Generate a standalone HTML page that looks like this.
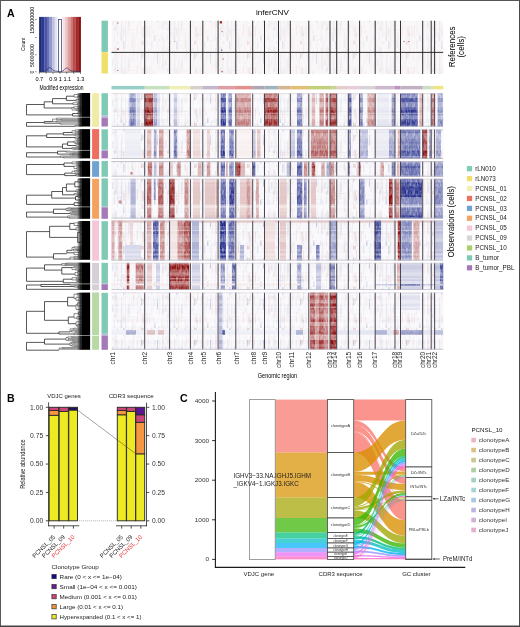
<!DOCTYPE html>
<html><head><meta charset="utf-8"><style>
html,body{margin:0;padding:0;background:#fff;width:520px;height:627px;overflow:hidden}
svg{display:block;font-family:"Liberation Sans",sans-serif;will-change:transform}

</style></head><body>
<div id="w"><svg width="520" height="627" viewBox="0 0 520 627" font-family="Liberation Sans, sans-serif"><rect x="0" y="0" width="520" height="627" fill="#fff" />
<text x="6.9" y="16.5" font-size="10.6" font-weight="bold" >A</text>
<rect x="39.1" y="16.9" width="2.76" height="54.9" fill="#1e2a7a" />
<rect x="41.71" y="16.9" width="2.76" height="54.9" fill="#2c3a8e" />
<rect x="44.31" y="16.9" width="2.76" height="54.9" fill="#4a52a4" />
<rect x="46.92" y="16.9" width="2.76" height="54.9" fill="#6a70b6" />
<rect x="49.52" y="16.9" width="2.76" height="54.9" fill="#9498cc" />
<rect x="52.13" y="16.9" width="2.76" height="54.9" fill="#bdc0e2" />
<rect x="54.74" y="16.9" width="2.76" height="54.9" fill="#e2e4f3" />
<rect x="57.34" y="16.9" width="2.76" height="54.9" fill="#ffffff" />
<rect x="59.95" y="16.9" width="2.76" height="54.9" fill="#ffffff" />
<rect x="62.56" y="16.9" width="2.76" height="54.9" fill="#f6e0e0" />
<rect x="65.16" y="16.9" width="2.76" height="54.9" fill="#ecc4c4" />
<rect x="67.77" y="16.9" width="2.76" height="54.9" fill="#dc9e9e" />
<rect x="70.38" y="16.9" width="2.76" height="54.9" fill="#cc7676" />
<rect x="72.98" y="16.9" width="2.76" height="54.9" fill="#b84c4c" />
<rect x="75.59" y="16.9" width="2.76" height="54.9" fill="#a42a2a" />
<rect x="78.19" y="16.9" width="2.76" height="54.9" fill="#8e1414" />
<rect x="58.4" y="19.5" width="3.2" height="52.3" fill="#fff" stroke="#27306e" stroke-width="0.7"/>
<path d="M39.1 71.6 L44 71.4 L46.5 70.5 L48 68.2 L49.5 67.3 L51 68 L52.5 69.8 L54 70.8 L57 71.2 L58.4 71.4 M61.6 71.4 L63 71 L64.5 69.4 L66 67.9 L67.5 68.2 L69 69.6 L71 70.8 L74 71.3 L80.8 71.6" fill="none" stroke="#1d2660" stroke-width="0.6"/>
<line x1="35.2" y1="19.6" x2="36.6" y2="19.6" stroke="#222" stroke-width="0.6" />
<line x1="35.2" y1="37.5" x2="36.6" y2="37.5" stroke="#222" stroke-width="0.6" />
<line x1="35.2" y1="54.8" x2="36.6" y2="54.8" stroke="#222" stroke-width="0.6" />
<line x1="35.2" y1="71.8" x2="36.6" y2="71.8" stroke="#222" stroke-width="0.6" />
<line x1="39.1" y1="72.2" x2="80.8" y2="72.2" stroke="#222" stroke-width="0.6" />
<line x1="39.3" y1="72.2" x2="39.3" y2="73.8" stroke="#222" stroke-width="0.6" />
<line x1="46.17" y1="72.2" x2="46.17" y2="73.8" stroke="#222" stroke-width="0.6" />
<line x1="53.03" y1="72.2" x2="53.03" y2="73.8" stroke="#222" stroke-width="0.6" />
<line x1="59.9" y1="72.2" x2="59.9" y2="73.8" stroke="#222" stroke-width="0.6" />
<line x1="66.77" y1="72.2" x2="66.77" y2="73.8" stroke="#222" stroke-width="0.6" />
<line x1="73.63" y1="72.2" x2="73.63" y2="73.8" stroke="#222" stroke-width="0.6" />
<line x1="80.5" y1="72.2" x2="80.5" y2="73.8" stroke="#222" stroke-width="0.6" />
<text x="34.2" y="20.2" font-size="5" text-anchor="middle" textLength="27" lengthAdjust="spacingAndGlyphs" transform="rotate(-90 34.2 20.2)" >150000000</text>
<text x="34.2" y="55.5" font-size="5" text-anchor="middle" textLength="23" lengthAdjust="spacingAndGlyphs" transform="rotate(-90 34.2 55.5)" >50000000</text>
<text x="34.2" y="72.2" font-size="5" text-anchor="middle" transform="rotate(-90 34.2 72.2)" >0</text>
<text x="24.6" y="44.3" font-size="6.2" text-anchor="middle" textLength="13.5" lengthAdjust="spacingAndGlyphs" transform="rotate(-90 24.6 44.3)" >Count</text>
<text x="39.3" y="80.9" font-size="5.6" text-anchor="middle" >0.7</text>
<text x="53.2" y="80.9" font-size="5.6" text-anchor="middle" >0.9</text>
<text x="60.3" y="80.9" font-size="5.6" text-anchor="middle" >1</text>
<text x="67.3" y="80.9" font-size="5.6" text-anchor="middle" >1.1</text>
<text x="80.5" y="80.9" font-size="5.6" text-anchor="middle" >1.3</text>
<text x="61.5" y="90" font-size="6.3" text-anchor="middle" textLength="44" lengthAdjust="spacingAndGlyphs" >Modified expression</text>
<text x="272.4" y="14.9" font-size="8.1" text-anchor="middle" textLength="33" lengthAdjust="spacingAndGlyphs" >inferCNV</text>
<rect x="111.5" y="85.9" width="33.3" height="3.5" fill="#97cfc6" />
<rect x="144.7" y="85.9" width="25" height="3.5" fill="#c7e1be" />
<rect x="169.6" y="85.9" width="20.9" height="3.5" fill="#f0efb8" />
<rect x="190.4" y="85.9" width="12.5" height="3.5" fill="#d4d2c8" />
<rect x="202.8" y="85.9" width="15.4" height="3.5" fill="#c3b6cd" />
<rect x="218.1" y="85.9" width="17.8" height="3.5" fill="#dc9ea2" />
<rect x="235.8" y="85.9" width="17" height="3.5" fill="#e1928d" />
<rect x="252.7" y="85.9" width="11.9" height="3.5" fill="#ada7b6" />
<rect x="264.5" y="85.9" width="14.1" height="3.5" fill="#9fb4bf" />
<rect x="278.5" y="85.9" width="11.9" height="3.5" fill="#d4b58f" />
<rect x="290.3" y="85.9" width="18.6" height="3.5" fill="#e2be77" />
<rect x="308.8" y="85.9" width="21.3" height="3.5" fill="#c3d07a" />
<rect x="330" y="85.9" width="6.8" height="3.5" fill="#c6d497" />
<rect x="336.7" y="85.9" width="11.7" height="3.5" fill="#e4cdcb" />
<rect x="348.3" y="85.9" width="11.4" height="3.5" fill="#e6cddb" />
<rect x="359.6" y="85.9" width="15.7" height="3.5" fill="#d8d2d6" />
<rect x="375.2" y="85.9" width="19.9" height="3.5" fill="#cbb8cc" />
<rect x="395" y="85.9" width="5.6" height="3.5" fill="#bf93c0" />
<rect x="400.5" y="85.9" width="22.3" height="3.5" fill="#c2b1c1" />
<rect x="422.7" y="85.9" width="8.6" height="3.5" fill="#c9dec4" />
<rect x="431.2" y="85.9" width="3.5" height="3.5" fill="#dde3a4" />
<rect x="434.6" y="85.9" width="8.7" height="3.5" fill="#f2e480" />
<defs><pattern id="nz" patternUnits="userSpaceOnUse" width="53" height="41"><rect x="0" y="10.66" width="1.2" height="9.81" fill="#eeeef2"/><rect x="0" y="20.47" width="1.2" height="8.14" fill="#f6ecec"/><rect x="0" y="39.51" width="1.2" height="1.49" fill="#ebebf0"/><rect x="2.7" y="0" width="0.5" height="2.6" fill="#f8f1f1"/><rect x="2.7" y="23.19" width="0.5" height="6.57" fill="#eaeaef"/><rect x="2.7" y="29.76" width="0.5" height="5.15" fill="#efeff3"/><rect x="2.7" y="34.92" width="0.5" height="6.08" fill="#cbcde3"/><rect x="3.5" y="6.7" width="0.5" height="5.97" fill="#ced0e5"/><rect x="3.5" y="12.67" width="0.5" height="2.87" fill="#cfd1e5"/><rect x="3.5" y="15.55" width="0.5" height="4.46" fill="#e6caca"/><rect x="3.5" y="20.01" width="0.5" height="7.59" fill="#e7cece"/><rect x="3.5" y="27.6" width="0.5" height="8.44" fill="#f4e8e8"/><rect x="4.6" y="0" width="0.5" height="4.11" fill="#d5d7e8"/><rect x="4.6" y="4.11" width="0.5" height="11.89" fill="#e6cbcb"/><rect x="4.6" y="16" width="0.5" height="4.96" fill="#ebd5d5"/><rect x="4.6" y="20.96" width="0.5" height="8.01" fill="#c6c8e0"/><rect x="4.6" y="36.72" width="0.5" height="3.83" fill="#cccfe4"/><rect x="6.6" y="0" width="0.7" height="8.87" fill="#f0f1f7"/><rect x="6.6" y="8.87" width="0.7" height="3.09" fill="#e7cdcd"/><rect x="6.6" y="18.17" width="0.7" height="6.91" fill="#c5c7e0"/><rect x="6.6" y="31.87" width="0.7" height="8.16" fill="#f5f5f8"/><rect x="6.6" y="40.03" width="0.7" height="0.97" fill="#f2e4e4"/><rect x="7.6" y="17.43" width="0.5" height="8.91" fill="#f8f1f1"/><rect x="7.6" y="37.44" width="0.5" height="3.56" fill="#f1f1f4"/><rect x="8.1" y="0" width="0.5" height="6.53" fill="#f4f4f7"/><rect x="8.1" y="6.53" width="0.5" height="11.63" fill="#eedbdb"/><rect x="8.1" y="28.74" width="0.5" height="2.3" fill="#e9d1d1"/><rect x="8.1" y="31.04" width="0.5" height="2.12" fill="#f6eded"/><rect x="8.1" y="33.16" width="0.5" height="6.16" fill="#d2d4e7"/><rect x="8.1" y="39.33" width="0.5" height="1.67" fill="#dbddec"/><rect x="8.6" y="5.35" width="1.2" height="8.6" fill="#e2e3ef"/><rect x="8.6" y="13.95" width="1.2" height="8.12" fill="#eeeef2"/><rect x="8.6" y="22.07" width="1.2" height="4.41" fill="#e9e9ee"/><rect x="8.6" y="26.49" width="1.2" height="4" fill="#e3c4c4"/><rect x="8.6" y="30.49" width="1.2" height="3.35" fill="#f2f2f8"/><rect x="9.8" y="6.71" width="1.2" height="10.31" fill="#e8e8ed"/><rect x="9.8" y="17.02" width="1.2" height="8.25" fill="#eaeaef"/><rect x="9.8" y="25.27" width="1.2" height="4.81" fill="#efeff3"/><rect x="11" y="0" width="1.2" height="3.09" fill="#e2e3ef"/><rect x="11" y="11.63" width="1.2" height="9.55" fill="#ededf1"/><rect x="11" y="21.18" width="1.2" height="11.47" fill="#eaeaef"/><rect x="11" y="32.65" width="1.2" height="4.24" fill="#e1e2ef"/><rect x="11" y="40.86" width="1.2" height="0.14" fill="#f0f0f4"/><rect x="12.8" y="12.97" width="0.7" height="3.23" fill="#f7eeee"/><rect x="12.8" y="32.59" width="0.7" height="2.16" fill="#f1e1e1"/><rect x="14.5" y="0" width="0.5" height="3.73" fill="#edeef5"/><rect x="14.5" y="21.29" width="0.5" height="11.46" fill="#eff0f7"/><rect x="14.5" y="32.75" width="0.5" height="7.27" fill="#d5d7e9"/><rect x="14.5" y="40.02" width="0.5" height="0.98" fill="#e7e7ec"/><rect x="15.3" y="10.51" width="0.9" height="7.24" fill="#ecd8d8"/><rect x="15.3" y="17.75" width="0.9" height="8.05" fill="#dbdcec"/><rect x="15.3" y="25.8" width="0.9" height="10.01" fill="#d3d4e7"/><rect x="15.3" y="35.81" width="0.9" height="5.19" fill="#c7cae1"/><rect x="17.2" y="0" width="1.2" height="3.27" fill="#c8cbe2"/><rect x="17.2" y="3.27" width="1.2" height="5.17" fill="#c7cae1"/><rect x="17.2" y="8.44" width="1.2" height="9.79" fill="#f1f1f4"/><rect x="17.2" y="26.84" width="1.2" height="3.23" fill="#f4e9e9"/><rect x="17.2" y="30.06" width="1.2" height="6.37" fill="#ecd8d8"/><rect x="17.2" y="40.48" width="1.2" height="0.52" fill="#f2f2f5"/><rect x="19" y="0" width="0.7" height="5.16" fill="#e7e7ed"/><rect x="19" y="5.16" width="0.7" height="3.34" fill="#e7e8f2"/><rect x="19" y="8.5" width="0.7" height="10.32" fill="#eeeef6"/><rect x="19" y="18.82" width="0.7" height="8.85" fill="#e5e5eb"/><rect x="19" y="27.67" width="0.7" height="3.15" fill="#f3f3f6"/><rect x="19" y="30.83" width="0.7" height="2.71" fill="#ecd7d7"/><rect x="19" y="33.53" width="0.7" height="7.47" fill="#e5e5eb"/><rect x="19.7" y="3.34" width="0.5" height="2.78" fill="#efdddd"/><rect x="19.7" y="6.12" width="0.5" height="4.1" fill="#f2f2f8"/><rect x="19.7" y="10.22" width="0.5" height="6.08" fill="#f5f5f7"/><rect x="19.7" y="16.3" width="0.5" height="9.92" fill="#e6e6ec"/><rect x="19.7" y="26.22" width="0.5" height="11.4" fill="#ebd5d5"/><rect x="19.7" y="37.62" width="0.5" height="3.38" fill="#e7cdcd"/><rect x="21.2" y="19.91" width="0.7" height="9.65" fill="#f0f1f7"/><rect x="21.2" y="29.57" width="0.7" height="6.69" fill="#f2f2f5"/><rect x="22.5" y="0" width="0.7" height="8.6" fill="#ebebf0"/><rect x="22.5" y="17.61" width="0.7" height="11.8" fill="#d0d2e6"/><rect x="22.5" y="29.41" width="0.7" height="6.02" fill="#f0e0e0"/><rect x="22.5" y="39.94" width="0.7" height="1.06" fill="#ebebf0"/><rect x="23.2" y="11.72" width="0.5" height="10.56" fill="#dfe0ee"/><rect x="23.2" y="22.28" width="0.5" height="4.84" fill="#ecd8d8"/><rect x="25.2" y="0" width="0.5" height="8.33" fill="#f1f2f8"/><rect x="25.2" y="8.33" width="0.5" height="5.98" fill="#f3f3f6"/><rect x="25.2" y="14.31" width="0.5" height="9.19" fill="#f1f2f8"/><rect x="25.7" y="0" width="1.2" height="6.56" fill="#ecd8d8"/><rect x="25.7" y="12.99" width="1.2" height="6.56" fill="#ededf1"/><rect x="25.7" y="31.52" width="1.2" height="9.34" fill="#ebebf0"/><rect x="25.7" y="40.86" width="1.2" height="0.14" fill="#d9daea"/><rect x="27.5" y="0" width="0.7" height="3.9" fill="#f6f6f8"/><rect x="27.5" y="3.9" width="0.7" height="2.61" fill="#ead3d3"/><rect x="27.5" y="6.51" width="0.7" height="7.42" fill="#e9d0d0"/><rect x="27.5" y="13.92" width="0.7" height="8.31" fill="#eaeaf4"/><rect x="27.5" y="31.68" width="0.7" height="2.74" fill="#f3f3f6"/><rect x="27.5" y="34.43" width="0.7" height="6.24" fill="#e5e5eb"/><rect x="27.5" y="40.67" width="0.7" height="0.33" fill="#c8cae1"/><rect x="28.8" y="0" width="0.5" height="6.62" fill="#dfe0ee"/><rect x="28.8" y="6.62" width="0.5" height="10.15" fill="#f3f4f9"/><rect x="28.8" y="27.88" width="0.5" height="8.95" fill="#f3f3f6"/><rect x="28.8" y="36.83" width="0.5" height="4.17" fill="#e4e5f1"/><rect x="30.8" y="6.38" width="0.9" height="5.05" fill="#f2f2f5"/><rect x="30.8" y="11.43" width="0.9" height="5.62" fill="#efdfdf"/><rect x="30.8" y="17.04" width="0.9" height="3.95" fill="#ededf1"/><rect x="30.8" y="24.76" width="0.9" height="10.81" fill="#ecd9d9"/><rect x="32.7" y="0" width="0.5" height="7.82" fill="#e4e5f0"/><rect x="32.7" y="7.82" width="0.5" height="3.05" fill="#e9d1d1"/><rect x="32.7" y="10.87" width="0.5" height="10.16" fill="#f1f1f4"/><rect x="32.7" y="21.04" width="0.5" height="6.59" fill="#e4e5f0"/><rect x="32.7" y="39.69" width="0.5" height="1.31" fill="#f0e0e0"/><rect x="34.2" y="7.24" width="0.5" height="10.02" fill="#e5e5eb"/><rect x="34.2" y="17.26" width="0.5" height="5.76" fill="#efdddd"/><rect x="34.2" y="23.02" width="0.5" height="11.7" fill="#e9e9ee"/><rect x="34.2" y="34.71" width="0.5" height="3.79" fill="#f6f6f8"/><rect x="34.2" y="38.51" width="0.5" height="2.49" fill="#ececf1"/><rect x="35" y="0" width="1.2" height="3.85" fill="#e7cccc"/><rect x="35" y="11.33" width="1.2" height="6.79" fill="#c8cae1"/><rect x="35" y="25.6" width="1.2" height="6.83" fill="#f0f0f3"/><rect x="35" y="32.43" width="1.2" height="7.28" fill="#f2f2f5"/><rect x="35" y="39.7" width="1.2" height="1.3" fill="#ececf0"/><rect x="36.5" y="0" width="1.2" height="3.57" fill="#e4c6c6"/><rect x="36.5" y="11.94" width="1.2" height="4.67" fill="#e6cccc"/><rect x="36.5" y="26.82" width="1.2" height="10.22" fill="#e8cece"/><rect x="36.5" y="37.04" width="1.2" height="3.96" fill="#f1f1f4"/><rect x="38" y="3.93" width="1.2" height="9.81" fill="#efdede"/><rect x="38" y="25.21" width="1.2" height="5.16" fill="#f5f5f8"/><rect x="38" y="30.37" width="1.2" height="2.74" fill="#e9e9ee"/><rect x="38" y="33.12" width="1.2" height="3.22" fill="#d2d4e7"/><rect x="38" y="36.33" width="1.2" height="4.67" fill="#eaeaef"/><rect x="40.7" y="0" width="0.7" height="4.9" fill="#e5e6f1"/><rect x="40.7" y="10.83" width="0.7" height="4.56" fill="#ededf1"/><rect x="40.7" y="15.39" width="0.7" height="9.24" fill="#eff0f7"/><rect x="40.7" y="27.57" width="0.7" height="9.08" fill="#e5c8c8"/><rect x="40.7" y="36.66" width="0.7" height="2.9" fill="#f6eded"/><rect x="42.4" y="8.47" width="0.7" height="10.21" fill="#efdede"/><rect x="43.1" y="0" width="0.9" height="5.31" fill="#efeff6"/><rect x="43.1" y="26.24" width="0.9" height="11.03" fill="#edd9d9"/><rect x="45.5" y="0" width="0.7" height="7.67" fill="#ced1e5"/><rect x="45.5" y="7.67" width="0.7" height="6.78" fill="#f2f2f5"/><rect x="45.5" y="14.45" width="0.7" height="10.83" fill="#e8e9f3"/><rect x="45.5" y="25.28" width="0.7" height="7.46" fill="#e7e7ec"/><rect x="45.5" y="32.74" width="0.7" height="5.35" fill="#f0f0f4"/><rect x="45.5" y="38.09" width="0.7" height="2.91" fill="#eeeef2"/><rect x="47.2" y="9.83" width="0.7" height="11.99" fill="#ececf0"/><rect x="47.2" y="30.22" width="0.7" height="3.59" fill="#ecd8d8"/><rect x="47.2" y="33.8" width="0.7" height="6.06" fill="#f6f6f8"/><rect x="48.2" y="11.59" width="1.2" height="6.7" fill="#e9e9ee"/><rect x="48.2" y="35.53" width="1.2" height="5.47" fill="#c8cbe2"/><rect x="50.9" y="0" width="1.2" height="6.2" fill="#efeff3"/><rect x="50.9" y="6.2" width="1.2" height="5.76" fill="#f2f2f5"/><rect x="50.9" y="11.97" width="1.2" height="10.44" fill="#c5c8e0"/><rect x="52.7" y="0" width="1.2" height="7.64" fill="#dfe1ee"/><rect x="52.7" y="7.64" width="1.2" height="2.72" fill="#e3c6c6"/><rect x="52.7" y="10.36" width="1.2" height="6.53" fill="#f2f3f8"/><rect x="52.7" y="16.89" width="1.2" height="6.41" fill="#f2f2f5"/><rect x="52.7" y="23.3" width="1.2" height="5.06" fill="#f1e2e2"/><rect x="52.7" y="38.13" width="1.2" height="2.87" fill="#d2d4e7"/><rect x="17" y="33.52" width="8.67" height="0.6" fill="#f1f1f4"/><rect x="47.78" y="35.19" width="5.42" height="0.6" fill="#e7e7ed"/><rect x="42.25" y="7.66" width="3.6" height="0.6" fill="#f2f2f5"/><rect x="15.02" y="29.03" width="13.8" height="0.6" fill="#e2e2e9"/><rect x="6.47" y="28.53" width="11.35" height="0.6" fill="#e1e1e8"/><rect x="3.79" y="17.81" width="5.68" height="0.6" fill="#eeeef2"/><rect x="9.43" y="28.42" width="5.17" height="0.6" fill="#f0f0f3"/><rect x="37.94" y="26.58" width="7.47" height="0.6" fill="#e7e7ec"/></pattern></defs>
<defs><pattern id="vt" patternUnits="userSpaceOnUse" width="23" height="29"><rect x="0" y="3.37" width="0.5" height="2.48" fill="#fff" opacity="0.4"/><rect x="0" y="9.35" width="0.5" height="3.42" fill="#fff" opacity="0.4"/><rect x="0" y="14.81" width="0.5" height="1.77" fill="#fff" opacity="0.4"/><rect x="0" y="16.58" width="0.5" height="3.16" fill="#fff" opacity="0.4"/><rect x="0" y="24.26" width="0.5" height="4.47" fill="#fff" opacity="0.3"/><rect x="0.5" y="6.24" width="0.5" height="4.29" fill="#fff" opacity="0.12"/><rect x="0.5" y="10.53" width="0.5" height="2.89" fill="#fff" opacity="0.3"/><rect x="0.5" y="13.42" width="0.5" height="3.86" fill="#fff" opacity="0.3"/><rect x="0.5" y="17.28" width="0.5" height="2.58" fill="#fff" opacity="0.4"/><rect x="1" y="1.54" width="0.5" height="2.03" fill="#fff" opacity="0.3"/><rect x="1" y="3.58" width="0.5" height="4.12" fill="#fff" opacity="0.12"/><rect x="1" y="7.69" width="0.5" height="2.68" fill="#fff" opacity="0.3"/><rect x="1" y="10.38" width="0.5" height="3.3" fill="#fff" opacity="0.3"/><rect x="1" y="13.67" width="0.5" height="3.34" fill="#fff" opacity="0.2"/><rect x="1" y="25.16" width="0.5" height="3.79" fill="#fff" opacity="0.2"/><rect x="1.5" y="0" width="1" height="3.62" fill="#fff" opacity="0.12"/><rect x="1.5" y="5.76" width="1" height="2.93" fill="#fff" opacity="0.4"/><rect x="1.5" y="12.69" width="1" height="1.08" fill="#fff" opacity="0.3"/><rect x="1.5" y="19.02" width="1" height="2.51" fill="#fff" opacity="0.2"/><rect x="1.5" y="21.53" width="1" height="3.2" fill="#fff" opacity="0.12"/><rect x="2.5" y="3.4" width="0.5" height="4.8" fill="#fff" opacity="0.3"/><rect x="2.5" y="8.19" width="0.5" height="2.17" fill="#fff" opacity="0.12"/><rect x="2.5" y="11.99" width="0.5" height="4.92" fill="#fff" opacity="0.2"/><rect x="2.5" y="19.16" width="0.5" height="4.59" fill="#fff" opacity="0.3"/><rect x="2.5" y="23.75" width="0.5" height="2.51" fill="#fff" opacity="0.3"/><rect x="3" y="0" width="1" height="4.89" fill="#fff" opacity="0.12"/><rect x="3" y="7.62" width="1" height="4.75" fill="#fff" opacity="0.3"/><rect x="3" y="12.36" width="1" height="4.91" fill="#fff" opacity="0.12"/><rect x="3" y="20.47" width="1" height="4.15" fill="#fff" opacity="0.2"/><rect x="3" y="25.7" width="1" height="1.24" fill="#fff" opacity="0.2"/><rect x="3" y="26.94" width="1" height="2.06" fill="#fff" opacity="0.2"/><rect x="4" y="0" width="1" height="3.83" fill="#fff" opacity="0.4"/><rect x="4" y="9.74" width="1" height="4.85" fill="#fff" opacity="0.12"/><rect x="4" y="14.59" width="1" height="3.51" fill="#fff" opacity="0.12"/><rect x="4" y="18.1" width="1" height="3.37" fill="#fff" opacity="0.2"/><rect x="4" y="23.18" width="1" height="2.25" fill="#fff" opacity="0.2"/><rect x="4" y="25.43" width="1" height="3.57" fill="#fff" opacity="0.12"/><rect x="5" y="15.36" width="0.7" height="3.61" fill="#fff" opacity="0.12"/><rect x="5" y="24.65" width="0.7" height="1.41" fill="#fff" opacity="0.2"/><rect x="5.7" y="5.56" width="0.7" height="4.54" fill="#fff" opacity="0.4"/><rect x="5.7" y="15.58" width="0.7" height="4.45" fill="#fff" opacity="0.2"/><rect x="5.7" y="24.26" width="0.7" height="4.23" fill="#fff" opacity="0.2"/><rect x="5.7" y="28.49" width="0.7" height="0.51" fill="#fff" opacity="0.3"/><rect x="6.4" y="0" width="0.7" height="3.07" fill="#fff" opacity="0.12"/><rect x="6.4" y="3.07" width="0.7" height="2.86" fill="#fff" opacity="0.3"/><rect x="6.4" y="5.93" width="0.7" height="2.16" fill="#fff" opacity="0.3"/><rect x="6.4" y="8.09" width="0.7" height="1.14" fill="#fff" opacity="0.3"/><rect x="6.4" y="10.86" width="0.7" height="2.91" fill="#fff" opacity="0.3"/><rect x="6.4" y="17.01" width="0.7" height="1.13" fill="#fff" opacity="0.4"/><rect x="6.4" y="18.13" width="0.7" height="4.35" fill="#fff" opacity="0.12"/><rect x="6.4" y="25.66" width="0.7" height="3.34" fill="#fff" opacity="0.12"/><rect x="7.1" y="5.38" width="0.5" height="4.59" fill="#fff" opacity="0.3"/><rect x="7.1" y="16.2" width="0.5" height="1.69" fill="#fff" opacity="0.12"/><rect x="7.1" y="19.84" width="0.5" height="3.1" fill="#fff" opacity="0.3"/><rect x="7.1" y="24.16" width="0.5" height="2.37" fill="#fff" opacity="0.12"/><rect x="7.1" y="26.52" width="0.5" height="2.48" fill="#fff" opacity="0.4"/><rect x="7.6" y="3.9" width="0.5" height="1.69" fill="#fff" opacity="0.12"/><rect x="7.6" y="14.56" width="0.5" height="2.95" fill="#fff" opacity="0.3"/><rect x="7.6" y="17.51" width="0.5" height="1.2" fill="#fff" opacity="0.12"/><rect x="7.6" y="18.71" width="0.5" height="1.99" fill="#fff" opacity="0.3"/><rect x="7.6" y="20.71" width="0.5" height="1.2" fill="#fff" opacity="0.2"/><rect x="8.1" y="8.85" width="0.5" height="3.06" fill="#fff" opacity="0.4"/><rect x="8.1" y="11.91" width="0.5" height="2.26" fill="#fff" opacity="0.2"/><rect x="8.1" y="14.17" width="0.5" height="1.29" fill="#fff" opacity="0.3"/><rect x="8.1" y="15.46" width="0.5" height="3.59" fill="#fff" opacity="0.12"/><rect x="8.1" y="21.49" width="0.5" height="4.95" fill="#fff" opacity="0.3"/><rect x="8.1" y="27.94" width="0.5" height="1.06" fill="#fff" opacity="0.3"/><rect x="8.6" y="3.27" width="0.5" height="2.49" fill="#fff" opacity="0.3"/><rect x="8.6" y="9.31" width="0.5" height="3.49" fill="#fff" opacity="0.3"/><rect x="8.6" y="12.8" width="0.5" height="1.21" fill="#fff" opacity="0.4"/><rect x="8.6" y="14.01" width="0.5" height="4.04" fill="#fff" opacity="0.2"/><rect x="8.6" y="18.05" width="0.5" height="2.68" fill="#fff" opacity="0.3"/><rect x="8.6" y="23.58" width="0.5" height="1.87" fill="#fff" opacity="0.12"/><rect x="9.1" y="1.9" width="0.7" height="4.52" fill="#fff" opacity="0.2"/><rect x="9.1" y="6.42" width="0.7" height="2.5" fill="#fff" opacity="0.12"/><rect x="9.1" y="10.4" width="0.7" height="4.76" fill="#fff" opacity="0.3"/><rect x="9.1" y="15.16" width="0.7" height="3.67" fill="#fff" opacity="0.2"/><rect x="9.8" y="1.18" width="0.7" height="3.26" fill="#fff" opacity="0.3"/><rect x="9.8" y="9.62" width="0.7" height="3.69" fill="#fff" opacity="0.12"/><rect x="10.5" y="0" width="0.5" height="3.58" fill="#fff" opacity="0.4"/><rect x="10.5" y="3.58" width="0.5" height="3.46" fill="#fff" opacity="0.3"/><rect x="10.5" y="7.05" width="0.5" height="2.01" fill="#fff" opacity="0.3"/><rect x="10.5" y="9.06" width="0.5" height="4.76" fill="#fff" opacity="0.3"/><rect x="10.5" y="13.81" width="0.5" height="4.87" fill="#fff" opacity="0.3"/><rect x="10.5" y="18.68" width="0.5" height="3" fill="#fff" opacity="0.3"/><rect x="10.5" y="26.06" width="0.5" height="2.66" fill="#fff" opacity="0.4"/><rect x="10.5" y="28.72" width="0.5" height="0.28" fill="#fff" opacity="0.3"/><rect x="11" y="0" width="0.5" height="1.65" fill="#fff" opacity="0.4"/><rect x="11" y="1.65" width="0.5" height="3.99" fill="#fff" opacity="0.4"/><rect x="11" y="10.53" width="0.5" height="1.59" fill="#fff" opacity="0.2"/><rect x="11" y="12.12" width="0.5" height="4.74" fill="#fff" opacity="0.12"/><rect x="11" y="16.86" width="0.5" height="3.69" fill="#fff" opacity="0.3"/><rect x="11" y="20.54" width="0.5" height="3.38" fill="#fff" opacity="0.12"/><rect x="11" y="23.93" width="0.5" height="4.56" fill="#fff" opacity="0.12"/><rect x="11" y="28.48" width="0.5" height="0.52" fill="#fff" opacity="0.4"/><rect x="11.5" y="0" width="0.7" height="1.8" fill="#fff" opacity="0.2"/><rect x="11.5" y="1.8" width="0.7" height="1.96" fill="#fff" opacity="0.4"/><rect x="11.5" y="7.85" width="0.7" height="2.67" fill="#fff" opacity="0.4"/><rect x="11.5" y="20.13" width="0.7" height="4.43" fill="#fff" opacity="0.3"/><rect x="12.2" y="3.59" width="0.5" height="4.83" fill="#fff" opacity="0.12"/><rect x="12.2" y="16.25" width="0.5" height="4.6" fill="#fff" opacity="0.12"/><rect x="12.2" y="22.53" width="0.5" height="2.25" fill="#fff" opacity="0.3"/><rect x="12.2" y="26.14" width="0.5" height="1.47" fill="#fff" opacity="0.12"/><rect x="12.2" y="27.62" width="0.5" height="1.38" fill="#fff" opacity="0.12"/><rect x="12.7" y="0" width="0.5" height="2.43" fill="#fff" opacity="0.2"/><rect x="12.7" y="2.43" width="0.5" height="1.03" fill="#fff" opacity="0.2"/><rect x="12.7" y="3.45" width="0.5" height="2.33" fill="#fff" opacity="0.3"/><rect x="12.7" y="8.72" width="0.5" height="3.58" fill="#fff" opacity="0.4"/><rect x="12.7" y="12.3" width="0.5" height="2.56" fill="#fff" opacity="0.2"/><rect x="12.7" y="14.86" width="0.5" height="1.48" fill="#fff" opacity="0.12"/><rect x="12.7" y="16.34" width="0.5" height="1.3" fill="#fff" opacity="0.3"/><rect x="12.7" y="17.65" width="0.5" height="1.45" fill="#fff" opacity="0.12"/><rect x="12.7" y="19.1" width="0.5" height="1.39" fill="#fff" opacity="0.2"/><rect x="12.7" y="20.48" width="0.5" height="3.71" fill="#fff" opacity="0.2"/><rect x="12.7" y="24.2" width="0.5" height="4.03" fill="#fff" opacity="0.12"/><rect x="12.7" y="28.23" width="0.5" height="0.77" fill="#fff" opacity="0.12"/><rect x="13.2" y="0" width="0.5" height="4.02" fill="#fff" opacity="0.2"/><rect x="13.2" y="7.71" width="0.5" height="3.67" fill="#fff" opacity="0.2"/><rect x="13.2" y="11.38" width="0.5" height="1.24" fill="#fff" opacity="0.12"/><rect x="13.2" y="19.91" width="0.5" height="1.72" fill="#fff" opacity="0.4"/><rect x="13.2" y="23.12" width="0.5" height="4.68" fill="#fff" opacity="0.3"/><rect x="13.7" y="6.75" width="0.7" height="3.86" fill="#fff" opacity="0.3"/><rect x="13.7" y="10.61" width="0.7" height="2.44" fill="#fff" opacity="0.12"/><rect x="13.7" y="19.63" width="0.7" height="2.91" fill="#fff" opacity="0.12"/><rect x="13.7" y="22.54" width="0.7" height="1.99" fill="#fff" opacity="0.2"/><rect x="13.7" y="24.53" width="0.7" height="4.47" fill="#fff" opacity="0.3"/><rect x="14.4" y="12.65" width="0.7" height="3.27" fill="#fff" opacity="0.3"/><rect x="15.1" y="0" width="1" height="1.72" fill="#fff" opacity="0.12"/><rect x="15.1" y="1.72" width="1" height="2.48" fill="#fff" opacity="0.12"/><rect x="15.1" y="4.19" width="1" height="1.12" fill="#fff" opacity="0.4"/><rect x="15.1" y="5.31" width="1" height="4.56" fill="#fff" opacity="0.3"/><rect x="15.1" y="9.88" width="1" height="2.26" fill="#fff" opacity="0.12"/><rect x="15.1" y="12.14" width="1" height="3.53" fill="#fff" opacity="0.12"/><rect x="15.1" y="15.68" width="1" height="4.58" fill="#fff" opacity="0.4"/><rect x="15.1" y="26.72" width="1" height="2.28" fill="#fff" opacity="0.4"/><rect x="16.1" y="1.77" width="0.5" height="1.15" fill="#fff" opacity="0.4"/><rect x="16.1" y="2.92" width="0.5" height="1.45" fill="#fff" opacity="0.12"/><rect x="16.1" y="15.34" width="0.5" height="3.02" fill="#fff" opacity="0.4"/><rect x="16.1" y="18.37" width="0.5" height="3.16" fill="#fff" opacity="0.2"/><rect x="16.1" y="21.52" width="0.5" height="2.29" fill="#fff" opacity="0.2"/><rect x="16.1" y="28.91" width="0.5" height="0.09" fill="#fff" opacity="0.2"/><rect x="16.6" y="10.42" width="0.5" height="4.15" fill="#fff" opacity="0.3"/><rect x="16.6" y="15.87" width="0.5" height="3.82" fill="#fff" opacity="0.3"/><rect x="16.6" y="22.69" width="0.5" height="3.15" fill="#fff" opacity="0.3"/><rect x="16.6" y="25.84" width="0.5" height="1.83" fill="#fff" opacity="0.4"/><rect x="16.6" y="27.67" width="0.5" height="1.33" fill="#fff" opacity="0.4"/><rect x="17.1" y="0" width="0.7" height="4.03" fill="#fff" opacity="0.3"/><rect x="17.1" y="4.03" width="0.7" height="2.75" fill="#fff" opacity="0.4"/><rect x="17.1" y="6.78" width="0.7" height="4.6" fill="#fff" opacity="0.12"/><rect x="17.1" y="11.38" width="0.7" height="2.47" fill="#fff" opacity="0.2"/><rect x="17.1" y="13.85" width="0.7" height="2.79" fill="#fff" opacity="0.2"/><rect x="17.1" y="24.9" width="0.7" height="2.03" fill="#fff" opacity="0.2"/><rect x="17.1" y="26.94" width="0.7" height="1.57" fill="#fff" opacity="0.4"/><rect x="17.8" y="0" width="0.5" height="1.09" fill="#fff" opacity="0.3"/><rect x="17.8" y="9.67" width="0.5" height="2.61" fill="#fff" opacity="0.2"/><rect x="17.8" y="24.09" width="0.5" height="1.97" fill="#fff" opacity="0.3"/><rect x="18.3" y="4.65" width="0.7" height="4.23" fill="#fff" opacity="0.12"/><rect x="18.3" y="8.88" width="0.7" height="2.1" fill="#fff" opacity="0.4"/><rect x="18.3" y="10.98" width="0.7" height="4.16" fill="#fff" opacity="0.12"/><rect x="18.3" y="15.14" width="0.7" height="2.95" fill="#fff" opacity="0.12"/><rect x="18.3" y="18.09" width="0.7" height="1.12" fill="#fff" opacity="0.2"/><rect x="18.3" y="19.21" width="0.7" height="3.52" fill="#fff" opacity="0.2"/><rect x="19" y="5.12" width="0.5" height="3.62" fill="#fff" opacity="0.2"/><rect x="19" y="8.74" width="0.5" height="1.8" fill="#fff" opacity="0.4"/><rect x="19" y="10.54" width="0.5" height="2.36" fill="#fff" opacity="0.4"/><rect x="19" y="17.57" width="0.5" height="2.53" fill="#fff" opacity="0.3"/><rect x="19" y="20.1" width="0.5" height="1.35" fill="#fff" opacity="0.12"/><rect x="19" y="21.45" width="0.5" height="1.74" fill="#fff" opacity="0.3"/><rect x="19" y="23.19" width="0.5" height="1.46" fill="#fff" opacity="0.3"/><rect x="19" y="24.65" width="0.5" height="3.19" fill="#fff" opacity="0.3"/><rect x="19" y="27.84" width="0.5" height="1.16" fill="#fff" opacity="0.3"/><rect x="19.5" y="2.44" width="1" height="2.45" fill="#fff" opacity="0.3"/><rect x="19.5" y="4.89" width="1" height="2.75" fill="#fff" opacity="0.4"/><rect x="19.5" y="7.64" width="1" height="4.12" fill="#fff" opacity="0.4"/><rect x="19.5" y="14.14" width="1" height="3.03" fill="#fff" opacity="0.3"/><rect x="20.5" y="6.46" width="0.7" height="2.8" fill="#fff" opacity="0.2"/><rect x="20.5" y="14.25" width="0.7" height="1.29" fill="#fff" opacity="0.3"/><rect x="20.5" y="19.69" width="0.7" height="2.35" fill="#fff" opacity="0.12"/><rect x="21.2" y="8.08" width="0.5" height="1.45" fill="#fff" opacity="0.12"/><rect x="21.2" y="14.4" width="0.5" height="4.4" fill="#fff" opacity="0.3"/><rect x="21.2" y="18.8" width="0.5" height="3.02" fill="#fff" opacity="0.2"/><rect x="21.7" y="1.1" width="1" height="1.8" fill="#fff" opacity="0.12"/><rect x="21.7" y="2.89" width="1" height="1.34" fill="#fff" opacity="0.4"/><rect x="21.7" y="6.83" width="1" height="3.57" fill="#fff" opacity="0.2"/><rect x="21.7" y="10.4" width="1" height="2.61" fill="#fff" opacity="0.4"/><rect x="21.7" y="13.01" width="1" height="4.11" fill="#fff" opacity="0.12"/><rect x="21.7" y="17.12" width="1" height="4.34" fill="#fff" opacity="0.4"/><rect x="22.7" y="0" width="0.7" height="2.38" fill="#fff" opacity="0.4"/><rect x="22.7" y="2.38" width="0.7" height="4.01" fill="#fff" opacity="0.2"/><rect x="22.7" y="14.51" width="0.7" height="2.34" fill="#fff" opacity="0.3"/><rect x="22.7" y="16.85" width="0.7" height="2.76" fill="#fff" opacity="0.12"/><rect x="22.7" y="25.48" width="0.7" height="3.52" fill="#fff" opacity="0.4"/></pattern></defs>
<rect x="111.5" y="20.7" width="331.7" height="53.3" fill="#faf7f8" />
<rect x="111.5" y="20.7" width="331.7" height="53.3" fill="url(#nz)" opacity="0.55"/>
<rect x="219.8" y="21.2" width="2.2" height="2.2" fill="#962424" />
<rect x="221.5" y="31" width="1.2" height="1.2" fill="#b96d6d" />
<rect x="221" y="49.5" width="1.3" height="1.3" fill="#767cb6" />
<rect x="222.5" y="58.5" width="1.2" height="1.2" fill="#b96d6d" />
<rect x="221.5" y="71" width="1.3" height="1.3" fill="#ad5555" />
<rect x="117" y="22.5" width="1.5" height="1" fill="#b96d6d" />
<rect x="117" y="48.5" width="2" height="1.2" fill="#ad5555" />
<rect x="117" y="70" width="1.5" height="1" fill="#c48686" />
<rect x="174" y="41" width="1.2" height="1" fill="#d09e9e" />
<rect x="403" y="41" width="2" height="1" fill="#d09e9e" />
<rect x="408" y="41" width="2" height="1" fill="#d09e9e" />
<rect x="111.5" y="93.2" width="331.7" height="33.5" fill="#f8f7fa" />
<rect x="111.5" y="93.2" width="331.7" height="33.5" fill="url(#nz)" opacity="1.0"/>
<rect x="128.8" y="93.2" width="1.2" height="33.5" fill="#b0b4d5" />
<rect x="130" y="93.2" width="5.7" height="33.5" fill="#6269ab" />
<rect x="130" y="93.2" width="5.7" height="33.5" fill="url(#vt)" />
<rect x="136.5" y="93.2" width="3.5" height="33.5" fill="#cbcde3" />
<rect x="144.8" y="93.2" width="8.2" height="33.5" fill="#8a0c0c" />
<rect x="144.8" y="93.2" width="8.2" height="33.5" fill="url(#vt)" />
<rect x="153.3" y="93.2" width="3.7" height="33.5" fill="#9196c4" />
<rect x="153.3" y="93.2" width="3.7" height="33.5" fill="url(#vt)" />
<rect x="157" y="93.2" width="3" height="33.5" fill="#d8d9ea" />
<rect x="173.8" y="93.2" width="3.4" height="33.5" fill="#bdc0dc" />
<rect x="220.7" y="93.2" width="5.2" height="33.5" fill="#202a88" />
<rect x="220.7" y="93.2" width="5.2" height="33.5" fill="url(#vt)" />
<rect x="228.5" y="93.2" width="3.5" height="33.5" fill="#555ca4" />
<rect x="228.5" y="93.2" width="3.5" height="33.5" fill="url(#vt)" />
<rect x="236.3" y="93.2" width="14.7" height="33.5" fill="#bc7373" />
<rect x="236.3" y="93.2" width="14.7" height="33.5" fill="url(#vt)" />
<rect x="264.6" y="93.2" width="13.2" height="33.5" fill="#931f1f" />
<rect x="264.6" y="93.2" width="13.2" height="33.5" fill="url(#vt)" />
<rect x="297" y="93.2" width="5.2" height="33.5" fill="#6269ab" />
<rect x="297" y="93.2" width="5.2" height="33.5" fill="url(#vt)" />
<rect x="311.7" y="93.2" width="3.5" height="33.5" fill="#d7abab" />
<rect x="319.5" y="93.2" width="4.4" height="33.5" fill="#bc7373" />
<rect x="319.5" y="93.2" width="4.4" height="33.5" fill="url(#vt)" />
<rect x="325.6" y="93.2" width="2.6" height="33.5" fill="#a13b3b" />
<rect x="325.6" y="93.2" width="2.6" height="33.5" fill="url(#vt)" />
<rect x="330" y="93.2" width="6.6" height="33.5" fill="#931f1f" />
<rect x="330" y="93.2" width="6.6" height="33.5" fill="url(#vt)" />
<rect x="348.4" y="93.2" width="3.1" height="33.5" fill="#3a4396" />
<rect x="348.4" y="93.2" width="3.1" height="33.5" fill="url(#vt)" />
<rect x="359.7" y="93.2" width="3.1" height="33.5" fill="#6f75b2" />
<rect x="359.7" y="93.2" width="3.1" height="33.5" fill="url(#vt)" />
<rect x="367.5" y="93.2" width="7.6" height="33.5" fill="#c28181" />
<rect x="367.5" y="93.2" width="7.6" height="33.5" fill="url(#vt)" />
<rect x="377" y="93.2" width="12" height="33.5" fill="#e5e6f1" />
<rect x="391.7" y="93.2" width="3.2" height="33.5" fill="#6f75b2" />
<rect x="391.7" y="93.2" width="3.2" height="33.5" fill="url(#vt)" />
<rect x="400.6" y="93.2" width="17.1" height="33.5" fill="#2d368f" />
<rect x="400.6" y="93.2" width="17.1" height="33.5" fill="url(#vt)" />
<rect x="419.4" y="93.2" width="2.6" height="33.5" fill="#d7abab" />
<rect x="431.6" y="93.2" width="2.6" height="33.5" fill="#ae5757" />
<rect x="431.6" y="93.2" width="2.6" height="33.5" fill="url(#vt)" />
<rect x="437.6" y="93.2" width="5.2" height="33.5" fill="#7c82b9" />
<rect x="437.6" y="93.2" width="5.2" height="33.5" fill="url(#vt)" />
<rect x="111.5" y="94.2" width="331.7" height="4" fill="#fff" opacity="0.4"/>
<rect x="111.5" y="99.2" width="331.7" height="3" fill="#fff" opacity="0.1"/>
<rect x="111.5" y="102.2" width="331.7" height="1" fill="#fff" opacity="0.4"/>
<rect x="111.5" y="103.2" width="331.7" height="2.5" fill="#fff" opacity="0.4"/>
<rect x="111.5" y="105.7" width="331.7" height="1.5" fill="#fff" opacity="0.4"/>
<rect x="111.5" y="107.2" width="331.7" height="1" fill="#fff" opacity="0.2"/>
<rect x="111.5" y="108.2" width="331.7" height="2" fill="#fff" opacity="0.2"/>
<rect x="111.5" y="112.7" width="331.7" height="1.5" fill="#fff" opacity="0.4"/>
<rect x="111.5" y="114.2" width="331.7" height="1" fill="#fff" opacity="0.1"/>
<rect x="111.5" y="115.2" width="331.7" height="4" fill="#fff" opacity="0.4"/>
<rect x="111.5" y="119.2" width="331.7" height="2.5" fill="#fff" opacity="0.1"/>
<rect x="111.5" y="125.7" width="331.7" height="1" fill="#fff" opacity="0.2"/>
<rect x="111.5" y="129.1" width="331.7" height="29.8" fill="#f8f7fa" />
<rect x="111.5" y="129.1" width="331.7" height="29.8" fill="url(#nz)" opacity="1.0"/>
<rect x="125.3" y="129.1" width="15.6" height="29.8" fill="#eaebf4" />
<rect x="147" y="129.1" width="4.3" height="29.8" fill="#d09d9d" />
<rect x="147" y="129.1" width="4.3" height="29.8" fill="url(#vt)" />
<rect x="153.9" y="129.1" width="2.6" height="29.8" fill="#7c82b9" />
<rect x="153.9" y="129.1" width="2.6" height="29.8" fill="url(#vt)" />
<rect x="159" y="129.1" width="4.4" height="29.8" fill="#bc7373" />
<rect x="159" y="129.1" width="4.4" height="29.8" fill="url(#vt)" />
<rect x="173.8" y="129.1" width="3.4" height="29.8" fill="#555ca4" />
<rect x="173.8" y="129.1" width="3.4" height="29.8" fill="url(#vt)" />
<rect x="186.7" y="129.1" width="3.5" height="29.8" fill="#bc7373" />
<rect x="186.7" y="129.1" width="3.5" height="29.8" fill="url(#vt)" />
<rect x="193" y="129.1" width="7" height="29.8" fill="#ebd5d5" />
<rect x="207" y="129.1" width="3" height="29.8" fill="#e4c7c7" />
<rect x="220.7" y="129.1" width="4.3" height="29.8" fill="#2d368f" />
<rect x="220.7" y="129.1" width="4.3" height="29.8" fill="url(#vt)" />
<rect x="229.3" y="129.1" width="4.4" height="29.8" fill="#47509d" />
<rect x="229.3" y="129.1" width="4.4" height="29.8" fill="url(#vt)" />
<rect x="236" y="129.1" width="16" height="29.8" fill="#f7eeee" />
<rect x="253.6" y="129.1" width="1.9" height="29.8" fill="#b0b4d5" />
<rect x="257" y="129.1" width="3.5" height="29.8" fill="#ddb9b9" />
<rect x="291" y="129.1" width="4" height="29.8" fill="#bdc0dc" />
<rect x="297" y="129.1" width="5.2" height="29.8" fill="#47509d" />
<rect x="297" y="129.1" width="5.2" height="29.8" fill="url(#vt)" />
<rect x="310.9" y="129.1" width="17.3" height="29.8" fill="#ae5757" />
<rect x="310.9" y="129.1" width="17.3" height="29.8" fill="url(#vt)" />
<rect x="330.1" y="129.1" width="6.4" height="29.8" fill="#a84949" />
<rect x="330.1" y="129.1" width="6.4" height="29.8" fill="url(#vt)" />
<rect x="348.4" y="129.1" width="2.6" height="29.8" fill="#7c82b9" />
<rect x="348.4" y="129.1" width="2.6" height="29.8" fill="url(#vt)" />
<rect x="359.7" y="129.1" width="8.3" height="29.8" fill="#a3a7ce" />
<rect x="359.7" y="129.1" width="8.3" height="29.8" fill="url(#vt)" />
<rect x="375.3" y="129.1" width="13.7" height="29.8" fill="#e5e6f1" />
<rect x="389" y="129.1" width="5.9" height="29.8" fill="#898ec0" />
<rect x="389" y="129.1" width="5.9" height="29.8" fill="url(#vt)" />
<rect x="397.8" y="129.1" width="2.6" height="29.8" fill="#c98f8f" />
<rect x="397.8" y="129.1" width="2.6" height="29.8" fill="url(#vt)" />
<rect x="400.6" y="129.1" width="19.7" height="29.8" fill="#47509d" />
<rect x="400.6" y="129.1" width="19.7" height="29.8" fill="url(#vt)" />
<rect x="422.8" y="129.1" width="4.4" height="29.8" fill="#8a0c0c" />
<rect x="422.8" y="129.1" width="4.4" height="29.8" fill="url(#vt)" />
<rect x="429" y="129.1" width="2.1" height="29.8" fill="#7c82b9" />
<rect x="429" y="129.1" width="2.1" height="29.8" fill="url(#vt)" />
<rect x="436" y="129.1" width="5" height="29.8" fill="#898ec0" />
<rect x="436" y="129.1" width="5" height="29.8" fill="url(#vt)" />
<rect x="111.5" y="129.1" width="331.7" height="1" fill="#fff" opacity="0.4"/>
<rect x="111.5" y="130.1" width="331.7" height="2" fill="#fff" opacity="0.2"/>
<rect x="111.5" y="132.1" width="331.7" height="1" fill="#fff" opacity="0.1"/>
<rect x="111.5" y="133.1" width="331.7" height="2" fill="#fff" opacity="0.4"/>
<rect x="111.5" y="135.1" width="331.7" height="4" fill="#fff" opacity="0.4"/>
<rect x="111.5" y="139.1" width="331.7" height="2.5" fill="#fff" opacity="0.3"/>
<rect x="111.5" y="141.6" width="331.7" height="2" fill="#fff" opacity="0.2"/>
<rect x="111.5" y="143.6" width="331.7" height="2.5" fill="#fff" opacity="0.3"/>
<rect x="111.5" y="146.1" width="331.7" height="3" fill="#fff" opacity="0.2"/>
<rect x="111.5" y="149.1" width="331.7" height="1.5" fill="#fff" opacity="0.3"/>
<rect x="111.5" y="156.1" width="331.7" height="1.5" fill="#fff" opacity="0.4"/>
<rect x="111.5" y="161.2" width="331.7" height="15.4" fill="#f8f7fa" />
<rect x="111.5" y="161.2" width="331.7" height="15.4" fill="url(#nz)" opacity="1.0"/>
<rect x="130.5" y="172" width="2" height="2.5" fill="#a13b3b" />
<rect x="130.5" y="172" width="2" height="2.5" fill="url(#vt)" />
<rect x="170" y="161.2" width="3" height="15.4" fill="#e4c7c7" />
<rect x="147.8" y="161.2" width="4.3" height="15.4" fill="#a84949" />
<rect x="147.8" y="161.2" width="4.3" height="15.4" fill="url(#vt)" />
<rect x="153.9" y="161.2" width="2.6" height="15.4" fill="#b0b4d5" />
<rect x="159" y="161.2" width="4.4" height="15.4" fill="#bc7373" />
<rect x="159" y="161.2" width="4.4" height="15.4" fill="url(#vt)" />
<rect x="177.2" y="161.2" width="3.5" height="15.4" fill="#bc7373" />
<rect x="177.2" y="161.2" width="3.5" height="15.4" fill="url(#vt)" />
<rect x="198" y="161.2" width="3.6" height="15.4" fill="#d7abab" />
<rect x="206.8" y="161.2" width="3.5" height="15.4" fill="#c28181" />
<rect x="206.8" y="161.2" width="3.5" height="15.4" fill="url(#vt)" />
<rect x="217" y="161.2" width="1" height="15.4" fill="#c98f8f" />
<rect x="217" y="161.2" width="1" height="15.4" fill="url(#vt)" />
<rect x="220.7" y="161.2" width="4.3" height="15.4" fill="#47509d" />
<rect x="220.7" y="161.2" width="4.3" height="15.4" fill="url(#vt)" />
<rect x="226" y="161.2" width="1.6" height="15.4" fill="#c98f8f" />
<rect x="226" y="161.2" width="1.6" height="15.4" fill="url(#vt)" />
<rect x="229.3" y="161.2" width="4.4" height="15.4" fill="#6f75b2" />
<rect x="229.3" y="161.2" width="4.4" height="15.4" fill="url(#vt)" />
<rect x="236.3" y="161.2" width="4.3" height="15.4" fill="#8d1111" />
<rect x="236.3" y="161.2" width="4.3" height="15.4" fill="url(#vt)" />
<rect x="241" y="161.2" width="4" height="15.4" fill="#d7abab" />
<rect x="252.8" y="161.2" width="2.5" height="15.4" fill="#3a4396" />
<rect x="252.8" y="161.2" width="2.5" height="15.4" fill="url(#vt)" />
<rect x="286.7" y="161.2" width="3.3" height="15.4" fill="#b0b4d5" />
<rect x="297" y="161.2" width="5.2" height="15.4" fill="#3a4396" />
<rect x="297" y="161.2" width="5.2" height="15.4" fill="url(#vt)" />
<rect x="304" y="161.2" width="3.4" height="15.4" fill="#bc7373" />
<rect x="304" y="161.2" width="3.4" height="15.4" fill="url(#vt)" />
<rect x="311.7" y="161.2" width="3.5" height="15.4" fill="#931f1f" />
<rect x="311.7" y="161.2" width="3.5" height="15.4" fill="url(#vt)" />
<rect x="321.3" y="161.2" width="3.4" height="15.4" fill="#c98f8f" />
<rect x="321.3" y="161.2" width="3.4" height="15.4" fill="url(#vt)" />
<rect x="326.5" y="161.2" width="2.5" height="15.4" fill="#969bc7" />
<rect x="326.5" y="161.2" width="2.5" height="15.4" fill="url(#vt)" />
<rect x="330.8" y="161.2" width="3.4" height="15.4" fill="#bc7373" />
<rect x="330.8" y="161.2" width="3.4" height="15.4" fill="url(#vt)" />
<rect x="348.4" y="161.2" width="1.4" height="15.4" fill="#47509d" />
<rect x="348.4" y="161.2" width="1.4" height="15.4" fill="url(#vt)" />
<rect x="357.6" y="161.2" width="1.9" height="15.4" fill="#c28181" />
<rect x="357.6" y="161.2" width="1.9" height="15.4" fill="url(#vt)" />
<rect x="359.7" y="161.2" width="1.3" height="15.4" fill="#c28181" />
<rect x="359.7" y="161.2" width="1.3" height="15.4" fill="url(#vt)" />
<rect x="380.5" y="161.2" width="3.5" height="15.4" fill="#c98f8f" />
<rect x="380.5" y="161.2" width="3.5" height="15.4" fill="url(#vt)" />
<rect x="391.7" y="161.2" width="3.2" height="15.4" fill="#555ca4" />
<rect x="391.7" y="161.2" width="3.2" height="15.4" fill="url(#vt)" />
<rect x="397" y="161.2" width="2.5" height="15.4" fill="#d7abab" />
<rect x="400.6" y="161.2" width="19.7" height="15.4" fill="#47509d" />
<rect x="400.6" y="161.2" width="19.7" height="15.4" fill="url(#vt)" />
<rect x="434.7" y="161.2" width="8.3" height="15.4" fill="#7c82b9" />
<rect x="434.7" y="161.2" width="8.3" height="15.4" fill="url(#vt)" />
<rect x="111.5" y="161.2" width="331.7" height="2.5" fill="#fff" opacity="0.4"/>
<rect x="111.5" y="163.7" width="331.7" height="2.5" fill="#fff" opacity="0.2"/>
<rect x="111.5" y="167.7" width="331.7" height="4" fill="#fff" opacity="0.2"/>
<rect x="111.5" y="171.7" width="331.7" height="1" fill="#fff" opacity="0.2"/>
<rect x="111.5" y="172.7" width="331.7" height="2.5" fill="#fff" opacity="0.2"/>
<rect x="111.5" y="175.2" width="331.7" height="1" fill="#fff" opacity="0.3"/>
<rect x="111.5" y="178.8" width="331.7" height="39.7" fill="#f8f7fa" />
<rect x="111.5" y="178.8" width="331.7" height="39.7" fill="url(#nz)" opacity="1.0"/>
<rect x="130.5" y="178.8" width="5.2" height="39.7" fill="#b0b4d5" />
<rect x="118.6" y="200.5" width="3" height="3" fill="#c68a8a" />
<rect x="118.6" y="200.5" width="3" height="3" fill="url(#vt)" />
<rect x="147" y="178.8" width="4.3" height="39.7" fill="#ae5757" />
<rect x="147" y="178.8" width="4.3" height="39.7" fill="url(#vt)" />
<rect x="153.9" y="178.8" width="1.7" height="21.2" fill="#7c82b9" />
<rect x="153.9" y="178.8" width="1.7" height="21.2" fill="url(#vt)" />
<rect x="158.2" y="178.8" width="5.2" height="39.7" fill="#ae5757" />
<rect x="158.2" y="178.8" width="5.2" height="39.7" fill="url(#vt)" />
<rect x="169.7" y="178.8" width="4.9" height="39.7" fill="#931f1f" />
<rect x="169.7" y="178.8" width="4.9" height="39.7" fill="url(#vt)" />
<rect x="184.5" y="178.8" width="4" height="39.7" fill="#c28181" />
<rect x="184.5" y="178.8" width="4" height="39.7" fill="url(#vt)" />
<rect x="193" y="178.8" width="7" height="39.7" fill="#e4c7c7" />
<rect x="205" y="178.8" width="10.5" height="39.7" fill="#e4c7c7" />
<rect x="216" y="178.8" width="2" height="39.7" fill="#d7abab" />
<rect x="220.7" y="178.8" width="5.2" height="39.7" fill="#555ca4" />
<rect x="220.7" y="178.8" width="5.2" height="39.7" fill="url(#vt)" />
<rect x="229.3" y="178.8" width="5.2" height="39.7" fill="#2d368f" />
<rect x="229.3" y="178.8" width="5.2" height="39.7" fill="url(#vt)" />
<rect x="240" y="178.8" width="12" height="39.7" fill="#e4c7c7" />
<rect x="246.7" y="178.8" width="3.3" height="39.7" fill="#c98f8f" />
<rect x="246.7" y="178.8" width="3.3" height="39.7" fill="url(#vt)" />
<rect x="256" y="178.8" width="2.8" height="39.7" fill="#d09d9d" />
<rect x="256" y="178.8" width="2.8" height="39.7" fill="url(#vt)" />
<rect x="279.7" y="178.8" width="7" height="39.7" fill="#e4c7c7" />
<rect x="297" y="178.8" width="5.2" height="39.7" fill="#555ca4" />
<rect x="297" y="178.8" width="5.2" height="39.7" fill="url(#vt)" />
<rect x="304" y="178.8" width="2.6" height="39.7" fill="#7c82b9" />
<rect x="304" y="178.8" width="2.6" height="39.7" fill="url(#vt)" />
<rect x="311" y="178.8" width="5" height="39.7" fill="#e4c7c7" />
<rect x="330.1" y="178.8" width="4.9" height="39.7" fill="#c28181" />
<rect x="330.1" y="178.8" width="4.9" height="39.7" fill="url(#vt)" />
<rect x="359.7" y="178.8" width="4.8" height="39.7" fill="#7c82b9" />
<rect x="359.7" y="178.8" width="4.8" height="39.7" fill="url(#vt)" />
<rect x="389" y="178.8" width="3.6" height="39.7" fill="#8d1111" />
<rect x="389" y="178.8" width="3.6" height="39.7" fill="url(#vt)" />
<rect x="395.2" y="178.8" width="4.3" height="39.7" fill="#bc7373" />
<rect x="395.2" y="178.8" width="4.3" height="39.7" fill="url(#vt)" />
<rect x="400.6" y="178.8" width="21.4" height="18.2" fill="#28318c" />
<rect x="400.6" y="178.8" width="21.4" height="18.2" fill="url(#vt)" />
<rect x="400.6" y="197" width="21.4" height="9.5" fill="#7c82b9" />
<rect x="400.6" y="197" width="21.4" height="9.5" fill="url(#vt)" />
<rect x="400.6" y="206.5" width="21.4" height="12" fill="#323b92" />
<rect x="400.6" y="206.5" width="21.4" height="12" fill="url(#vt)" />
<rect x="431.3" y="178.8" width="0.2" height="39.7" fill="#969bc7" />
<rect x="431.3" y="178.8" width="0.2" height="39.7" fill="url(#vt)" />
<rect x="435" y="178.8" width="7.8" height="39.7" fill="#7c82b9" />
<rect x="435" y="178.8" width="7.8" height="39.7" fill="url(#vt)" />
<rect x="111.5" y="179.8" width="331.7" height="2.5" fill="#fff" opacity="0.3"/>
<rect x="111.5" y="183.8" width="331.7" height="3" fill="#fff" opacity="0.1"/>
<rect x="111.5" y="193.8" width="331.7" height="1.5" fill="#fff" opacity="0.1"/>
<rect x="111.5" y="204.3" width="331.7" height="3" fill="#fff" opacity="0.4"/>
<rect x="111.5" y="207.3" width="331.7" height="2" fill="#fff" opacity="0.3"/>
<rect x="111.5" y="209.3" width="331.7" height="2" fill="#fff" opacity="0.3"/>
<rect x="111.5" y="211.3" width="331.7" height="2.5" fill="#fff" opacity="0.2"/>
<rect x="111.5" y="213.8" width="331.7" height="1.5" fill="#fff" opacity="0.2"/>
<rect x="111.5" y="220.5" width="331.7" height="40" fill="#f8f7fa" />
<rect x="111.5" y="220.5" width="331.7" height="40" fill="url(#nz)" opacity="1.0"/>
<rect x="111.5" y="220.5" width="331.7" height="2.1" fill="#e4c7c7" />
<rect x="111.5" y="220.5" width="3" height="40" fill="#d7abab" />
<rect x="118.4" y="220.5" width="3.8" height="40" fill="#c98f8f" />
<rect x="118.4" y="220.5" width="3.8" height="40" fill="url(#vt)" />
<rect x="130" y="220.5" width="3" height="40" fill="#ebd5d5" />
<rect x="125" y="245" width="16" height="15.5" fill="#d8d9ea" />
<rect x="147" y="220.5" width="4.3" height="40" fill="#d09d9d" />
<rect x="147" y="220.5" width="4.3" height="40" fill="url(#vt)" />
<rect x="153" y="220.5" width="5.5" height="40" fill="#47509d" />
<rect x="153" y="220.5" width="5.5" height="40" fill="url(#vt)" />
<rect x="160" y="220.5" width="4.6" height="40" fill="#c28181" />
<rect x="160" y="220.5" width="4.6" height="40" fill="url(#vt)" />
<rect x="170" y="220.5" width="7.5" height="40" fill="#f2e3e3" />
<rect x="177.5" y="220.5" width="6.5" height="40" fill="#c28181" />
<rect x="177.5" y="220.5" width="6.5" height="40" fill="url(#vt)" />
<rect x="184" y="220.5" width="6.2" height="40" fill="#a84949" />
<rect x="184" y="220.5" width="6.2" height="40" fill="url(#vt)" />
<rect x="192" y="220.5" width="7" height="40" fill="#b0b4d5" />
<rect x="219.8" y="220.5" width="6.1" height="40" fill="#202a88" />
<rect x="219.8" y="220.5" width="6.1" height="40" fill="url(#vt)" />
<rect x="228.5" y="220.5" width="6" height="40" fill="#555ca4" />
<rect x="228.5" y="220.5" width="6" height="40" fill="url(#vt)" />
<rect x="240" y="245" width="4" height="15.5" fill="#b0b4d5" />
<rect x="264.6" y="220.5" width="10.4" height="40" fill="#efdddd" />
<rect x="280" y="220.5" width="6" height="40" fill="#e4c7c7" />
<rect x="297" y="245" width="5" height="15.5" fill="#7c82b9" />
<rect x="297" y="245" width="5" height="15.5" fill="url(#vt)" />
<rect x="316" y="245" width="3.5" height="15.5" fill="#6f75b2" />
<rect x="316" y="245" width="3.5" height="15.5" fill="url(#vt)" />
<rect x="330.1" y="220.5" width="6.4" height="40" fill="#969bc7" />
<rect x="330.1" y="220.5" width="6.4" height="40" fill="url(#vt)" />
<rect x="374.5" y="220.5" width="6.5" height="40" fill="#424a9a" />
<rect x="374.5" y="220.5" width="6.5" height="40" fill="url(#vt)" />
<rect x="397.8" y="220.5" width="2.6" height="40" fill="#8d1111" />
<rect x="397.8" y="220.5" width="2.6" height="40" fill="url(#vt)" />
<rect x="401.3" y="220.5" width="10.4" height="40" fill="#7c82b9" />
<rect x="401.3" y="220.5" width="10.4" height="40" fill="url(#vt)" />
<rect x="413.4" y="220.5" width="6" height="40" fill="#d09d9d" />
<rect x="413.4" y="220.5" width="6" height="40" fill="url(#vt)" />
<rect x="434.7" y="220.5" width="8.3" height="40" fill="#bdc0dc" />
<rect x="111.5" y="226" width="331.7" height="1.5" fill="#fff" opacity="0.2"/>
<rect x="111.5" y="227.5" width="331.7" height="2.5" fill="#fff" opacity="0.1"/>
<rect x="111.5" y="230" width="331.7" height="1" fill="#fff" opacity="0.4"/>
<rect x="111.5" y="234" width="331.7" height="2" fill="#fff" opacity="0.2"/>
<rect x="111.5" y="236" width="331.7" height="1" fill="#fff" opacity="0.2"/>
<rect x="111.5" y="237" width="331.7" height="1" fill="#fff" opacity="0.2"/>
<rect x="111.5" y="238" width="331.7" height="4" fill="#fff" opacity="0.3"/>
<rect x="111.5" y="249" width="331.7" height="2" fill="#fff" opacity="0.2"/>
<rect x="111.5" y="253.5" width="331.7" height="2" fill="#fff" opacity="0.4"/>
<rect x="111.5" y="257.5" width="331.7" height="2.5" fill="#fff" opacity="0.3"/>
<rect x="111.5" y="260" width="331.7" height="0.5" fill="#fff" opacity="0.3"/>
<rect x="111.5" y="262.9" width="331.7" height="27.1" fill="#f8f7fa" />
<rect x="111.5" y="262.9" width="331.7" height="27.1" fill="url(#nz)" opacity="1.0"/>
<rect x="126.8" y="262.9" width="2.5" height="27.1" fill="#8a0c0c" />
<rect x="126.8" y="262.9" width="2.5" height="27.1" fill="url(#vt)" />
<rect x="135.7" y="262.9" width="7.8" height="27.1" fill="#b56565" />
<rect x="135.7" y="262.9" width="7.8" height="27.1" fill="url(#vt)" />
<rect x="147" y="262.9" width="5" height="27.1" fill="#e4c7c7" />
<rect x="156" y="262.9" width="4" height="27.1" fill="#cbcde3" />
<rect x="169.7" y="262.9" width="19.6" height="27.1" fill="#8d1111" />
<rect x="169.7" y="262.9" width="19.6" height="27.1" fill="url(#vt)" />
<rect x="192" y="262.9" width="8" height="27.1" fill="#cbcde3" />
<rect x="220.7" y="262.9" width="4.3" height="27.1" fill="#7c82b9" />
<rect x="220.7" y="262.9" width="4.3" height="27.1" fill="url(#vt)" />
<rect x="232" y="262.9" width="3.4" height="27.1" fill="#555ca4" />
<rect x="232" y="262.9" width="3.4" height="27.1" fill="url(#vt)" />
<rect x="297" y="262.9" width="4.5" height="27.1" fill="#bdc0dc" />
<rect x="316" y="262.9" width="5" height="27.1" fill="#bdc0dc" />
<rect x="330.1" y="262.9" width="4.9" height="27.1" fill="#6f75b2" />
<rect x="330.1" y="262.9" width="4.9" height="27.1" fill="url(#vt)" />
<rect x="397" y="262.9" width="3" height="27.1" fill="#d7abab" />
<rect x="400.6" y="262.9" width="21.4" height="27.1" fill="#cbcde3" />
<rect x="434.7" y="262.9" width="5.3" height="27.1" fill="#bdc0dc" />
<rect x="440" y="262.9" width="3.2" height="27.1" fill="#47509d" />
<rect x="440" y="262.9" width="3.2" height="27.1" fill="url(#vt)" />
<rect x="297.7" y="262.9" width="3.3" height="27.1" fill="#898ec0" />
<rect x="297.7" y="262.9" width="3.3" height="27.1" fill="url(#vt)" />
<rect x="375.3" y="284" width="67.7" height="1.4" fill="#a3a7ce" />
<rect x="375.3" y="284" width="67.7" height="1.4" fill="url(#vt)" />
<rect x="400.6" y="284" width="19.4" height="1.6" fill="#202a88" />
<rect x="400.6" y="284" width="19.4" height="1.6" fill="url(#vt)" />
<rect x="111.5" y="283.6" width="188.5" height="1.6" fill="#efdddd" />
<rect x="169.7" y="283.6" width="19.6" height="2.4" fill="#8a0c0c" />
<rect x="169.7" y="283.6" width="19.6" height="2.4" fill="url(#vt)" />
<rect x="111.5" y="262.9" width="331.7" height="2.5" fill="#fff" opacity="0.2"/>
<rect x="111.5" y="269.4" width="331.7" height="3" fill="#fff" opacity="0.2"/>
<rect x="111.5" y="272.4" width="331.7" height="2.5" fill="#fff" opacity="0.4"/>
<rect x="111.5" y="274.9" width="331.7" height="1.5" fill="#fff" opacity="0.3"/>
<rect x="111.5" y="277.9" width="331.7" height="1.5" fill="#fff" opacity="0.4"/>
<rect x="111.5" y="280.9" width="331.7" height="4" fill="#fff" opacity="0.4"/>
<rect x="111.5" y="284.9" width="331.7" height="1.5" fill="#fff" opacity="0.3"/>
<rect x="111.5" y="286.4" width="331.7" height="3.6" fill="#fff" opacity="0.1"/>
<rect x="111.5" y="292.5" width="331.7" height="57.1" fill="#f8f7fa" />
<rect x="111.5" y="292.5" width="331.7" height="57.1" fill="url(#nz)" opacity="1.0"/>
<rect x="111.5" y="330" width="225.1" height="4.9" fill="#eff0f7" />
<rect x="296" y="330" width="7" height="4.9" fill="#b0b4d5" />
<rect x="126" y="330" width="10" height="4.9" fill="#a3a7ce" />
<rect x="126" y="330" width="10" height="4.9" fill="url(#vt)" />
<rect x="147" y="330" width="8" height="4.9" fill="#e1c2c2" />
<rect x="158" y="330" width="6" height="4.9" fill="#e1c2c2" />
<rect x="221.5" y="330" width="3.5" height="4.9" fill="#3a4396" />
<rect x="221.5" y="330" width="3.5" height="4.9" fill="url(#vt)" />
<rect x="336.7" y="330" width="106.5" height="4.9" fill="#e5e6f1" />
<rect x="375.3" y="330" width="11.7" height="4.9" fill="#b0b4d5" />
<rect x="393.5" y="330" width="5.1" height="4.9" fill="#d09d9d" />
<rect x="393.5" y="330" width="5.1" height="4.9" fill="url(#vt)" />
<rect x="400.6" y="330" width="21.4" height="4.9" fill="#9196c4" />
<rect x="400.6" y="330" width="21.4" height="4.9" fill="url(#vt)" />
<rect x="434.6" y="330" width="8.4" height="4.9" fill="#bdc0dc" />
<rect x="219" y="292.5" width="3.4" height="57.1" fill="#b0b4d5" />
<rect x="310" y="292.5" width="5.2" height="57.1" fill="#a13b3b" />
<rect x="310" y="292.5" width="5.2" height="57.1" fill="url(#vt)" />
<rect x="315.2" y="292.5" width="3.5" height="57.1" fill="#c28181" />
<rect x="315.2" y="292.5" width="3.5" height="57.1" fill="url(#vt)" />
<rect x="318.7" y="292.5" width="5.2" height="57.1" fill="#a13b3b" />
<rect x="318.7" y="292.5" width="5.2" height="57.1" fill="url(#vt)" />
<rect x="323.9" y="292.5" width="4.3" height="57.1" fill="#bc7373" />
<rect x="323.9" y="292.5" width="4.3" height="57.1" fill="url(#vt)" />
<rect x="330.1" y="292.5" width="6.4" height="57.1" fill="#8d1111" />
<rect x="330.1" y="292.5" width="6.4" height="57.1" fill="url(#vt)" />
<rect x="400.6" y="292.8" width="19.4" height="17.2" fill="#e0e1ee" />
<rect x="111.5" y="293.5" width="331.7" height="2" fill="#fff" opacity="0.4"/>
<rect x="111.5" y="298.5" width="331.7" height="1.5" fill="#fff" opacity="0.1"/>
<rect x="111.5" y="300" width="331.7" height="2" fill="#fff" opacity="0.3"/>
<rect x="111.5" y="302" width="331.7" height="1.5" fill="#fff" opacity="0.4"/>
<rect x="111.5" y="306.5" width="331.7" height="1.5" fill="#fff" opacity="0.4"/>
<rect x="111.5" y="308" width="331.7" height="1.5" fill="#fff" opacity="0.1"/>
<rect x="111.5" y="309.5" width="331.7" height="4" fill="#fff" opacity="0.2"/>
<rect x="111.5" y="313.5" width="331.7" height="4" fill="#fff" opacity="0.4"/>
<rect x="111.5" y="317.5" width="331.7" height="2" fill="#fff" opacity="0.2"/>
<rect x="111.5" y="322" width="331.7" height="4" fill="#fff" opacity="0.4"/>
<rect x="111.5" y="326" width="331.7" height="3" fill="#fff" opacity="0.1"/>
<rect x="111.5" y="329" width="331.7" height="1" fill="#fff" opacity="0.1"/>
<rect x="111.5" y="330" width="331.7" height="2" fill="#fff" opacity="0.1"/>
<rect x="111.5" y="336" width="331.7" height="4" fill="#fff" opacity="0.4"/>
<rect x="111.5" y="344" width="331.7" height="3" fill="#fff" opacity="0.2"/>
<rect x="111.5" y="348.5" width="331.7" height="1" fill="#fff" opacity="0.2"/>
<rect x="111.5" y="349.5" width="331.7" height="0.1" fill="#fff" opacity="0.3"/>
<line x1="111.5" y1="161.6" x2="443.2" y2="161.6" stroke="#9890a4" stroke-width="0.8" />
<rect x="111.5" y="206.45" width="331.7" height="0.9" fill="#fff" opacity="0.75"/>
<rect x="111.5" y="334.75" width="331.7" height="0.9" fill="#fff" opacity="0.75"/>
<line x1="144.7" y1="20.7" x2="144.7" y2="74" stroke="#1a1a1a" stroke-width="0.9" />
<line x1="144.7" y1="93.2" x2="144.7" y2="126.7" stroke="#3a3340" stroke-width="0.9" />
<line x1="144.7" y1="129.1" x2="144.7" y2="158.9" stroke="#3a3340" stroke-width="0.9" />
<line x1="144.7" y1="161.2" x2="144.7" y2="176.6" stroke="#3a3340" stroke-width="0.9" />
<line x1="144.7" y1="178.8" x2="144.7" y2="218.5" stroke="#3a3340" stroke-width="0.9" />
<line x1="144.7" y1="220.5" x2="144.7" y2="260.5" stroke="#3a3340" stroke-width="0.9" />
<line x1="144.7" y1="262.9" x2="144.7" y2="290" stroke="#3a3340" stroke-width="0.9" />
<line x1="144.7" y1="292.5" x2="144.7" y2="349.6" stroke="#3a3340" stroke-width="0.9" />
<line x1="169.6" y1="20.7" x2="169.6" y2="74" stroke="#1a1a1a" stroke-width="0.9" />
<line x1="169.6" y1="93.2" x2="169.6" y2="126.7" stroke="#3a3340" stroke-width="0.9" />
<line x1="169.6" y1="129.1" x2="169.6" y2="158.9" stroke="#3a3340" stroke-width="0.9" />
<line x1="169.6" y1="161.2" x2="169.6" y2="176.6" stroke="#3a3340" stroke-width="0.9" />
<line x1="169.6" y1="178.8" x2="169.6" y2="218.5" stroke="#3a3340" stroke-width="0.9" />
<line x1="169.6" y1="220.5" x2="169.6" y2="260.5" stroke="#3a3340" stroke-width="0.9" />
<line x1="169.6" y1="262.9" x2="169.6" y2="290" stroke="#3a3340" stroke-width="0.9" />
<line x1="169.6" y1="292.5" x2="169.6" y2="349.6" stroke="#3a3340" stroke-width="0.9" />
<line x1="190.4" y1="20.7" x2="190.4" y2="74" stroke="#1a1a1a" stroke-width="0.9" />
<line x1="190.4" y1="93.2" x2="190.4" y2="126.7" stroke="#3a3340" stroke-width="0.9" />
<line x1="190.4" y1="129.1" x2="190.4" y2="158.9" stroke="#3a3340" stroke-width="0.9" />
<line x1="190.4" y1="161.2" x2="190.4" y2="176.6" stroke="#3a3340" stroke-width="0.9" />
<line x1="190.4" y1="178.8" x2="190.4" y2="218.5" stroke="#3a3340" stroke-width="0.9" />
<line x1="190.4" y1="220.5" x2="190.4" y2="260.5" stroke="#3a3340" stroke-width="0.9" />
<line x1="190.4" y1="262.9" x2="190.4" y2="290" stroke="#3a3340" stroke-width="0.9" />
<line x1="190.4" y1="292.5" x2="190.4" y2="349.6" stroke="#3a3340" stroke-width="0.9" />
<line x1="202.8" y1="20.7" x2="202.8" y2="74" stroke="#1a1a1a" stroke-width="0.9" />
<line x1="202.8" y1="93.2" x2="202.8" y2="126.7" stroke="#3a3340" stroke-width="0.9" />
<line x1="202.8" y1="129.1" x2="202.8" y2="158.9" stroke="#3a3340" stroke-width="0.9" />
<line x1="202.8" y1="161.2" x2="202.8" y2="176.6" stroke="#3a3340" stroke-width="0.9" />
<line x1="202.8" y1="178.8" x2="202.8" y2="218.5" stroke="#3a3340" stroke-width="0.9" />
<line x1="202.8" y1="220.5" x2="202.8" y2="260.5" stroke="#3a3340" stroke-width="0.9" />
<line x1="202.8" y1="262.9" x2="202.8" y2="290" stroke="#3a3340" stroke-width="0.9" />
<line x1="202.8" y1="292.5" x2="202.8" y2="349.6" stroke="#3a3340" stroke-width="0.9" />
<line x1="218.1" y1="20.7" x2="218.1" y2="74" stroke="#1a1a1a" stroke-width="0.9" />
<line x1="218.1" y1="93.2" x2="218.1" y2="126.7" stroke="#3a3340" stroke-width="0.9" />
<line x1="218.1" y1="129.1" x2="218.1" y2="158.9" stroke="#3a3340" stroke-width="0.9" />
<line x1="218.1" y1="161.2" x2="218.1" y2="176.6" stroke="#3a3340" stroke-width="0.9" />
<line x1="218.1" y1="178.8" x2="218.1" y2="218.5" stroke="#3a3340" stroke-width="0.9" />
<line x1="218.1" y1="220.5" x2="218.1" y2="260.5" stroke="#3a3340" stroke-width="0.9" />
<line x1="218.1" y1="262.9" x2="218.1" y2="290" stroke="#3a3340" stroke-width="0.9" />
<line x1="218.1" y1="292.5" x2="218.1" y2="349.6" stroke="#3a3340" stroke-width="0.9" />
<line x1="235.8" y1="20.7" x2="235.8" y2="74" stroke="#1a1a1a" stroke-width="0.9" />
<line x1="235.8" y1="93.2" x2="235.8" y2="126.7" stroke="#3a3340" stroke-width="0.9" />
<line x1="235.8" y1="129.1" x2="235.8" y2="158.9" stroke="#3a3340" stroke-width="0.9" />
<line x1="235.8" y1="161.2" x2="235.8" y2="176.6" stroke="#3a3340" stroke-width="0.9" />
<line x1="235.8" y1="178.8" x2="235.8" y2="218.5" stroke="#3a3340" stroke-width="0.9" />
<line x1="235.8" y1="220.5" x2="235.8" y2="260.5" stroke="#3a3340" stroke-width="0.9" />
<line x1="235.8" y1="262.9" x2="235.8" y2="290" stroke="#3a3340" stroke-width="0.9" />
<line x1="235.8" y1="292.5" x2="235.8" y2="349.6" stroke="#3a3340" stroke-width="0.9" />
<line x1="252.7" y1="20.7" x2="252.7" y2="74" stroke="#1a1a1a" stroke-width="0.9" />
<line x1="252.7" y1="93.2" x2="252.7" y2="126.7" stroke="#3a3340" stroke-width="0.9" />
<line x1="252.7" y1="129.1" x2="252.7" y2="158.9" stroke="#3a3340" stroke-width="0.9" />
<line x1="252.7" y1="161.2" x2="252.7" y2="176.6" stroke="#3a3340" stroke-width="0.9" />
<line x1="252.7" y1="178.8" x2="252.7" y2="218.5" stroke="#3a3340" stroke-width="0.9" />
<line x1="252.7" y1="220.5" x2="252.7" y2="260.5" stroke="#3a3340" stroke-width="0.9" />
<line x1="252.7" y1="262.9" x2="252.7" y2="290" stroke="#3a3340" stroke-width="0.9" />
<line x1="252.7" y1="292.5" x2="252.7" y2="349.6" stroke="#3a3340" stroke-width="0.9" />
<line x1="264.5" y1="20.7" x2="264.5" y2="74" stroke="#1a1a1a" stroke-width="0.9" />
<line x1="264.5" y1="93.2" x2="264.5" y2="126.7" stroke="#3a3340" stroke-width="0.9" />
<line x1="264.5" y1="129.1" x2="264.5" y2="158.9" stroke="#3a3340" stroke-width="0.9" />
<line x1="264.5" y1="161.2" x2="264.5" y2="176.6" stroke="#3a3340" stroke-width="0.9" />
<line x1="264.5" y1="178.8" x2="264.5" y2="218.5" stroke="#3a3340" stroke-width="0.9" />
<line x1="264.5" y1="220.5" x2="264.5" y2="260.5" stroke="#3a3340" stroke-width="0.9" />
<line x1="264.5" y1="262.9" x2="264.5" y2="290" stroke="#3a3340" stroke-width="0.9" />
<line x1="264.5" y1="292.5" x2="264.5" y2="349.6" stroke="#3a3340" stroke-width="0.9" />
<line x1="278.5" y1="20.7" x2="278.5" y2="74" stroke="#1a1a1a" stroke-width="0.9" />
<line x1="278.5" y1="93.2" x2="278.5" y2="126.7" stroke="#3a3340" stroke-width="0.9" />
<line x1="278.5" y1="129.1" x2="278.5" y2="158.9" stroke="#3a3340" stroke-width="0.9" />
<line x1="278.5" y1="161.2" x2="278.5" y2="176.6" stroke="#3a3340" stroke-width="0.9" />
<line x1="278.5" y1="178.8" x2="278.5" y2="218.5" stroke="#3a3340" stroke-width="0.9" />
<line x1="278.5" y1="220.5" x2="278.5" y2="260.5" stroke="#3a3340" stroke-width="0.9" />
<line x1="278.5" y1="262.9" x2="278.5" y2="290" stroke="#3a3340" stroke-width="0.9" />
<line x1="278.5" y1="292.5" x2="278.5" y2="349.6" stroke="#3a3340" stroke-width="0.9" />
<line x1="290.3" y1="20.7" x2="290.3" y2="74" stroke="#1a1a1a" stroke-width="0.9" />
<line x1="290.3" y1="93.2" x2="290.3" y2="126.7" stroke="#3a3340" stroke-width="0.9" />
<line x1="290.3" y1="129.1" x2="290.3" y2="158.9" stroke="#3a3340" stroke-width="0.9" />
<line x1="290.3" y1="161.2" x2="290.3" y2="176.6" stroke="#3a3340" stroke-width="0.9" />
<line x1="290.3" y1="178.8" x2="290.3" y2="218.5" stroke="#3a3340" stroke-width="0.9" />
<line x1="290.3" y1="220.5" x2="290.3" y2="260.5" stroke="#3a3340" stroke-width="0.9" />
<line x1="290.3" y1="262.9" x2="290.3" y2="290" stroke="#3a3340" stroke-width="0.9" />
<line x1="290.3" y1="292.5" x2="290.3" y2="349.6" stroke="#3a3340" stroke-width="0.9" />
<line x1="308.8" y1="20.7" x2="308.8" y2="74" stroke="#1a1a1a" stroke-width="0.9" />
<line x1="308.8" y1="93.2" x2="308.8" y2="126.7" stroke="#3a3340" stroke-width="0.9" />
<line x1="308.8" y1="129.1" x2="308.8" y2="158.9" stroke="#3a3340" stroke-width="0.9" />
<line x1="308.8" y1="161.2" x2="308.8" y2="176.6" stroke="#3a3340" stroke-width="0.9" />
<line x1="308.8" y1="178.8" x2="308.8" y2="218.5" stroke="#3a3340" stroke-width="0.9" />
<line x1="308.8" y1="220.5" x2="308.8" y2="260.5" stroke="#3a3340" stroke-width="0.9" />
<line x1="308.8" y1="262.9" x2="308.8" y2="290" stroke="#3a3340" stroke-width="0.9" />
<line x1="308.8" y1="292.5" x2="308.8" y2="349.6" stroke="#3a3340" stroke-width="0.9" />
<line x1="330" y1="20.7" x2="330" y2="74" stroke="#1a1a1a" stroke-width="0.9" />
<line x1="330" y1="93.2" x2="330" y2="126.7" stroke="#3a3340" stroke-width="0.9" />
<line x1="330" y1="129.1" x2="330" y2="158.9" stroke="#3a3340" stroke-width="0.9" />
<line x1="330" y1="161.2" x2="330" y2="176.6" stroke="#3a3340" stroke-width="0.9" />
<line x1="330" y1="178.8" x2="330" y2="218.5" stroke="#3a3340" stroke-width="0.9" />
<line x1="330" y1="220.5" x2="330" y2="260.5" stroke="#3a3340" stroke-width="0.9" />
<line x1="330" y1="262.9" x2="330" y2="290" stroke="#3a3340" stroke-width="0.9" />
<line x1="330" y1="292.5" x2="330" y2="349.6" stroke="#3a3340" stroke-width="0.9" />
<line x1="336.7" y1="20.7" x2="336.7" y2="74" stroke="#1a1a1a" stroke-width="0.9" />
<line x1="336.7" y1="93.2" x2="336.7" y2="126.7" stroke="#3a3340" stroke-width="0.9" />
<line x1="336.7" y1="129.1" x2="336.7" y2="158.9" stroke="#3a3340" stroke-width="0.9" />
<line x1="336.7" y1="161.2" x2="336.7" y2="176.6" stroke="#3a3340" stroke-width="0.9" />
<line x1="336.7" y1="178.8" x2="336.7" y2="218.5" stroke="#3a3340" stroke-width="0.9" />
<line x1="336.7" y1="220.5" x2="336.7" y2="260.5" stroke="#3a3340" stroke-width="0.9" />
<line x1="336.7" y1="262.9" x2="336.7" y2="290" stroke="#3a3340" stroke-width="0.9" />
<line x1="336.7" y1="292.5" x2="336.7" y2="349.6" stroke="#3a3340" stroke-width="0.9" />
<line x1="348.3" y1="20.7" x2="348.3" y2="74" stroke="#1a1a1a" stroke-width="0.9" />
<line x1="348.3" y1="93.2" x2="348.3" y2="126.7" stroke="#3a3340" stroke-width="0.9" />
<line x1="348.3" y1="129.1" x2="348.3" y2="158.9" stroke="#3a3340" stroke-width="0.9" />
<line x1="348.3" y1="161.2" x2="348.3" y2="176.6" stroke="#3a3340" stroke-width="0.9" />
<line x1="348.3" y1="178.8" x2="348.3" y2="218.5" stroke="#3a3340" stroke-width="0.9" />
<line x1="348.3" y1="220.5" x2="348.3" y2="260.5" stroke="#3a3340" stroke-width="0.9" />
<line x1="348.3" y1="262.9" x2="348.3" y2="290" stroke="#3a3340" stroke-width="0.9" />
<line x1="348.3" y1="292.5" x2="348.3" y2="349.6" stroke="#3a3340" stroke-width="0.9" />
<line x1="359.6" y1="20.7" x2="359.6" y2="74" stroke="#1a1a1a" stroke-width="0.9" />
<line x1="359.6" y1="93.2" x2="359.6" y2="126.7" stroke="#3a3340" stroke-width="0.9" />
<line x1="359.6" y1="129.1" x2="359.6" y2="158.9" stroke="#3a3340" stroke-width="0.9" />
<line x1="359.6" y1="161.2" x2="359.6" y2="176.6" stroke="#3a3340" stroke-width="0.9" />
<line x1="359.6" y1="178.8" x2="359.6" y2="218.5" stroke="#3a3340" stroke-width="0.9" />
<line x1="359.6" y1="220.5" x2="359.6" y2="260.5" stroke="#3a3340" stroke-width="0.9" />
<line x1="359.6" y1="262.9" x2="359.6" y2="290" stroke="#3a3340" stroke-width="0.9" />
<line x1="359.6" y1="292.5" x2="359.6" y2="349.6" stroke="#3a3340" stroke-width="0.9" />
<line x1="375.2" y1="20.7" x2="375.2" y2="74" stroke="#1a1a1a" stroke-width="0.9" />
<line x1="375.2" y1="93.2" x2="375.2" y2="126.7" stroke="#3a3340" stroke-width="0.9" />
<line x1="375.2" y1="129.1" x2="375.2" y2="158.9" stroke="#3a3340" stroke-width="0.9" />
<line x1="375.2" y1="161.2" x2="375.2" y2="176.6" stroke="#3a3340" stroke-width="0.9" />
<line x1="375.2" y1="178.8" x2="375.2" y2="218.5" stroke="#3a3340" stroke-width="0.9" />
<line x1="375.2" y1="220.5" x2="375.2" y2="260.5" stroke="#3a3340" stroke-width="0.9" />
<line x1="375.2" y1="262.9" x2="375.2" y2="290" stroke="#3a3340" stroke-width="0.9" />
<line x1="375.2" y1="292.5" x2="375.2" y2="349.6" stroke="#3a3340" stroke-width="0.9" />
<line x1="395" y1="20.7" x2="395" y2="74" stroke="#1a1a1a" stroke-width="0.9" />
<line x1="395" y1="93.2" x2="395" y2="126.7" stroke="#3a3340" stroke-width="0.9" />
<line x1="395" y1="129.1" x2="395" y2="158.9" stroke="#3a3340" stroke-width="0.9" />
<line x1="395" y1="161.2" x2="395" y2="176.6" stroke="#3a3340" stroke-width="0.9" />
<line x1="395" y1="178.8" x2="395" y2="218.5" stroke="#3a3340" stroke-width="0.9" />
<line x1="395" y1="220.5" x2="395" y2="260.5" stroke="#3a3340" stroke-width="0.9" />
<line x1="395" y1="262.9" x2="395" y2="290" stroke="#3a3340" stroke-width="0.9" />
<line x1="395" y1="292.5" x2="395" y2="349.6" stroke="#3a3340" stroke-width="0.9" />
<line x1="400.5" y1="20.7" x2="400.5" y2="74" stroke="#1a1a1a" stroke-width="0.9" />
<line x1="400.5" y1="93.2" x2="400.5" y2="126.7" stroke="#3a3340" stroke-width="0.9" />
<line x1="400.5" y1="129.1" x2="400.5" y2="158.9" stroke="#3a3340" stroke-width="0.9" />
<line x1="400.5" y1="161.2" x2="400.5" y2="176.6" stroke="#3a3340" stroke-width="0.9" />
<line x1="400.5" y1="178.8" x2="400.5" y2="218.5" stroke="#3a3340" stroke-width="0.9" />
<line x1="400.5" y1="220.5" x2="400.5" y2="260.5" stroke="#3a3340" stroke-width="0.9" />
<line x1="400.5" y1="262.9" x2="400.5" y2="290" stroke="#3a3340" stroke-width="0.9" />
<line x1="400.5" y1="292.5" x2="400.5" y2="349.6" stroke="#3a3340" stroke-width="0.9" />
<line x1="422.7" y1="20.7" x2="422.7" y2="74" stroke="#1a1a1a" stroke-width="0.9" />
<line x1="422.7" y1="93.2" x2="422.7" y2="126.7" stroke="#3a3340" stroke-width="0.9" />
<line x1="422.7" y1="129.1" x2="422.7" y2="158.9" stroke="#3a3340" stroke-width="0.9" />
<line x1="422.7" y1="161.2" x2="422.7" y2="176.6" stroke="#3a3340" stroke-width="0.9" />
<line x1="422.7" y1="178.8" x2="422.7" y2="218.5" stroke="#3a3340" stroke-width="0.9" />
<line x1="422.7" y1="220.5" x2="422.7" y2="260.5" stroke="#3a3340" stroke-width="0.9" />
<line x1="422.7" y1="262.9" x2="422.7" y2="290" stroke="#3a3340" stroke-width="0.9" />
<line x1="422.7" y1="292.5" x2="422.7" y2="349.6" stroke="#3a3340" stroke-width="0.9" />
<line x1="431.2" y1="20.7" x2="431.2" y2="74" stroke="#1a1a1a" stroke-width="0.9" />
<line x1="431.2" y1="93.2" x2="431.2" y2="126.7" stroke="#3a3340" stroke-width="0.9" />
<line x1="431.2" y1="129.1" x2="431.2" y2="158.9" stroke="#3a3340" stroke-width="0.9" />
<line x1="431.2" y1="161.2" x2="431.2" y2="176.6" stroke="#3a3340" stroke-width="0.9" />
<line x1="431.2" y1="178.8" x2="431.2" y2="218.5" stroke="#3a3340" stroke-width="0.9" />
<line x1="431.2" y1="220.5" x2="431.2" y2="260.5" stroke="#3a3340" stroke-width="0.9" />
<line x1="431.2" y1="262.9" x2="431.2" y2="290" stroke="#3a3340" stroke-width="0.9" />
<line x1="431.2" y1="292.5" x2="431.2" y2="349.6" stroke="#3a3340" stroke-width="0.9" />
<line x1="434.6" y1="20.7" x2="434.6" y2="74" stroke="#1a1a1a" stroke-width="0.9" />
<line x1="434.6" y1="93.2" x2="434.6" y2="126.7" stroke="#3a3340" stroke-width="0.9" />
<line x1="434.6" y1="129.1" x2="434.6" y2="158.9" stroke="#3a3340" stroke-width="0.9" />
<line x1="434.6" y1="161.2" x2="434.6" y2="176.6" stroke="#3a3340" stroke-width="0.9" />
<line x1="434.6" y1="178.8" x2="434.6" y2="218.5" stroke="#3a3340" stroke-width="0.9" />
<line x1="434.6" y1="220.5" x2="434.6" y2="260.5" stroke="#3a3340" stroke-width="0.9" />
<line x1="434.6" y1="262.9" x2="434.6" y2="290" stroke="#3a3340" stroke-width="0.9" />
<line x1="434.6" y1="292.5" x2="434.6" y2="349.6" stroke="#3a3340" stroke-width="0.9" />
<line x1="111.5" y1="52.4" x2="443.2" y2="52.4" stroke="#1a1a1a" stroke-width="0.9" />
<line x1="111.5" y1="93.5" x2="443.2" y2="93.5" stroke="#d6d4dc" stroke-width="0.6" />
<line x1="111.5" y1="126.3" x2="443.2" y2="126.3" stroke="#bdbac6" stroke-width="0.8" />
<line x1="111.5" y1="129.4" x2="443.2" y2="129.4" stroke="#d6d4dc" stroke-width="0.6" />
<line x1="111.5" y1="158.5" x2="443.2" y2="158.5" stroke="#bdbac6" stroke-width="0.8" />
<line x1="111.5" y1="161.5" x2="443.2" y2="161.5" stroke="#d6d4dc" stroke-width="0.6" />
<line x1="111.5" y1="176.2" x2="443.2" y2="176.2" stroke="#bdbac6" stroke-width="0.8" />
<line x1="111.5" y1="179.1" x2="443.2" y2="179.1" stroke="#d6d4dc" stroke-width="0.6" />
<line x1="111.5" y1="218.1" x2="443.2" y2="218.1" stroke="#bdbac6" stroke-width="0.8" />
<line x1="111.5" y1="220.8" x2="443.2" y2="220.8" stroke="#d6d4dc" stroke-width="0.6" />
<line x1="111.5" y1="260.1" x2="443.2" y2="260.1" stroke="#bdbac6" stroke-width="0.8" />
<line x1="111.5" y1="263.2" x2="443.2" y2="263.2" stroke="#d6d4dc" stroke-width="0.6" />
<line x1="111.5" y1="289.6" x2="443.2" y2="289.6" stroke="#bdbac6" stroke-width="0.8" />
<line x1="111.5" y1="292.8" x2="443.2" y2="292.8" stroke="#d6d4dc" stroke-width="0.6" />
<line x1="111.5" y1="349.2" x2="443.2" y2="349.2" stroke="#bdbac6" stroke-width="0.8" />
<rect x="101.5" y="20.7" width="6.4" height="31.2" fill="#7ecab5" />
<rect x="101.5" y="51.9" width="6.4" height="21.6" fill="#f0df6a" />
<rect x="92.1" y="93.2" width="7" height="33.7" fill="#f2eba6" />
<rect x="92.1" y="129.1" width="7" height="30" fill="#ef6f5e" />
<rect x="92.1" y="161.2" width="7" height="15.6" fill="#6fa1d2" />
<rect x="92.1" y="178.8" width="7" height="39.9" fill="#f4a35e" />
<rect x="92.1" y="220.5" width="7" height="40.2" fill="#f5c6d8" />
<rect x="92.1" y="262.9" width="7" height="27.3" fill="#d4d0d5" />
<rect x="92.1" y="292.5" width="7" height="57.3" fill="#b8d9a6" />
<rect x="101.5" y="93.2" width="6.4" height="22.4" fill="#7ecab5" />
<rect x="101.5" y="115.6" width="6.4" height="2.2" fill="#b9b6d8" />
<rect x="101.5" y="117.8" width="6.4" height="8.7" fill="#a578b8" />
<rect x="101.5" y="129.3" width="6.4" height="20.5" fill="#7ecab5" />
<rect x="101.5" y="149.8" width="6.4" height="1" fill="#b9b6d8" />
<rect x="101.5" y="150.8" width="6.4" height="7.6" fill="#a578b8" />
<rect x="101.5" y="161" width="6.4" height="15.8" fill="#7ecab5" />
<rect x="101.5" y="178.4" width="6.4" height="28.3" fill="#7ecab5" />
<rect x="101.5" y="206.7" width="6.4" height="0.6" fill="#b9b6d8" />
<rect x="101.5" y="207.3" width="6.4" height="11.5" fill="#a578b8" />
<rect x="101.5" y="221.2" width="6.4" height="38.6" fill="#7ecab5" />
<rect x="101.5" y="262.8" width="6.4" height="20.8" fill="#7ecab5" />
<rect x="101.5" y="283.6" width="6.4" height="0.6" fill="#b9b6d8" />
<rect x="101.5" y="284.2" width="6.4" height="5.8" fill="#a578b8" />
<rect x="101.5" y="292.8" width="6.4" height="41" fill="#7ecab5" />
<rect x="101.5" y="333.8" width="6.4" height="2" fill="#b9b6d8" />
<rect x="101.5" y="335.8" width="6.4" height="14" fill="#a578b8" />
<line x1="26.5" y1="104.5" x2="26.5" y2="114.9" stroke="#222" stroke-width="0.75" />
<line x1="26.5" y1="104.5" x2="44.2" y2="104.5" stroke="#222" stroke-width="0.75" />
<line x1="44.2" y1="101.8" x2="44.2" y2="108" stroke="#222" stroke-width="0.75" />
<line x1="44.2" y1="101.8" x2="52.5" y2="101.8" stroke="#222" stroke-width="0.75" />
<line x1="52.5" y1="98.6" x2="52.5" y2="103.8" stroke="#222" stroke-width="0.75" />
<line x1="52.5" y1="98.6" x2="66.4" y2="98.6" stroke="#222" stroke-width="0.75" />
<line x1="66.4" y1="96.2" x2="66.4" y2="100.4" stroke="#222" stroke-width="0.75" />
<line x1="66.4" y1="96.2" x2="74" y2="96.2" stroke="#222" stroke-width="0.75" />
<line x1="66.4" y1="100.4" x2="76" y2="100.4" stroke="#222" stroke-width="0.75" />
<line x1="52.5" y1="103.8" x2="73" y2="103.8" stroke="#222" stroke-width="0.75" />
<line x1="44.2" y1="108" x2="72" y2="108" stroke="#222" stroke-width="0.75" />
<line x1="26.5" y1="114.9" x2="72.6" y2="114.9" stroke="#222" stroke-width="0.75" />
<line x1="72.6" y1="113.5" x2="72.6" y2="116" stroke="#222" stroke-width="0.75" />
<line x1="72.6" y1="113.5" x2="78" y2="113.5" stroke="#222" stroke-width="0.75" />
<line x1="72.6" y1="116" x2="80" y2="116" stroke="#222" stroke-width="0.75" />
<line x1="74" y1="94.5" x2="74" y2="97.05" stroke="#333" stroke-width="0.55" />
<line x1="74" y1="94.5" x2="77.82" y2="94.5" stroke="#333" stroke-width="0.55" />
<line x1="77.82" y1="94.09" x2="77.82" y2="95.39" stroke="#333" stroke-width="0.55" />
<line x1="77.82" y1="94.09" x2="79.84" y2="94.09" stroke="#333" stroke-width="0.55" />
<line x1="79.84" y1="94.09" x2="82" y2="94.09" stroke="#333" stroke-width="0.5" />
<line x1="77.82" y1="95.39" x2="81.5" y2="95.39" stroke="#333" stroke-width="0.55" />
<line x1="81.5" y1="95.39" x2="82" y2="95.39" stroke="#333" stroke-width="0.5" />
<line x1="74" y1="97.05" x2="77.46" y2="97.05" stroke="#333" stroke-width="0.55" />
<line x1="77.46" y1="96.5" x2="77.46" y2="97.75" stroke="#333" stroke-width="0.55" />
<line x1="77.46" y1="96.5" x2="78.85" y2="96.5" stroke="#333" stroke-width="0.55" />
<line x1="78.85" y1="96.01" x2="78.85" y2="96.72" stroke="#333" stroke-width="0.55" />
<line x1="78.85" y1="96.01" x2="81.19" y2="96.01" stroke="#333" stroke-width="0.55" />
<line x1="81.19" y1="96.01" x2="82" y2="96.01" stroke="#333" stroke-width="0.5" />
<line x1="78.85" y1="96.72" x2="82.46" y2="96.72" stroke="#333" stroke-width="0.55" />
<line x1="82.46" y1="96.72" x2="82" y2="96.72" stroke="#333" stroke-width="0.5" />
<line x1="77.46" y1="97.75" x2="79.35" y2="97.75" stroke="#333" stroke-width="0.55" />
<line x1="79.35" y1="97.75" x2="82" y2="97.75" stroke="#333" stroke-width="0.5" />
<line x1="76" y1="99.25" x2="76" y2="101.15" stroke="#333" stroke-width="0.55" />
<line x1="76" y1="99.25" x2="78.11" y2="99.25" stroke="#333" stroke-width="0.55" />
<line x1="78.11" y1="98.91" x2="78.11" y2="99.86" stroke="#333" stroke-width="0.55" />
<line x1="78.11" y1="98.91" x2="82.42" y2="98.91" stroke="#333" stroke-width="0.55" />
<line x1="82.42" y1="98.91" x2="82" y2="98.91" stroke="#333" stroke-width="0.5" />
<line x1="78.11" y1="99.86" x2="80.52" y2="99.86" stroke="#333" stroke-width="0.55" />
<line x1="80.52" y1="99.86" x2="82" y2="99.86" stroke="#333" stroke-width="0.5" />
<line x1="76" y1="101.15" x2="80.49" y2="101.15" stroke="#333" stroke-width="0.55" />
<line x1="80.49" y1="101.15" x2="82" y2="101.15" stroke="#333" stroke-width="0.5" />
<line x1="73" y1="102.72" x2="73" y2="104.62" stroke="#333" stroke-width="0.55" />
<line x1="73" y1="102.72" x2="76.84" y2="102.72" stroke="#333" stroke-width="0.55" />
<line x1="76.84" y1="102.72" x2="82" y2="102.72" stroke="#333" stroke-width="0.5" />
<line x1="73" y1="104.62" x2="77.06" y2="104.62" stroke="#333" stroke-width="0.55" />
<line x1="77.06" y1="103.8" x2="77.06" y2="105.08" stroke="#333" stroke-width="0.55" />
<line x1="77.06" y1="103.8" x2="80.53" y2="103.8" stroke="#333" stroke-width="0.55" />
<line x1="80.53" y1="103.8" x2="82" y2="103.8" stroke="#333" stroke-width="0.5" />
<line x1="77.06" y1="105.08" x2="80.02" y2="105.08" stroke="#333" stroke-width="0.55" />
<line x1="80.02" y1="105.08" x2="82" y2="105.08" stroke="#333" stroke-width="0.5" />
<line x1="72" y1="107.55" x2="72" y2="109.98" stroke="#333" stroke-width="0.55" />
<line x1="72" y1="107.55" x2="73.74" y2="107.55" stroke="#333" stroke-width="0.55" />
<line x1="73.74" y1="106.75" x2="73.74" y2="108.41" stroke="#333" stroke-width="0.55" />
<line x1="73.74" y1="106.75" x2="77.82" y2="106.75" stroke="#333" stroke-width="0.55" />
<line x1="77.82" y1="106.37" x2="77.82" y2="107.23" stroke="#333" stroke-width="0.55" />
<line x1="77.82" y1="106.37" x2="79.91" y2="106.37" stroke="#333" stroke-width="0.55" />
<line x1="79.91" y1="106.37" x2="82" y2="106.37" stroke="#333" stroke-width="0.5" />
<line x1="77.82" y1="107.23" x2="79.11" y2="107.23" stroke="#333" stroke-width="0.55" />
<line x1="79.11" y1="107.23" x2="82" y2="107.23" stroke="#333" stroke-width="0.5" />
<line x1="73.74" y1="108.41" x2="78.02" y2="108.41" stroke="#333" stroke-width="0.55" />
<line x1="78.02" y1="108" x2="78.02" y2="108.8" stroke="#333" stroke-width="0.55" />
<line x1="78.02" y1="108" x2="82.51" y2="108" stroke="#333" stroke-width="0.55" />
<line x1="82.51" y1="108" x2="82" y2="108" stroke="#333" stroke-width="0.5" />
<line x1="78.02" y1="108.8" x2="79.52" y2="108.8" stroke="#333" stroke-width="0.55" />
<line x1="79.52" y1="108.8" x2="82" y2="108.8" stroke="#333" stroke-width="0.5" />
<line x1="72" y1="109.98" x2="75.84" y2="109.98" stroke="#333" stroke-width="0.55" />
<line x1="75.84" y1="109.69" x2="75.84" y2="110.46" stroke="#333" stroke-width="0.55" />
<line x1="75.84" y1="109.69" x2="80.06" y2="109.69" stroke="#333" stroke-width="0.55" />
<line x1="80.06" y1="109.69" x2="82" y2="109.69" stroke="#333" stroke-width="0.5" />
<line x1="75.84" y1="110.46" x2="76.91" y2="110.46" stroke="#333" stroke-width="0.55" />
<line x1="76.91" y1="110.46" x2="82" y2="110.46" stroke="#333" stroke-width="0.5" />
<line x1="78" y1="111.65" x2="78" y2="113.65" stroke="#333" stroke-width="0.55" />
<line x1="78" y1="111.65" x2="79.18" y2="111.65" stroke="#333" stroke-width="0.55" />
<line x1="79.18" y1="111.29" x2="79.18" y2="112.19" stroke="#333" stroke-width="0.55" />
<line x1="79.18" y1="111.29" x2="81.42" y2="111.29" stroke="#333" stroke-width="0.55" />
<line x1="81.42" y1="111.29" x2="82" y2="111.29" stroke="#333" stroke-width="0.5" />
<line x1="79.18" y1="112.19" x2="83.54" y2="112.19" stroke="#333" stroke-width="0.55" />
<line x1="83.54" y1="112.19" x2="82" y2="112.19" stroke="#333" stroke-width="0.5" />
<line x1="78" y1="113.65" x2="80.31" y2="113.65" stroke="#333" stroke-width="0.55" />
<line x1="80.31" y1="113.65" x2="82" y2="113.65" stroke="#333" stroke-width="0.5" />
<line x1="80" y1="115.88" x2="82" y2="115.88" stroke="#333" stroke-width="0.5" />
<line x1="26.5" y1="122.5" x2="26.5" y2="126.3" stroke="#222" stroke-width="0.75" />
<line x1="26.5" y1="122.5" x2="44.2" y2="122.5" stroke="#222" stroke-width="0.75" />
<line x1="44.2" y1="121.6" x2="44.2" y2="123.2" stroke="#222" stroke-width="0.75" />
<line x1="44.2" y1="121.6" x2="52.5" y2="121.6" stroke="#222" stroke-width="0.75" />
<line x1="44.2" y1="123.2" x2="60" y2="123.2" stroke="#222" stroke-width="0.75" />
<line x1="26.5" y1="126.3" x2="75" y2="126.3" stroke="#222" stroke-width="0.75" />
<line x1="52.5" y1="119.06" x2="52.5" y2="121.46" stroke="#333" stroke-width="0.55" />
<line x1="52.5" y1="119.06" x2="56.54" y2="119.06" stroke="#333" stroke-width="0.55" />
<line x1="56.54" y1="118.18" x2="56.54" y2="119.64" stroke="#333" stroke-width="0.55" />
<line x1="56.54" y1="118.18" x2="59.49" y2="118.18" stroke="#333" stroke-width="0.55" />
<line x1="59.49" y1="118.18" x2="82" y2="118.18" stroke="#333" stroke-width="0.5" />
<line x1="56.54" y1="119.64" x2="60.89" y2="119.64" stroke="#333" stroke-width="0.55" />
<line x1="60.89" y1="119.21" x2="60.89" y2="120.09" stroke="#333" stroke-width="0.55" />
<line x1="60.89" y1="119.21" x2="63.15" y2="119.21" stroke="#333" stroke-width="0.55" />
<line x1="63.15" y1="119.21" x2="82" y2="119.21" stroke="#333" stroke-width="0.5" />
<line x1="60.89" y1="120.09" x2="62.82" y2="120.09" stroke="#333" stroke-width="0.55" />
<line x1="62.82" y1="120.09" x2="82" y2="120.09" stroke="#333" stroke-width="0.5" />
<line x1="52.5" y1="121.46" x2="56.25" y2="121.46" stroke="#333" stroke-width="0.55" />
<line x1="56.25" y1="120.88" x2="56.25" y2="121.82" stroke="#333" stroke-width="0.55" />
<line x1="56.25" y1="120.88" x2="59.37" y2="120.88" stroke="#333" stroke-width="0.55" />
<line x1="59.37" y1="120.88" x2="82" y2="120.88" stroke="#333" stroke-width="0.5" />
<line x1="56.25" y1="121.82" x2="59.2" y2="121.82" stroke="#333" stroke-width="0.55" />
<line x1="59.2" y1="121.82" x2="82" y2="121.82" stroke="#333" stroke-width="0.5" />
<line x1="60" y1="123.01" x2="60" y2="124.19" stroke="#333" stroke-width="0.55" />
<line x1="60" y1="123.01" x2="61.45" y2="123.01" stroke="#333" stroke-width="0.55" />
<line x1="61.45" y1="123.01" x2="82" y2="123.01" stroke="#333" stroke-width="0.5" />
<line x1="60" y1="124.19" x2="63.3" y2="124.19" stroke="#333" stroke-width="0.55" />
<line x1="63.3" y1="124.19" x2="82" y2="124.19" stroke="#333" stroke-width="0.5" />
<line x1="75" y1="125.33" x2="75" y2="126.21" stroke="#333" stroke-width="0.55" />
<line x1="75" y1="125.33" x2="77.12" y2="125.33" stroke="#333" stroke-width="0.55" />
<line x1="77.12" y1="125.33" x2="82" y2="125.33" stroke="#333" stroke-width="0.5" />
<line x1="75" y1="126.21" x2="77.16" y2="126.21" stroke="#333" stroke-width="0.55" />
<line x1="77.16" y1="126.21" x2="82" y2="126.21" stroke="#333" stroke-width="0.5" />
<line x1="26.5" y1="135.8" x2="26.5" y2="146.9" stroke="#222" stroke-width="0.75" />
<line x1="26.5" y1="135.8" x2="46.7" y2="135.8" stroke="#222" stroke-width="0.75" />
<line x1="46.7" y1="133.9" x2="46.7" y2="137.5" stroke="#222" stroke-width="0.75" />
<line x1="46.7" y1="133.9" x2="63.3" y2="133.9" stroke="#222" stroke-width="0.75" />
<line x1="63.3" y1="132.5" x2="63.3" y2="134.9" stroke="#222" stroke-width="0.75" />
<line x1="63.3" y1="132.5" x2="72" y2="132.5" stroke="#222" stroke-width="0.75" />
<line x1="63.3" y1="134.9" x2="75" y2="134.9" stroke="#222" stroke-width="0.75" />
<line x1="46.7" y1="137.5" x2="75" y2="137.5" stroke="#222" stroke-width="0.75" />
<line x1="26.5" y1="146.9" x2="62.5" y2="146.9" stroke="#222" stroke-width="0.75" />
<line x1="62.5" y1="144" x2="62.5" y2="148.4" stroke="#222" stroke-width="0.75" />
<line x1="62.5" y1="144" x2="67.6" y2="144" stroke="#222" stroke-width="0.75" />
<line x1="67.6" y1="141.9" x2="67.6" y2="145.5" stroke="#222" stroke-width="0.75" />
<line x1="67.6" y1="141.9" x2="74" y2="141.9" stroke="#222" stroke-width="0.75" />
<line x1="67.6" y1="145.5" x2="76" y2="145.5" stroke="#222" stroke-width="0.75" />
<line x1="62.5" y1="148.4" x2="72" y2="148.4" stroke="#222" stroke-width="0.75" />
<line x1="72" y1="130.76" x2="72" y2="132.96" stroke="#333" stroke-width="0.55" />
<line x1="72" y1="130.76" x2="75.02" y2="130.76" stroke="#333" stroke-width="0.55" />
<line x1="75.02" y1="129.9" x2="75.02" y2="131.36" stroke="#333" stroke-width="0.55" />
<line x1="75.02" y1="129.9" x2="76.06" y2="129.9" stroke="#333" stroke-width="0.55" />
<line x1="76.06" y1="129.9" x2="82" y2="129.9" stroke="#333" stroke-width="0.5" />
<line x1="75.02" y1="131.36" x2="78.66" y2="131.36" stroke="#333" stroke-width="0.55" />
<line x1="78.66" y1="130.87" x2="78.66" y2="131.74" stroke="#333" stroke-width="0.55" />
<line x1="78.66" y1="130.87" x2="81.3" y2="130.87" stroke="#333" stroke-width="0.55" />
<line x1="81.3" y1="130.87" x2="82" y2="130.87" stroke="#333" stroke-width="0.5" />
<line x1="78.66" y1="131.74" x2="80.61" y2="131.74" stroke="#333" stroke-width="0.55" />
<line x1="80.61" y1="131.74" x2="82" y2="131.74" stroke="#333" stroke-width="0.5" />
<line x1="72" y1="132.96" x2="75.22" y2="132.96" stroke="#333" stroke-width="0.55" />
<line x1="75.22" y1="132.66" x2="75.22" y2="133.4" stroke="#333" stroke-width="0.55" />
<line x1="75.22" y1="132.66" x2="77.3" y2="132.66" stroke="#333" stroke-width="0.55" />
<line x1="77.3" y1="132.66" x2="82" y2="132.66" stroke="#333" stroke-width="0.5" />
<line x1="75.22" y1="133.4" x2="76.48" y2="133.4" stroke="#333" stroke-width="0.55" />
<line x1="76.48" y1="133.4" x2="82" y2="133.4" stroke="#333" stroke-width="0.5" />
<line x1="75" y1="134.57" x2="75" y2="135.82" stroke="#333" stroke-width="0.55" />
<line x1="75" y1="134.57" x2="79.19" y2="134.57" stroke="#333" stroke-width="0.55" />
<line x1="79.19" y1="133.97" x2="79.19" y2="134.84" stroke="#333" stroke-width="0.55" />
<line x1="79.19" y1="133.97" x2="82.16" y2="133.97" stroke="#333" stroke-width="0.55" />
<line x1="82.16" y1="133.97" x2="82" y2="133.97" stroke="#333" stroke-width="0.5" />
<line x1="79.19" y1="134.84" x2="82.59" y2="134.84" stroke="#333" stroke-width="0.55" />
<line x1="82.59" y1="134.84" x2="82" y2="134.84" stroke="#333" stroke-width="0.5" />
<line x1="75" y1="135.82" x2="77.41" y2="135.82" stroke="#333" stroke-width="0.55" />
<line x1="77.41" y1="135.82" x2="82" y2="135.82" stroke="#333" stroke-width="0.5" />
<line x1="75" y1="137.24" x2="75" y2="138.99" stroke="#333" stroke-width="0.55" />
<line x1="75" y1="137.24" x2="79.36" y2="137.24" stroke="#333" stroke-width="0.55" />
<line x1="79.36" y1="136.76" x2="79.36" y2="137.79" stroke="#333" stroke-width="0.55" />
<line x1="79.36" y1="136.76" x2="81.73" y2="136.76" stroke="#333" stroke-width="0.55" />
<line x1="81.73" y1="136.76" x2="82" y2="136.76" stroke="#333" stroke-width="0.5" />
<line x1="79.36" y1="137.79" x2="81.04" y2="137.79" stroke="#333" stroke-width="0.55" />
<line x1="81.04" y1="137.79" x2="82" y2="137.79" stroke="#333" stroke-width="0.5" />
<line x1="75" y1="138.99" x2="76.88" y2="138.99" stroke="#333" stroke-width="0.55" />
<line x1="76.88" y1="138.53" x2="76.88" y2="139.24" stroke="#333" stroke-width="0.55" />
<line x1="76.88" y1="138.53" x2="78.27" y2="138.53" stroke="#333" stroke-width="0.55" />
<line x1="78.27" y1="138.53" x2="82" y2="138.53" stroke="#333" stroke-width="0.5" />
<line x1="76.88" y1="139.24" x2="78.62" y2="139.24" stroke="#333" stroke-width="0.55" />
<line x1="78.62" y1="139.24" x2="82" y2="139.24" stroke="#333" stroke-width="0.5" />
<line x1="74" y1="140.97" x2="74" y2="142.97" stroke="#333" stroke-width="0.55" />
<line x1="74" y1="140.97" x2="76.88" y2="140.97" stroke="#333" stroke-width="0.55" />
<line x1="76.88" y1="140.49" x2="76.88" y2="141.77" stroke="#333" stroke-width="0.55" />
<line x1="76.88" y1="140.49" x2="81.1" y2="140.49" stroke="#333" stroke-width="0.55" />
<line x1="81.1" y1="140.49" x2="82" y2="140.49" stroke="#333" stroke-width="0.5" />
<line x1="76.88" y1="141.77" x2="80.72" y2="141.77" stroke="#333" stroke-width="0.55" />
<line x1="80.72" y1="141.77" x2="82" y2="141.77" stroke="#333" stroke-width="0.5" />
<line x1="74" y1="142.97" x2="75.17" y2="142.97" stroke="#333" stroke-width="0.55" />
<line x1="75.17" y1="142.73" x2="75.17" y2="143.46" stroke="#333" stroke-width="0.55" />
<line x1="75.17" y1="142.73" x2="76.5" y2="142.73" stroke="#333" stroke-width="0.55" />
<line x1="76.5" y1="142.73" x2="82" y2="142.73" stroke="#333" stroke-width="0.5" />
<line x1="75.17" y1="143.46" x2="78.87" y2="143.46" stroke="#333" stroke-width="0.55" />
<line x1="78.87" y1="143.46" x2="82" y2="143.46" stroke="#333" stroke-width="0.5" />
<line x1="76" y1="144.73" x2="76" y2="146.36" stroke="#333" stroke-width="0.55" />
<line x1="76" y1="144.73" x2="79.3" y2="144.73" stroke="#333" stroke-width="0.55" />
<line x1="79.3" y1="144.18" x2="79.3" y2="145.21" stroke="#333" stroke-width="0.55" />
<line x1="79.3" y1="144.18" x2="80.56" y2="144.18" stroke="#333" stroke-width="0.55" />
<line x1="80.56" y1="144.18" x2="82" y2="144.18" stroke="#333" stroke-width="0.5" />
<line x1="79.3" y1="145.21" x2="80.6" y2="145.21" stroke="#333" stroke-width="0.55" />
<line x1="80.6" y1="145.21" x2="82" y2="145.21" stroke="#333" stroke-width="0.5" />
<line x1="76" y1="146.36" x2="79.23" y2="146.36" stroke="#333" stroke-width="0.55" />
<line x1="79.23" y1="146.36" x2="82" y2="146.36" stroke="#333" stroke-width="0.5" />
<line x1="72" y1="147.55" x2="72" y2="149.08" stroke="#333" stroke-width="0.55" />
<line x1="72" y1="147.55" x2="74.86" y2="147.55" stroke="#333" stroke-width="0.55" />
<line x1="74.86" y1="147.55" x2="82" y2="147.55" stroke="#333" stroke-width="0.5" />
<line x1="72" y1="149.08" x2="73.93" y2="149.08" stroke="#333" stroke-width="0.55" />
<line x1="73.93" y1="148.5" x2="73.93" y2="149.42" stroke="#333" stroke-width="0.55" />
<line x1="73.93" y1="148.5" x2="75.96" y2="148.5" stroke="#333" stroke-width="0.55" />
<line x1="75.96" y1="148.5" x2="82" y2="148.5" stroke="#333" stroke-width="0.5" />
<line x1="73.93" y1="149.42" x2="77.47" y2="149.42" stroke="#333" stroke-width="0.55" />
<line x1="77.47" y1="149.42" x2="82" y2="149.42" stroke="#333" stroke-width="0.5" />
<line x1="26.5" y1="152.7" x2="26.5" y2="157" stroke="#222" stroke-width="0.75" />
<line x1="26.5" y1="152.7" x2="57.5" y2="152.7" stroke="#222" stroke-width="0.75" />
<line x1="57.5" y1="151.2" x2="57.5" y2="154.1" stroke="#222" stroke-width="0.75" />
<line x1="57.5" y1="151.2" x2="66" y2="151.2" stroke="#222" stroke-width="0.75" />
<line x1="57.5" y1="154.1" x2="70" y2="154.1" stroke="#222" stroke-width="0.75" />
<line x1="26.5" y1="157" x2="60.4" y2="157" stroke="#222" stroke-width="0.75" />
<line x1="66" y1="151.11" x2="66" y2="152.13" stroke="#333" stroke-width="0.55" />
<line x1="66" y1="151.11" x2="68.37" y2="151.11" stroke="#333" stroke-width="0.55" />
<line x1="68.37" y1="151.11" x2="82" y2="151.11" stroke="#333" stroke-width="0.5" />
<line x1="66" y1="152.13" x2="68.7" y2="152.13" stroke="#333" stroke-width="0.55" />
<line x1="68.7" y1="152.13" x2="82" y2="152.13" stroke="#333" stroke-width="0.5" />
<line x1="70" y1="153.41" x2="70" y2="154.86" stroke="#333" stroke-width="0.55" />
<line x1="70" y1="153.41" x2="72.8" y2="153.41" stroke="#333" stroke-width="0.55" />
<line x1="72.8" y1="153.01" x2="72.8" y2="153.77" stroke="#333" stroke-width="0.55" />
<line x1="72.8" y1="153.01" x2="77.19" y2="153.01" stroke="#333" stroke-width="0.55" />
<line x1="77.19" y1="153.01" x2="82" y2="153.01" stroke="#333" stroke-width="0.5" />
<line x1="72.8" y1="153.77" x2="76.44" y2="153.77" stroke="#333" stroke-width="0.55" />
<line x1="76.44" y1="153.77" x2="82" y2="153.77" stroke="#333" stroke-width="0.5" />
<line x1="70" y1="154.86" x2="71.8" y2="154.86" stroke="#333" stroke-width="0.55" />
<line x1="71.8" y1="154.46" x2="71.8" y2="155.15" stroke="#333" stroke-width="0.55" />
<line x1="71.8" y1="154.46" x2="73.46" y2="154.46" stroke="#333" stroke-width="0.55" />
<line x1="73.46" y1="154.46" x2="82" y2="154.46" stroke="#333" stroke-width="0.5" />
<line x1="71.8" y1="155.15" x2="74.08" y2="155.15" stroke="#333" stroke-width="0.55" />
<line x1="74.08" y1="155.15" x2="82" y2="155.15" stroke="#333" stroke-width="0.5" />
<line x1="60.4" y1="155.99" x2="60.4" y2="157.42" stroke="#333" stroke-width="0.55" />
<line x1="60.4" y1="155.99" x2="64.01" y2="155.99" stroke="#333" stroke-width="0.55" />
<line x1="64.01" y1="155.99" x2="82" y2="155.99" stroke="#333" stroke-width="0.5" />
<line x1="60.4" y1="157.42" x2="63.39" y2="157.42" stroke="#333" stroke-width="0.55" />
<line x1="63.39" y1="156.9" x2="63.39" y2="157.88" stroke="#333" stroke-width="0.55" />
<line x1="63.39" y1="156.9" x2="67.51" y2="156.9" stroke="#333" stroke-width="0.55" />
<line x1="67.51" y1="156.9" x2="82" y2="156.9" stroke="#333" stroke-width="0.5" />
<line x1="63.39" y1="157.88" x2="65.54" y2="157.88" stroke="#333" stroke-width="0.55" />
<line x1="65.54" y1="157.88" x2="82" y2="157.88" stroke="#333" stroke-width="0.5" />
<line x1="26.5" y1="164.5" x2="26.5" y2="174.6" stroke="#222" stroke-width="0.75" />
<line x1="26.5" y1="164.5" x2="64" y2="164.5" stroke="#222" stroke-width="0.75" />
<line x1="64" y1="163" x2="64" y2="166.4" stroke="#222" stroke-width="0.75" />
<line x1="64" y1="163" x2="72" y2="163" stroke="#222" stroke-width="0.75" />
<line x1="64" y1="166.4" x2="74" y2="166.4" stroke="#222" stroke-width="0.75" />
<line x1="26.5" y1="174.6" x2="64.7" y2="174.6" stroke="#222" stroke-width="0.75" />
<line x1="64.7" y1="173.1" x2="64.7" y2="175.6" stroke="#222" stroke-width="0.75" />
<line x1="64.7" y1="173.1" x2="72" y2="173.1" stroke="#222" stroke-width="0.75" />
<line x1="64.7" y1="175.6" x2="76" y2="175.6" stroke="#222" stroke-width="0.75" />
<line x1="72" y1="161.98" x2="72" y2="163.83" stroke="#333" stroke-width="0.55" />
<line x1="72" y1="161.98" x2="76.25" y2="161.98" stroke="#333" stroke-width="0.55" />
<line x1="76.25" y1="161.51" x2="76.25" y2="162.5" stroke="#333" stroke-width="0.55" />
<line x1="76.25" y1="161.51" x2="79.4" y2="161.51" stroke="#333" stroke-width="0.55" />
<line x1="79.4" y1="161.51" x2="82" y2="161.51" stroke="#333" stroke-width="0.5" />
<line x1="76.25" y1="162.5" x2="78.54" y2="162.5" stroke="#333" stroke-width="0.55" />
<line x1="78.54" y1="162.5" x2="82" y2="162.5" stroke="#333" stroke-width="0.5" />
<line x1="72" y1="163.83" x2="76.49" y2="163.83" stroke="#333" stroke-width="0.55" />
<line x1="76.49" y1="163.49" x2="76.49" y2="164.35" stroke="#333" stroke-width="0.55" />
<line x1="76.49" y1="163.49" x2="78.56" y2="163.49" stroke="#333" stroke-width="0.55" />
<line x1="78.56" y1="163.49" x2="82" y2="163.49" stroke="#333" stroke-width="0.5" />
<line x1="76.49" y1="164.35" x2="78.74" y2="164.35" stroke="#333" stroke-width="0.55" />
<line x1="78.74" y1="164.35" x2="82" y2="164.35" stroke="#333" stroke-width="0.5" />
<line x1="74" y1="166.05" x2="74" y2="168.58" stroke="#333" stroke-width="0.55" />
<line x1="74" y1="166.05" x2="76.82" y2="166.05" stroke="#333" stroke-width="0.55" />
<line x1="76.82" y1="165.39" x2="76.82" y2="166.75" stroke="#333" stroke-width="0.55" />
<line x1="76.82" y1="165.39" x2="78.49" y2="165.39" stroke="#333" stroke-width="0.55" />
<line x1="78.49" y1="165.07" x2="78.49" y2="165.76" stroke="#333" stroke-width="0.55" />
<line x1="78.49" y1="165.07" x2="81.95" y2="165.07" stroke="#333" stroke-width="0.55" />
<line x1="81.95" y1="165.07" x2="82" y2="165.07" stroke="#333" stroke-width="0.5" />
<line x1="78.49" y1="165.76" x2="82.17" y2="165.76" stroke="#333" stroke-width="0.55" />
<line x1="82.17" y1="165.76" x2="82" y2="165.76" stroke="#333" stroke-width="0.5" />
<line x1="76.82" y1="166.75" x2="79.39" y2="166.75" stroke="#333" stroke-width="0.55" />
<line x1="79.39" y1="166.4" x2="79.39" y2="167.06" stroke="#333" stroke-width="0.55" />
<line x1="79.39" y1="166.4" x2="82.15" y2="166.4" stroke="#333" stroke-width="0.55" />
<line x1="82.15" y1="166.4" x2="82" y2="166.4" stroke="#333" stroke-width="0.5" />
<line x1="79.39" y1="167.06" x2="82.26" y2="167.06" stroke="#333" stroke-width="0.55" />
<line x1="82.26" y1="167.06" x2="82" y2="167.06" stroke="#333" stroke-width="0.5" />
<line x1="74" y1="168.58" x2="76.66" y2="168.58" stroke="#333" stroke-width="0.55" />
<line x1="76.66" y1="167.77" x2="76.66" y2="168.94" stroke="#333" stroke-width="0.55" />
<line x1="76.66" y1="167.77" x2="78.58" y2="167.77" stroke="#333" stroke-width="0.55" />
<line x1="78.58" y1="167.77" x2="82" y2="167.77" stroke="#333" stroke-width="0.5" />
<line x1="76.66" y1="168.94" x2="81.12" y2="168.94" stroke="#333" stroke-width="0.55" />
<line x1="81.12" y1="168.94" x2="82" y2="168.94" stroke="#333" stroke-width="0.5" />
<line x1="72" y1="171.2" x2="72" y2="173.5" stroke="#333" stroke-width="0.55" />
<line x1="72" y1="171.2" x2="74.64" y2="171.2" stroke="#333" stroke-width="0.55" />
<line x1="74.64" y1="170.62" x2="74.64" y2="172.07" stroke="#333" stroke-width="0.55" />
<line x1="74.64" y1="170.62" x2="76.38" y2="170.62" stroke="#333" stroke-width="0.55" />
<line x1="76.38" y1="170.1" x2="76.38" y2="170.98" stroke="#333" stroke-width="0.55" />
<line x1="76.38" y1="170.1" x2="79.19" y2="170.1" stroke="#333" stroke-width="0.55" />
<line x1="79.19" y1="170.1" x2="82" y2="170.1" stroke="#333" stroke-width="0.5" />
<line x1="76.38" y1="170.98" x2="79.82" y2="170.98" stroke="#333" stroke-width="0.55" />
<line x1="79.82" y1="170.98" x2="82" y2="170.98" stroke="#333" stroke-width="0.5" />
<line x1="74.64" y1="172.07" x2="75.73" y2="172.07" stroke="#333" stroke-width="0.55" />
<line x1="75.73" y1="172.07" x2="82" y2="172.07" stroke="#333" stroke-width="0.5" />
<line x1="72" y1="173.5" x2="74.65" y2="173.5" stroke="#333" stroke-width="0.55" />
<line x1="74.65" y1="173.21" x2="74.65" y2="174.06" stroke="#333" stroke-width="0.55" />
<line x1="74.65" y1="173.21" x2="77.79" y2="173.21" stroke="#333" stroke-width="0.55" />
<line x1="77.79" y1="173.21" x2="82" y2="173.21" stroke="#333" stroke-width="0.5" />
<line x1="74.65" y1="174.06" x2="79.13" y2="174.06" stroke="#333" stroke-width="0.55" />
<line x1="79.13" y1="174.06" x2="82" y2="174.06" stroke="#333" stroke-width="0.5" />
<line x1="76" y1="174.77" x2="76" y2="175.99" stroke="#333" stroke-width="0.55" />
<line x1="76" y1="174.77" x2="80.18" y2="174.77" stroke="#333" stroke-width="0.55" />
<line x1="80.18" y1="174.77" x2="82" y2="174.77" stroke="#333" stroke-width="0.5" />
<line x1="76" y1="175.99" x2="79.93" y2="175.99" stroke="#333" stroke-width="0.55" />
<line x1="79.93" y1="175.99" x2="82" y2="175.99" stroke="#333" stroke-width="0.5" />
<line x1="26.5" y1="195.2" x2="26.5" y2="204.4" stroke="#222" stroke-width="0.75" />
<line x1="26.5" y1="195.2" x2="51.7" y2="195.2" stroke="#222" stroke-width="0.75" />
<line x1="51.7" y1="191.5" x2="51.7" y2="198.1" stroke="#222" stroke-width="0.75" />
<line x1="51.7" y1="191.5" x2="62.5" y2="191.5" stroke="#222" stroke-width="0.75" />
<line x1="62.5" y1="187.6" x2="62.5" y2="194.8" stroke="#222" stroke-width="0.75" />
<line x1="62.5" y1="187.6" x2="66.4" y2="187.6" stroke="#222" stroke-width="0.75" />
<line x1="66.4" y1="184" x2="66.4" y2="191.2" stroke="#222" stroke-width="0.75" />
<line x1="66.4" y1="184" x2="74.8" y2="184" stroke="#222" stroke-width="0.75" />
<line x1="74.8" y1="181.8" x2="74.8" y2="186.8" stroke="#222" stroke-width="0.75" />
<line x1="74.8" y1="181.8" x2="78" y2="181.8" stroke="#222" stroke-width="0.75" />
<line x1="74.8" y1="186.8" x2="80" y2="186.8" stroke="#222" stroke-width="0.75" />
<line x1="66.4" y1="191.2" x2="76" y2="191.2" stroke="#222" stroke-width="0.75" />
<line x1="62.5" y1="194.8" x2="74" y2="194.8" stroke="#222" stroke-width="0.75" />
<line x1="51.7" y1="198.1" x2="75.5" y2="198.1" stroke="#222" stroke-width="0.75" />
<line x1="75.5" y1="196.5" x2="75.5" y2="200" stroke="#222" stroke-width="0.75" />
<line x1="75.5" y1="196.5" x2="78" y2="196.5" stroke="#222" stroke-width="0.75" />
<line x1="75.5" y1="200" x2="80" y2="200" stroke="#222" stroke-width="0.75" />
<line x1="26.5" y1="204.4" x2="74.1" y2="204.4" stroke="#222" stroke-width="0.75" />
<line x1="74.1" y1="202.7" x2="74.1" y2="205.6" stroke="#222" stroke-width="0.75" />
<line x1="74.1" y1="202.7" x2="78" y2="202.7" stroke="#222" stroke-width="0.75" />
<line x1="74.1" y1="205.6" x2="80" y2="205.6" stroke="#222" stroke-width="0.75" />
<line x1="78" y1="179.32" x2="78" y2="182.27" stroke="#333" stroke-width="0.55" />
<line x1="78" y1="179.32" x2="80.88" y2="179.32" stroke="#333" stroke-width="0.55" />
<line x1="80.88" y1="179.32" x2="82" y2="179.32" stroke="#333" stroke-width="0.5" />
<line x1="78" y1="182.27" x2="81.66" y2="182.27" stroke="#333" stroke-width="0.55" />
<line x1="81.66" y1="182.27" x2="82" y2="182.27" stroke="#333" stroke-width="0.5" />
<line x1="80" y1="186.65" x2="82" y2="186.65" stroke="#333" stroke-width="0.5" />
<line x1="76" y1="189.78" x2="76" y2="191.78" stroke="#333" stroke-width="0.55" />
<line x1="76" y1="189.78" x2="79.27" y2="189.78" stroke="#333" stroke-width="0.55" />
<line x1="79.27" y1="189.5" x2="79.27" y2="190.28" stroke="#333" stroke-width="0.55" />
<line x1="79.27" y1="189.5" x2="83.05" y2="189.5" stroke="#333" stroke-width="0.55" />
<line x1="83.05" y1="189.5" x2="82" y2="189.5" stroke="#333" stroke-width="0.5" />
<line x1="79.27" y1="190.28" x2="81.77" y2="190.28" stroke="#333" stroke-width="0.55" />
<line x1="81.77" y1="190.28" x2="82" y2="190.28" stroke="#333" stroke-width="0.5" />
<line x1="76" y1="191.78" x2="77.2" y2="191.78" stroke="#333" stroke-width="0.55" />
<line x1="77.2" y1="191.19" x2="77.2" y2="192.41" stroke="#333" stroke-width="0.55" />
<line x1="77.2" y1="191.19" x2="78.86" y2="191.19" stroke="#333" stroke-width="0.55" />
<line x1="78.86" y1="191.19" x2="82" y2="191.19" stroke="#333" stroke-width="0.5" />
<line x1="77.2" y1="192.41" x2="80.09" y2="192.41" stroke="#333" stroke-width="0.55" />
<line x1="80.09" y1="192.41" x2="82" y2="192.41" stroke="#333" stroke-width="0.5" />
<line x1="74" y1="193.54" x2="74" y2="194.87" stroke="#333" stroke-width="0.55" />
<line x1="74" y1="193.54" x2="76.22" y2="193.54" stroke="#333" stroke-width="0.55" />
<line x1="76.22" y1="193.54" x2="82" y2="193.54" stroke="#333" stroke-width="0.5" />
<line x1="74" y1="194.87" x2="76.9" y2="194.87" stroke="#333" stroke-width="0.55" />
<line x1="76.9" y1="194.57" x2="76.9" y2="195.36" stroke="#333" stroke-width="0.55" />
<line x1="76.9" y1="194.57" x2="81.32" y2="194.57" stroke="#333" stroke-width="0.55" />
<line x1="81.32" y1="194.57" x2="82" y2="194.57" stroke="#333" stroke-width="0.5" />
<line x1="76.9" y1="195.36" x2="79.32" y2="195.36" stroke="#333" stroke-width="0.55" />
<line x1="79.32" y1="195.36" x2="82" y2="195.36" stroke="#333" stroke-width="0.5" />
<line x1="78" y1="196.04" x2="78" y2="197.34" stroke="#333" stroke-width="0.55" />
<line x1="78" y1="196.04" x2="81.63" y2="196.04" stroke="#333" stroke-width="0.55" />
<line x1="81.63" y1="196.04" x2="82" y2="196.04" stroke="#333" stroke-width="0.5" />
<line x1="78" y1="197.34" x2="80.19" y2="197.34" stroke="#333" stroke-width="0.55" />
<line x1="80.19" y1="197.34" x2="82" y2="197.34" stroke="#333" stroke-width="0.5" />
<line x1="80" y1="199.8" x2="82" y2="199.8" stroke="#333" stroke-width="0.5" />
<line x1="78" y1="202.19" x2="78" y2="203.59" stroke="#333" stroke-width="0.55" />
<line x1="78" y1="202.19" x2="81.91" y2="202.19" stroke="#333" stroke-width="0.55" />
<line x1="81.91" y1="202.19" x2="82" y2="202.19" stroke="#333" stroke-width="0.5" />
<line x1="78" y1="203.59" x2="79.12" y2="203.59" stroke="#333" stroke-width="0.55" />
<line x1="79.12" y1="203.59" x2="82" y2="203.59" stroke="#333" stroke-width="0.5" />
<line x1="80" y1="205.38" x2="82" y2="205.38" stroke="#333" stroke-width="0.5" />
<line x1="26.5" y1="212.1" x2="26.5" y2="217.1" stroke="#222" stroke-width="0.75" />
<line x1="26.5" y1="212.1" x2="53.5" y2="212.1" stroke="#222" stroke-width="0.75" />
<line x1="53.5" y1="209.2" x2="53.5" y2="213.5" stroke="#222" stroke-width="0.75" />
<line x1="53.5" y1="209.2" x2="66" y2="209.2" stroke="#222" stroke-width="0.75" />
<line x1="53.5" y1="213.5" x2="70" y2="213.5" stroke="#222" stroke-width="0.75" />
<line x1="26.5" y1="217.1" x2="67.6" y2="217.1" stroke="#222" stroke-width="0.75" />
<line x1="66" y1="208.43" x2="66" y2="210.5" stroke="#333" stroke-width="0.55" />
<line x1="66" y1="208.43" x2="68" y2="208.43" stroke="#333" stroke-width="0.55" />
<line x1="68" y1="207.73" x2="68" y2="208.96" stroke="#333" stroke-width="0.55" />
<line x1="68" y1="207.73" x2="70.17" y2="207.73" stroke="#333" stroke-width="0.55" />
<line x1="70.17" y1="207.73" x2="82" y2="207.73" stroke="#333" stroke-width="0.5" />
<line x1="68" y1="208.96" x2="70.88" y2="208.96" stroke="#333" stroke-width="0.55" />
<line x1="70.88" y1="208.53" x2="70.88" y2="209.23" stroke="#333" stroke-width="0.55" />
<line x1="70.88" y1="208.53" x2="73.61" y2="208.53" stroke="#333" stroke-width="0.55" />
<line x1="73.61" y1="208.53" x2="82" y2="208.53" stroke="#333" stroke-width="0.5" />
<line x1="70.88" y1="209.23" x2="72.87" y2="209.23" stroke="#333" stroke-width="0.55" />
<line x1="72.87" y1="209.23" x2="82" y2="209.23" stroke="#333" stroke-width="0.5" />
<line x1="66" y1="210.5" x2="67.44" y2="210.5" stroke="#333" stroke-width="0.55" />
<line x1="67.44" y1="210" x2="67.44" y2="210.84" stroke="#333" stroke-width="0.55" />
<line x1="67.44" y1="210" x2="70.82" y2="210" stroke="#333" stroke-width="0.55" />
<line x1="70.82" y1="210" x2="82" y2="210" stroke="#333" stroke-width="0.5" />
<line x1="67.44" y1="210.84" x2="69.52" y2="210.84" stroke="#333" stroke-width="0.55" />
<line x1="69.52" y1="210.84" x2="82" y2="210.84" stroke="#333" stroke-width="0.5" />
<line x1="70" y1="212.1" x2="70" y2="214.08" stroke="#333" stroke-width="0.55" />
<line x1="70" y1="212.1" x2="72.28" y2="212.1" stroke="#333" stroke-width="0.55" />
<line x1="72.28" y1="211.64" x2="72.28" y2="212.39" stroke="#333" stroke-width="0.55" />
<line x1="72.28" y1="211.64" x2="76.73" y2="211.64" stroke="#333" stroke-width="0.55" />
<line x1="76.73" y1="211.64" x2="82" y2="211.64" stroke="#333" stroke-width="0.5" />
<line x1="72.28" y1="212.39" x2="76.03" y2="212.39" stroke="#333" stroke-width="0.55" />
<line x1="76.03" y1="212.39" x2="82" y2="212.39" stroke="#333" stroke-width="0.5" />
<line x1="70" y1="214.08" x2="71.53" y2="214.08" stroke="#333" stroke-width="0.55" />
<line x1="71.53" y1="213.36" x2="71.53" y2="214.59" stroke="#333" stroke-width="0.55" />
<line x1="71.53" y1="213.36" x2="74.06" y2="213.36" stroke="#333" stroke-width="0.55" />
<line x1="74.06" y1="213.36" x2="82" y2="213.36" stroke="#333" stroke-width="0.5" />
<line x1="71.53" y1="214.59" x2="74.38" y2="214.59" stroke="#333" stroke-width="0.55" />
<line x1="74.38" y1="214.2" x2="74.38" y2="214.91" stroke="#333" stroke-width="0.55" />
<line x1="74.38" y1="214.2" x2="77.21" y2="214.2" stroke="#333" stroke-width="0.55" />
<line x1="77.21" y1="214.2" x2="82" y2="214.2" stroke="#333" stroke-width="0.5" />
<line x1="74.38" y1="214.91" x2="78.04" y2="214.91" stroke="#333" stroke-width="0.55" />
<line x1="78.04" y1="214.91" x2="82" y2="214.91" stroke="#333" stroke-width="0.5" />
<line x1="67.6" y1="215.93" x2="67.6" y2="217.68" stroke="#333" stroke-width="0.55" />
<line x1="67.6" y1="215.93" x2="70.56" y2="215.93" stroke="#333" stroke-width="0.55" />
<line x1="70.56" y1="215.93" x2="82" y2="215.93" stroke="#333" stroke-width="0.5" />
<line x1="67.6" y1="217.68" x2="69.18" y2="217.68" stroke="#333" stroke-width="0.55" />
<line x1="69.18" y1="217.14" x2="69.18" y2="218.26" stroke="#333" stroke-width="0.55" />
<line x1="69.18" y1="217.14" x2="71.29" y2="217.14" stroke="#333" stroke-width="0.55" />
<line x1="71.29" y1="217.14" x2="82" y2="217.14" stroke="#333" stroke-width="0.5" />
<line x1="69.18" y1="218.26" x2="72.99" y2="218.26" stroke="#333" stroke-width="0.55" />
<line x1="72.99" y1="218.26" x2="82" y2="218.26" stroke="#333" stroke-width="0.5" />
<line x1="26.5" y1="231.6" x2="26.5" y2="257.1" stroke="#222" stroke-width="0.75" />
<line x1="26.5" y1="231.6" x2="49.6" y2="231.6" stroke="#222" stroke-width="0.75" />
<line x1="49.6" y1="226.3" x2="49.6" y2="237.4" stroke="#222" stroke-width="0.75" />
<line x1="49.6" y1="226.3" x2="69.8" y2="226.3" stroke="#222" stroke-width="0.75" />
<line x1="69.8" y1="223.4" x2="69.8" y2="229.4" stroke="#222" stroke-width="0.75" />
<line x1="69.8" y1="223.4" x2="74" y2="223.4" stroke="#222" stroke-width="0.75" />
<line x1="69.8" y1="229.4" x2="76" y2="229.4" stroke="#222" stroke-width="0.75" />
<line x1="49.6" y1="237.4" x2="77.7" y2="237.4" stroke="#222" stroke-width="0.75" />
<line x1="77.7" y1="232.3" x2="77.7" y2="242.4" stroke="#222" stroke-width="0.75" />
<line x1="77.7" y1="232.3" x2="80" y2="232.3" stroke="#222" stroke-width="0.75" />
<line x1="77.7" y1="242.4" x2="80" y2="242.4" stroke="#222" stroke-width="0.75" />
<line x1="26.5" y1="257.1" x2="53.5" y2="257.1" stroke="#222" stroke-width="0.75" />
<line x1="53.5" y1="253.7" x2="53.5" y2="259" stroke="#222" stroke-width="0.75" />
<line x1="53.5" y1="253.7" x2="66.9" y2="253.7" stroke="#222" stroke-width="0.75" />
<line x1="66.9" y1="250.3" x2="66.9" y2="252.8" stroke="#222" stroke-width="0.75" />
<line x1="66.9" y1="250.3" x2="72" y2="250.3" stroke="#222" stroke-width="0.75" />
<line x1="66.9" y1="252.8" x2="74" y2="252.8" stroke="#222" stroke-width="0.75" />
<line x1="53.5" y1="259" x2="70" y2="259" stroke="#222" stroke-width="0.75" />
<line x1="74" y1="222.9" x2="74" y2="225.5" stroke="#333" stroke-width="0.55" />
<line x1="74" y1="222.9" x2="78.35" y2="222.9" stroke="#333" stroke-width="0.55" />
<line x1="78.35" y1="221.99" x2="78.35" y2="223.68" stroke="#333" stroke-width="0.55" />
<line x1="78.35" y1="221.99" x2="81.51" y2="221.99" stroke="#333" stroke-width="0.55" />
<line x1="81.51" y1="221.99" x2="82" y2="221.99" stroke="#333" stroke-width="0.5" />
<line x1="78.35" y1="223.68" x2="79.94" y2="223.68" stroke="#333" stroke-width="0.55" />
<line x1="79.94" y1="223.68" x2="82" y2="223.68" stroke="#333" stroke-width="0.5" />
<line x1="74" y1="225.5" x2="77.49" y2="225.5" stroke="#333" stroke-width="0.55" />
<line x1="77.49" y1="225.14" x2="77.49" y2="226.05" stroke="#333" stroke-width="0.55" />
<line x1="77.49" y1="225.14" x2="79.99" y2="225.14" stroke="#333" stroke-width="0.55" />
<line x1="79.99" y1="225.14" x2="82" y2="225.14" stroke="#333" stroke-width="0.5" />
<line x1="77.49" y1="226.05" x2="79.62" y2="226.05" stroke="#333" stroke-width="0.55" />
<line x1="79.62" y1="226.05" x2="82" y2="226.05" stroke="#333" stroke-width="0.5" />
<line x1="76" y1="227.74" x2="76" y2="229.97" stroke="#333" stroke-width="0.55" />
<line x1="76" y1="227.74" x2="79.63" y2="227.74" stroke="#333" stroke-width="0.55" />
<line x1="79.63" y1="227.74" x2="82" y2="227.74" stroke="#333" stroke-width="0.5" />
<line x1="76" y1="229.97" x2="79.8" y2="229.97" stroke="#333" stroke-width="0.55" />
<line x1="79.8" y1="229.97" x2="82" y2="229.97" stroke="#333" stroke-width="0.5" />
<line x1="80" y1="234.1" x2="82" y2="234.1" stroke="#333" stroke-width="0.5" />
<line x1="80" y1="241.85" x2="82" y2="241.85" stroke="#333" stroke-width="0.5" />
<line x1="72" y1="247.43" x2="72" y2="250.03" stroke="#333" stroke-width="0.55" />
<line x1="72" y1="247.43" x2="73.85" y2="247.43" stroke="#333" stroke-width="0.55" />
<line x1="73.85" y1="246.78" x2="73.85" y2="247.86" stroke="#333" stroke-width="0.55" />
<line x1="73.85" y1="246.78" x2="75.52" y2="246.78" stroke="#333" stroke-width="0.55" />
<line x1="75.52" y1="246.78" x2="82" y2="246.78" stroke="#333" stroke-width="0.5" />
<line x1="73.85" y1="247.86" x2="74.87" y2="247.86" stroke="#333" stroke-width="0.55" />
<line x1="74.87" y1="247.86" x2="82" y2="247.86" stroke="#333" stroke-width="0.5" />
<line x1="72" y1="250.03" x2="73.43" y2="250.03" stroke="#333" stroke-width="0.55" />
<line x1="73.43" y1="249.27" x2="73.43" y2="250.79" stroke="#333" stroke-width="0.55" />
<line x1="73.43" y1="249.27" x2="75.94" y2="249.27" stroke="#333" stroke-width="0.55" />
<line x1="75.94" y1="249.01" x2="75.94" y2="249.76" stroke="#333" stroke-width="0.55" />
<line x1="75.94" y1="249.01" x2="78.26" y2="249.01" stroke="#333" stroke-width="0.55" />
<line x1="78.26" y1="249.01" x2="82" y2="249.01" stroke="#333" stroke-width="0.5" />
<line x1="75.94" y1="249.76" x2="77.53" y2="249.76" stroke="#333" stroke-width="0.55" />
<line x1="77.53" y1="249.76" x2="82" y2="249.76" stroke="#333" stroke-width="0.5" />
<line x1="73.43" y1="250.79" x2="77.69" y2="250.79" stroke="#333" stroke-width="0.55" />
<line x1="77.69" y1="250.27" x2="77.69" y2="251.04" stroke="#333" stroke-width="0.55" />
<line x1="77.69" y1="250.27" x2="79.88" y2="250.27" stroke="#333" stroke-width="0.55" />
<line x1="79.88" y1="250.27" x2="82" y2="250.27" stroke="#333" stroke-width="0.5" />
<line x1="77.69" y1="251.04" x2="81.36" y2="251.04" stroke="#333" stroke-width="0.55" />
<line x1="81.36" y1="251.04" x2="82" y2="251.04" stroke="#333" stroke-width="0.5" />
<line x1="74" y1="252.48" x2="74" y2="254.66" stroke="#333" stroke-width="0.55" />
<line x1="74" y1="252.48" x2="78.37" y2="252.48" stroke="#333" stroke-width="0.55" />
<line x1="78.37" y1="252.11" x2="78.37" y2="253.04" stroke="#333" stroke-width="0.55" />
<line x1="78.37" y1="252.11" x2="80.45" y2="252.11" stroke="#333" stroke-width="0.55" />
<line x1="80.45" y1="252.11" x2="82" y2="252.11" stroke="#333" stroke-width="0.5" />
<line x1="78.37" y1="253.04" x2="82.4" y2="253.04" stroke="#333" stroke-width="0.55" />
<line x1="82.4" y1="253.04" x2="82" y2="253.04" stroke="#333" stroke-width="0.5" />
<line x1="74" y1="254.66" x2="78.23" y2="254.66" stroke="#333" stroke-width="0.55" />
<line x1="78.23" y1="254.04" x2="78.23" y2="255.29" stroke="#333" stroke-width="0.55" />
<line x1="78.23" y1="254.04" x2="79.73" y2="254.04" stroke="#333" stroke-width="0.55" />
<line x1="79.73" y1="254.04" x2="82" y2="254.04" stroke="#333" stroke-width="0.5" />
<line x1="78.23" y1="255.29" x2="79.59" y2="255.29" stroke="#333" stroke-width="0.55" />
<line x1="79.59" y1="255.29" x2="82" y2="255.29" stroke="#333" stroke-width="0.5" />
<line x1="70" y1="257.12" x2="70" y2="259.07" stroke="#333" stroke-width="0.55" />
<line x1="70" y1="257.12" x2="74.11" y2="257.12" stroke="#333" stroke-width="0.55" />
<line x1="74.11" y1="256.59" x2="74.11" y2="257.81" stroke="#333" stroke-width="0.55" />
<line x1="74.11" y1="256.59" x2="77.82" y2="256.59" stroke="#333" stroke-width="0.55" />
<line x1="77.82" y1="256.32" x2="77.82" y2="257.01" stroke="#333" stroke-width="0.55" />
<line x1="77.82" y1="256.32" x2="79.65" y2="256.32" stroke="#333" stroke-width="0.55" />
<line x1="79.65" y1="256.32" x2="82" y2="256.32" stroke="#333" stroke-width="0.5" />
<line x1="77.82" y1="257.01" x2="79.56" y2="257.01" stroke="#333" stroke-width="0.55" />
<line x1="79.56" y1="257.01" x2="82" y2="257.01" stroke="#333" stroke-width="0.5" />
<line x1="74.11" y1="257.81" x2="78.14" y2="257.81" stroke="#333" stroke-width="0.55" />
<line x1="78.14" y1="257.81" x2="82" y2="257.81" stroke="#333" stroke-width="0.5" />
<line x1="70" y1="259.07" x2="73.94" y2="259.07" stroke="#333" stroke-width="0.55" />
<line x1="73.94" y1="258.69" x2="73.94" y2="259.42" stroke="#333" stroke-width="0.55" />
<line x1="73.94" y1="258.69" x2="75.88" y2="258.69" stroke="#333" stroke-width="0.55" />
<line x1="75.88" y1="258.69" x2="82" y2="258.69" stroke="#333" stroke-width="0.5" />
<line x1="73.94" y1="259.42" x2="75.21" y2="259.42" stroke="#333" stroke-width="0.55" />
<line x1="75.21" y1="259.42" x2="82" y2="259.42" stroke="#333" stroke-width="0.5" />
<line x1="26.5" y1="268.1" x2="26.5" y2="281.3" stroke="#222" stroke-width="0.75" />
<line x1="26.5" y1="268.1" x2="44.5" y2="268.1" stroke="#222" stroke-width="0.75" />
<line x1="44.5" y1="264.8" x2="44.5" y2="270.1" stroke="#222" stroke-width="0.75" />
<line x1="44.5" y1="264.8" x2="61.8" y2="264.8" stroke="#222" stroke-width="0.75" />
<line x1="44.5" y1="270.1" x2="61.8" y2="270.1" stroke="#222" stroke-width="0.75" />
<line x1="61.8" y1="267.6" x2="61.8" y2="274.1" stroke="#222" stroke-width="0.75" />
<line x1="61.8" y1="267.6" x2="72" y2="267.6" stroke="#222" stroke-width="0.75" />
<line x1="61.8" y1="274.1" x2="75" y2="274.1" stroke="#222" stroke-width="0.75" />
<line x1="26.5" y1="281.3" x2="63.3" y2="281.3" stroke="#222" stroke-width="0.75" />
<line x1="63.3" y1="279.2" x2="63.3" y2="282.8" stroke="#222" stroke-width="0.75" />
<line x1="63.3" y1="279.2" x2="72" y2="279.2" stroke="#222" stroke-width="0.75" />
<line x1="63.3" y1="282.8" x2="76" y2="282.8" stroke="#222" stroke-width="0.75" />
<line x1="61.8" y1="263.59" x2="61.8" y2="265.29" stroke="#333" stroke-width="0.55" />
<line x1="61.8" y1="263.59" x2="65.98" y2="263.59" stroke="#333" stroke-width="0.55" />
<line x1="65.98" y1="263.1" x2="65.98" y2="263.88" stroke="#333" stroke-width="0.55" />
<line x1="65.98" y1="263.1" x2="68.09" y2="263.1" stroke="#333" stroke-width="0.55" />
<line x1="68.09" y1="263.1" x2="82" y2="263.1" stroke="#333" stroke-width="0.5" />
<line x1="65.98" y1="263.88" x2="67.1" y2="263.88" stroke="#333" stroke-width="0.55" />
<line x1="67.1" y1="263.88" x2="82" y2="263.88" stroke="#333" stroke-width="0.5" />
<line x1="61.8" y1="265.29" x2="64.79" y2="265.29" stroke="#333" stroke-width="0.55" />
<line x1="64.79" y1="264.67" x2="64.79" y2="265.58" stroke="#333" stroke-width="0.55" />
<line x1="64.79" y1="264.67" x2="68.15" y2="264.67" stroke="#333" stroke-width="0.55" />
<line x1="68.15" y1="264.67" x2="82" y2="264.67" stroke="#333" stroke-width="0.5" />
<line x1="64.79" y1="265.58" x2="67.51" y2="265.58" stroke="#333" stroke-width="0.55" />
<line x1="67.51" y1="265.58" x2="82" y2="265.58" stroke="#333" stroke-width="0.5" />
<line x1="72" y1="267.29" x2="72" y2="269.62" stroke="#333" stroke-width="0.55" />
<line x1="72" y1="267.29" x2="73.91" y2="267.29" stroke="#333" stroke-width="0.55" />
<line x1="73.91" y1="266.66" x2="73.91" y2="267.75" stroke="#333" stroke-width="0.55" />
<line x1="73.91" y1="266.66" x2="78.03" y2="266.66" stroke="#333" stroke-width="0.55" />
<line x1="78.03" y1="266.66" x2="82" y2="266.66" stroke="#333" stroke-width="0.5" />
<line x1="73.91" y1="267.75" x2="78.2" y2="267.75" stroke="#333" stroke-width="0.55" />
<line x1="78.2" y1="267.75" x2="82" y2="267.75" stroke="#333" stroke-width="0.5" />
<line x1="72" y1="269.62" x2="75.63" y2="269.62" stroke="#333" stroke-width="0.55" />
<line x1="75.63" y1="268.86" x2="75.63" y2="270.09" stroke="#333" stroke-width="0.55" />
<line x1="75.63" y1="268.86" x2="77.36" y2="268.86" stroke="#333" stroke-width="0.55" />
<line x1="77.36" y1="268.86" x2="82" y2="268.86" stroke="#333" stroke-width="0.5" />
<line x1="75.63" y1="270.09" x2="77.9" y2="270.09" stroke="#333" stroke-width="0.55" />
<line x1="77.9" y1="269.83" x2="77.9" y2="270.58" stroke="#333" stroke-width="0.55" />
<line x1="77.9" y1="269.83" x2="82.2" y2="269.83" stroke="#333" stroke-width="0.55" />
<line x1="82.2" y1="269.83" x2="82" y2="269.83" stroke="#333" stroke-width="0.5" />
<line x1="77.9" y1="270.58" x2="79.71" y2="270.58" stroke="#333" stroke-width="0.55" />
<line x1="79.71" y1="270.58" x2="82" y2="270.58" stroke="#333" stroke-width="0.5" />
<line x1="75" y1="272.45" x2="75" y2="275.35" stroke="#333" stroke-width="0.55" />
<line x1="75" y1="272.45" x2="77.33" y2="272.45" stroke="#333" stroke-width="0.55" />
<line x1="77.33" y1="271.62" x2="77.33" y2="273.23" stroke="#333" stroke-width="0.55" />
<line x1="77.33" y1="271.62" x2="79.02" y2="271.62" stroke="#333" stroke-width="0.55" />
<line x1="79.02" y1="271.31" x2="79.02" y2="272.08" stroke="#333" stroke-width="0.55" />
<line x1="79.02" y1="271.31" x2="82.76" y2="271.31" stroke="#333" stroke-width="0.55" />
<line x1="82.76" y1="271.31" x2="82" y2="271.31" stroke="#333" stroke-width="0.5" />
<line x1="79.02" y1="272.08" x2="83.31" y2="272.08" stroke="#333" stroke-width="0.55" />
<line x1="83.31" y1="272.08" x2="82" y2="272.08" stroke="#333" stroke-width="0.5" />
<line x1="77.33" y1="273.23" x2="80.02" y2="273.23" stroke="#333" stroke-width="0.55" />
<line x1="80.02" y1="273.23" x2="82" y2="273.23" stroke="#333" stroke-width="0.5" />
<line x1="75" y1="275.35" x2="77.55" y2="275.35" stroke="#333" stroke-width="0.55" />
<line x1="77.55" y1="274.78" x2="77.55" y2="276.08" stroke="#333" stroke-width="0.55" />
<line x1="77.55" y1="274.78" x2="79.01" y2="274.78" stroke="#333" stroke-width="0.55" />
<line x1="79.01" y1="274.53" x2="79.01" y2="275.25" stroke="#333" stroke-width="0.55" />
<line x1="79.01" y1="274.53" x2="82.69" y2="274.53" stroke="#333" stroke-width="0.55" />
<line x1="82.69" y1="274.53" x2="82" y2="274.53" stroke="#333" stroke-width="0.5" />
<line x1="79.01" y1="275.25" x2="80.8" y2="275.25" stroke="#333" stroke-width="0.55" />
<line x1="80.8" y1="275.25" x2="82" y2="275.25" stroke="#333" stroke-width="0.5" />
<line x1="77.55" y1="276.08" x2="79.95" y2="276.08" stroke="#333" stroke-width="0.55" />
<line x1="79.95" y1="276.08" x2="82" y2="276.08" stroke="#333" stroke-width="0.5" />
<line x1="72" y1="277.73" x2="72" y2="279.9" stroke="#333" stroke-width="0.55" />
<line x1="72" y1="277.73" x2="75.98" y2="277.73" stroke="#333" stroke-width="0.55" />
<line x1="75.98" y1="277.27" x2="75.98" y2="278.35" stroke="#333" stroke-width="0.55" />
<line x1="75.98" y1="277.27" x2="77.82" y2="277.27" stroke="#333" stroke-width="0.55" />
<line x1="77.82" y1="277.27" x2="82" y2="277.27" stroke="#333" stroke-width="0.5" />
<line x1="75.98" y1="278.35" x2="80.31" y2="278.35" stroke="#333" stroke-width="0.55" />
<line x1="80.31" y1="278.35" x2="82" y2="278.35" stroke="#333" stroke-width="0.5" />
<line x1="72" y1="279.9" x2="76.25" y2="279.9" stroke="#333" stroke-width="0.55" />
<line x1="76.25" y1="279.51" x2="76.25" y2="280.61" stroke="#333" stroke-width="0.55" />
<line x1="76.25" y1="279.51" x2="78.98" y2="279.51" stroke="#333" stroke-width="0.55" />
<line x1="78.98" y1="279.15" x2="78.98" y2="279.85" stroke="#333" stroke-width="0.55" />
<line x1="78.98" y1="279.15" x2="81.4" y2="279.15" stroke="#333" stroke-width="0.55" />
<line x1="81.4" y1="279.15" x2="82" y2="279.15" stroke="#333" stroke-width="0.5" />
<line x1="78.98" y1="279.85" x2="83.4" y2="279.85" stroke="#333" stroke-width="0.55" />
<line x1="83.4" y1="279.85" x2="82" y2="279.85" stroke="#333" stroke-width="0.5" />
<line x1="76.25" y1="280.61" x2="78.94" y2="280.61" stroke="#333" stroke-width="0.55" />
<line x1="78.94" y1="280.61" x2="82" y2="280.61" stroke="#333" stroke-width="0.5" />
<line x1="76" y1="281.89" x2="76" y2="283.19" stroke="#333" stroke-width="0.55" />
<line x1="76" y1="281.89" x2="77.64" y2="281.89" stroke="#333" stroke-width="0.55" />
<line x1="77.64" y1="281.28" x2="77.64" y2="282.17" stroke="#333" stroke-width="0.55" />
<line x1="77.64" y1="281.28" x2="80.3" y2="281.28" stroke="#333" stroke-width="0.55" />
<line x1="80.3" y1="281.28" x2="82" y2="281.28" stroke="#333" stroke-width="0.5" />
<line x1="77.64" y1="282.17" x2="79.34" y2="282.17" stroke="#333" stroke-width="0.55" />
<line x1="79.34" y1="282.17" x2="82" y2="282.17" stroke="#333" stroke-width="0.5" />
<line x1="76" y1="283.19" x2="77.9" y2="283.19" stroke="#333" stroke-width="0.55" />
<line x1="77.9" y1="283.19" x2="82" y2="283.19" stroke="#333" stroke-width="0.5" />
<line x1="26.5" y1="285" x2="26.5" y2="289.3" stroke="#222" stroke-width="0.75" />
<line x1="26.5" y1="285" x2="40.9" y2="285" stroke="#222" stroke-width="0.75" />
<line x1="40.9" y1="284.5" x2="40.9" y2="286.5" stroke="#222" stroke-width="0.75" />
<line x1="40.9" y1="284.5" x2="70" y2="284.5" stroke="#222" stroke-width="0.75" />
<line x1="40.9" y1="286.5" x2="74" y2="286.5" stroke="#222" stroke-width="0.75" />
<line x1="26.5" y1="289.3" x2="78" y2="289.3" stroke="#222" stroke-width="0.75" />
<line x1="70" y1="284.4" x2="70" y2="285.05" stroke="#333" stroke-width="0.55" />
<line x1="70" y1="284.4" x2="71.44" y2="284.4" stroke="#333" stroke-width="0.55" />
<line x1="71.44" y1="284.4" x2="82" y2="284.4" stroke="#333" stroke-width="0.5" />
<line x1="70" y1="285.05" x2="72.54" y2="285.05" stroke="#333" stroke-width="0.55" />
<line x1="72.54" y1="285.05" x2="82" y2="285.05" stroke="#333" stroke-width="0.5" />
<line x1="74" y1="285.9" x2="74" y2="287.1" stroke="#333" stroke-width="0.55" />
<line x1="74" y1="285.9" x2="76.04" y2="285.9" stroke="#333" stroke-width="0.55" />
<line x1="76.04" y1="285.9" x2="82" y2="285.9" stroke="#333" stroke-width="0.5" />
<line x1="74" y1="287.1" x2="77.14" y2="287.1" stroke="#333" stroke-width="0.55" />
<line x1="77.14" y1="286.63" x2="77.14" y2="287.42" stroke="#333" stroke-width="0.55" />
<line x1="77.14" y1="286.63" x2="79.23" y2="286.63" stroke="#333" stroke-width="0.55" />
<line x1="79.23" y1="286.63" x2="82" y2="286.63" stroke="#333" stroke-width="0.5" />
<line x1="77.14" y1="287.42" x2="79.47" y2="287.42" stroke="#333" stroke-width="0.55" />
<line x1="79.47" y1="287.42" x2="82" y2="287.42" stroke="#333" stroke-width="0.5" />
<line x1="78" y1="288.33" x2="78" y2="289.38" stroke="#333" stroke-width="0.55" />
<line x1="78" y1="288.33" x2="80.97" y2="288.33" stroke="#333" stroke-width="0.55" />
<line x1="80.97" y1="288.33" x2="82" y2="288.33" stroke="#333" stroke-width="0.5" />
<line x1="78" y1="289.38" x2="81.72" y2="289.38" stroke="#333" stroke-width="0.55" />
<line x1="81.72" y1="289.38" x2="82" y2="289.38" stroke="#333" stroke-width="0.5" />
<line x1="26.5" y1="311.3" x2="26.5" y2="333.3" stroke="#222" stroke-width="0.75" />
<line x1="26.5" y1="311.3" x2="44.5" y2="311.3" stroke="#222" stroke-width="0.75" />
<line x1="44.5" y1="301.6" x2="44.5" y2="320.3" stroke="#222" stroke-width="0.75" />
<line x1="44.5" y1="301.6" x2="67.6" y2="301.6" stroke="#222" stroke-width="0.75" />
<line x1="67.6" y1="297.3" x2="67.6" y2="305.9" stroke="#222" stroke-width="0.75" />
<line x1="67.6" y1="297.3" x2="74" y2="297.3" stroke="#222" stroke-width="0.75" />
<line x1="67.6" y1="305.9" x2="76" y2="305.9" stroke="#222" stroke-width="0.75" />
<line x1="44.5" y1="320.3" x2="68.3" y2="320.3" stroke="#222" stroke-width="0.75" />
<line x1="68.3" y1="317" x2="68.3" y2="323.7" stroke="#222" stroke-width="0.75" />
<line x1="68.3" y1="317" x2="74" y2="317" stroke="#222" stroke-width="0.75" />
<line x1="68.3" y1="323.7" x2="76" y2="323.7" stroke="#222" stroke-width="0.75" />
<line x1="26.5" y1="333.3" x2="58.9" y2="333.3" stroke="#222" stroke-width="0.75" />
<line x1="58.9" y1="331.9" x2="58.9" y2="334" stroke="#222" stroke-width="0.75" />
<line x1="58.9" y1="331.9" x2="70" y2="331.9" stroke="#222" stroke-width="0.75" />
<line x1="58.9" y1="334" x2="74" y2="334" stroke="#222" stroke-width="0.75" />
<line x1="74" y1="294.17" x2="74" y2="298.57" stroke="#333" stroke-width="0.55" />
<line x1="74" y1="294.17" x2="76.88" y2="294.17" stroke="#333" stroke-width="0.55" />
<line x1="76.88" y1="293.51" x2="76.88" y2="294.88" stroke="#333" stroke-width="0.55" />
<line x1="76.88" y1="293.51" x2="81.09" y2="293.51" stroke="#333" stroke-width="0.55" />
<line x1="81.09" y1="293.51" x2="82" y2="293.51" stroke="#333" stroke-width="0.5" />
<line x1="76.88" y1="294.88" x2="80.34" y2="294.88" stroke="#333" stroke-width="0.55" />
<line x1="80.34" y1="294.88" x2="82" y2="294.88" stroke="#333" stroke-width="0.5" />
<line x1="74" y1="298.57" x2="75.96" y2="298.57" stroke="#333" stroke-width="0.55" />
<line x1="75.96" y1="297.2" x2="75.96" y2="300.23" stroke="#333" stroke-width="0.55" />
<line x1="75.96" y1="297.2" x2="80.11" y2="297.2" stroke="#333" stroke-width="0.55" />
<line x1="80.11" y1="297.2" x2="82" y2="297.2" stroke="#333" stroke-width="0.5" />
<line x1="75.96" y1="300.23" x2="80.29" y2="300.23" stroke="#333" stroke-width="0.55" />
<line x1="80.29" y1="300.23" x2="82" y2="300.23" stroke="#333" stroke-width="0.5" />
<line x1="76" y1="304.59" x2="76" y2="309.51" stroke="#333" stroke-width="0.55" />
<line x1="76" y1="304.59" x2="77.38" y2="304.59" stroke="#333" stroke-width="0.55" />
<line x1="77.38" y1="302.94" x2="77.38" y2="305.93" stroke="#333" stroke-width="0.55" />
<line x1="77.38" y1="302.94" x2="80.05" y2="302.94" stroke="#333" stroke-width="0.55" />
<line x1="80.05" y1="302.94" x2="82" y2="302.94" stroke="#333" stroke-width="0.5" />
<line x1="77.38" y1="305.93" x2="79.53" y2="305.93" stroke="#333" stroke-width="0.55" />
<line x1="79.53" y1="305.93" x2="82" y2="305.93" stroke="#333" stroke-width="0.5" />
<line x1="76" y1="309.51" x2="79.66" y2="309.51" stroke="#333" stroke-width="0.55" />
<line x1="79.66" y1="309.51" x2="82" y2="309.51" stroke="#333" stroke-width="0.5" />
<line x1="74" y1="313.66" x2="74" y2="318.11" stroke="#333" stroke-width="0.55" />
<line x1="74" y1="313.66" x2="78.42" y2="313.66" stroke="#333" stroke-width="0.55" />
<line x1="78.42" y1="312.12" x2="78.42" y2="314.33" stroke="#333" stroke-width="0.55" />
<line x1="78.42" y1="312.12" x2="82.25" y2="312.12" stroke="#333" stroke-width="0.55" />
<line x1="82.25" y1="312.12" x2="82" y2="312.12" stroke="#333" stroke-width="0.5" />
<line x1="78.42" y1="314.33" x2="79.82" y2="314.33" stroke="#333" stroke-width="0.55" />
<line x1="79.82" y1="314.33" x2="82" y2="314.33" stroke="#333" stroke-width="0.5" />
<line x1="74" y1="318.11" x2="76.82" y2="318.11" stroke="#333" stroke-width="0.55" />
<line x1="76.82" y1="316.68" x2="76.82" y2="318.92" stroke="#333" stroke-width="0.55" />
<line x1="76.82" y1="316.68" x2="79.15" y2="316.68" stroke="#333" stroke-width="0.55" />
<line x1="79.15" y1="316.31" x2="79.15" y2="317.12" stroke="#333" stroke-width="0.55" />
<line x1="79.15" y1="316.31" x2="83.51" y2="316.31" stroke="#333" stroke-width="0.55" />
<line x1="83.51" y1="316.31" x2="82" y2="316.31" stroke="#333" stroke-width="0.5" />
<line x1="79.15" y1="317.12" x2="80.3" y2="317.12" stroke="#333" stroke-width="0.55" />
<line x1="80.3" y1="317.12" x2="82" y2="317.12" stroke="#333" stroke-width="0.5" />
<line x1="76.82" y1="318.92" x2="79.19" y2="318.92" stroke="#333" stroke-width="0.55" />
<line x1="79.19" y1="317.98" x2="79.19" y2="319.41" stroke="#333" stroke-width="0.55" />
<line x1="79.19" y1="317.98" x2="82.79" y2="317.98" stroke="#333" stroke-width="0.55" />
<line x1="82.79" y1="317.98" x2="82" y2="317.98" stroke="#333" stroke-width="0.5" />
<line x1="79.19" y1="319.41" x2="80.69" y2="319.41" stroke="#333" stroke-width="0.55" />
<line x1="80.69" y1="319.41" x2="82" y2="319.41" stroke="#333" stroke-width="0.5" />
<line x1="76" y1="321.76" x2="76" y2="325.49" stroke="#333" stroke-width="0.55" />
<line x1="76" y1="321.76" x2="79.83" y2="321.76" stroke="#333" stroke-width="0.55" />
<line x1="79.83" y1="321.76" x2="82" y2="321.76" stroke="#333" stroke-width="0.5" />
<line x1="76" y1="325.49" x2="77.16" y2="325.49" stroke="#333" stroke-width="0.55" />
<line x1="77.16" y1="324.69" x2="77.16" y2="327" stroke="#333" stroke-width="0.55" />
<line x1="77.16" y1="324.69" x2="79.1" y2="324.69" stroke="#333" stroke-width="0.55" />
<line x1="79.1" y1="324.23" x2="79.1" y2="325.74" stroke="#333" stroke-width="0.55" />
<line x1="79.1" y1="324.23" x2="80.48" y2="324.23" stroke="#333" stroke-width="0.55" />
<line x1="80.48" y1="324.23" x2="82" y2="324.23" stroke="#333" stroke-width="0.5" />
<line x1="79.1" y1="325.74" x2="80.44" y2="325.74" stroke="#333" stroke-width="0.55" />
<line x1="80.44" y1="325.74" x2="82" y2="325.74" stroke="#333" stroke-width="0.5" />
<line x1="77.16" y1="327" x2="79.83" y2="327" stroke="#333" stroke-width="0.55" />
<line x1="79.83" y1="327" x2="82" y2="327" stroke="#333" stroke-width="0.5" />
<line x1="70" y1="328.89" x2="70" y2="331.47" stroke="#333" stroke-width="0.55" />
<line x1="70" y1="328.89" x2="73.25" y2="328.89" stroke="#333" stroke-width="0.55" />
<line x1="73.25" y1="328.26" x2="73.25" y2="329.35" stroke="#333" stroke-width="0.55" />
<line x1="73.25" y1="328.26" x2="75.41" y2="328.26" stroke="#333" stroke-width="0.55" />
<line x1="75.41" y1="328.26" x2="82" y2="328.26" stroke="#333" stroke-width="0.5" />
<line x1="73.25" y1="329.35" x2="74.31" y2="329.35" stroke="#333" stroke-width="0.55" />
<line x1="74.31" y1="329.35" x2="82" y2="329.35" stroke="#333" stroke-width="0.5" />
<line x1="70" y1="331.47" x2="71.31" y2="331.47" stroke="#333" stroke-width="0.55" />
<line x1="71.31" y1="330.43" x2="71.31" y2="331.91" stroke="#333" stroke-width="0.55" />
<line x1="71.31" y1="330.43" x2="73.92" y2="330.43" stroke="#333" stroke-width="0.55" />
<line x1="73.92" y1="330.43" x2="82" y2="330.43" stroke="#333" stroke-width="0.5" />
<line x1="71.31" y1="331.91" x2="75.38" y2="331.91" stroke="#333" stroke-width="0.55" />
<line x1="75.38" y1="331.41" x2="75.38" y2="332.45" stroke="#333" stroke-width="0.55" />
<line x1="75.38" y1="331.41" x2="77.51" y2="331.41" stroke="#333" stroke-width="0.55" />
<line x1="77.51" y1="331.41" x2="82" y2="331.41" stroke="#333" stroke-width="0.5" />
<line x1="75.38" y1="332.45" x2="77.98" y2="332.45" stroke="#333" stroke-width="0.55" />
<line x1="77.98" y1="332.45" x2="82" y2="332.45" stroke="#333" stroke-width="0.5" />
<line x1="74" y1="333.57" x2="74" y2="334.6" stroke="#333" stroke-width="0.55" />
<line x1="74" y1="333.57" x2="78.05" y2="333.57" stroke="#333" stroke-width="0.55" />
<line x1="78.05" y1="333.57" x2="82" y2="333.57" stroke="#333" stroke-width="0.5" />
<line x1="74" y1="334.6" x2="75.33" y2="334.6" stroke="#333" stroke-width="0.55" />
<line x1="75.33" y1="334.6" x2="82" y2="334.6" stroke="#333" stroke-width="0.5" />
<line x1="26.5" y1="342.4" x2="26.5" y2="350.2" stroke="#222" stroke-width="0.75" />
<line x1="26.5" y1="342.4" x2="44.5" y2="342.4" stroke="#222" stroke-width="0.75" />
<line x1="44.5" y1="339.1" x2="44.5" y2="344.1" stroke="#222" stroke-width="0.75" />
<line x1="44.5" y1="339.1" x2="66" y2="339.1" stroke="#222" stroke-width="0.75" />
<line x1="44.5" y1="344.1" x2="70" y2="344.1" stroke="#222" stroke-width="0.75" />
<line x1="26.5" y1="350.2" x2="59" y2="350.2" stroke="#222" stroke-width="0.75" />
<line x1="66" y1="337.42" x2="66" y2="340.32" stroke="#333" stroke-width="0.55" />
<line x1="66" y1="337.42" x2="68.04" y2="337.42" stroke="#333" stroke-width="0.55" />
<line x1="68.04" y1="336.89" x2="68.04" y2="338.51" stroke="#333" stroke-width="0.55" />
<line x1="68.04" y1="336.89" x2="71.58" y2="336.89" stroke="#333" stroke-width="0.55" />
<line x1="71.58" y1="336.38" x2="71.58" y2="337.47" stroke="#333" stroke-width="0.55" />
<line x1="71.58" y1="336.38" x2="74.91" y2="336.38" stroke="#333" stroke-width="0.55" />
<line x1="74.91" y1="336.38" x2="82" y2="336.38" stroke="#333" stroke-width="0.5" />
<line x1="71.58" y1="337.47" x2="75.24" y2="337.47" stroke="#333" stroke-width="0.55" />
<line x1="75.24" y1="337.47" x2="82" y2="337.47" stroke="#333" stroke-width="0.5" />
<line x1="68.04" y1="338.51" x2="69.29" y2="338.51" stroke="#333" stroke-width="0.55" />
<line x1="69.29" y1="338.51" x2="82" y2="338.51" stroke="#333" stroke-width="0.5" />
<line x1="66" y1="340.32" x2="68.13" y2="340.32" stroke="#333" stroke-width="0.55" />
<line x1="68.13" y1="339.44" x2="68.13" y2="340.72" stroke="#333" stroke-width="0.55" />
<line x1="68.13" y1="339.44" x2="69.67" y2="339.44" stroke="#333" stroke-width="0.55" />
<line x1="69.67" y1="339.44" x2="82" y2="339.44" stroke="#333" stroke-width="0.5" />
<line x1="68.13" y1="340.72" x2="72.37" y2="340.72" stroke="#333" stroke-width="0.55" />
<line x1="72.37" y1="340.31" x2="72.37" y2="341.19" stroke="#333" stroke-width="0.55" />
<line x1="72.37" y1="340.31" x2="74.08" y2="340.31" stroke="#333" stroke-width="0.55" />
<line x1="74.08" y1="340.31" x2="82" y2="340.31" stroke="#333" stroke-width="0.5" />
<line x1="72.37" y1="341.19" x2="74.41" y2="341.19" stroke="#333" stroke-width="0.55" />
<line x1="74.41" y1="341.19" x2="82" y2="341.19" stroke="#333" stroke-width="0.5" />
<line x1="70" y1="342.9" x2="70" y2="345.67" stroke="#333" stroke-width="0.55" />
<line x1="70" y1="342.9" x2="71.3" y2="342.9" stroke="#333" stroke-width="0.55" />
<line x1="71.3" y1="342.41" x2="71.3" y2="343.71" stroke="#333" stroke-width="0.55" />
<line x1="71.3" y1="342.41" x2="73.63" y2="342.41" stroke="#333" stroke-width="0.55" />
<line x1="73.63" y1="341.86" x2="73.63" y2="342.67" stroke="#333" stroke-width="0.55" />
<line x1="73.63" y1="341.86" x2="76.43" y2="341.86" stroke="#333" stroke-width="0.55" />
<line x1="76.43" y1="341.86" x2="82" y2="341.86" stroke="#333" stroke-width="0.5" />
<line x1="73.63" y1="342.67" x2="76.08" y2="342.67" stroke="#333" stroke-width="0.55" />
<line x1="76.08" y1="342.67" x2="82" y2="342.67" stroke="#333" stroke-width="0.5" />
<line x1="71.3" y1="343.71" x2="74.97" y2="343.71" stroke="#333" stroke-width="0.55" />
<line x1="74.97" y1="343.71" x2="82" y2="343.71" stroke="#333" stroke-width="0.5" />
<line x1="70" y1="345.67" x2="71.92" y2="345.67" stroke="#333" stroke-width="0.55" />
<line x1="71.92" y1="344.78" x2="71.92" y2="346.26" stroke="#333" stroke-width="0.55" />
<line x1="71.92" y1="344.78" x2="74.68" y2="344.78" stroke="#333" stroke-width="0.55" />
<line x1="74.68" y1="344.78" x2="82" y2="344.78" stroke="#333" stroke-width="0.5" />
<line x1="71.92" y1="346.26" x2="74.34" y2="346.26" stroke="#333" stroke-width="0.55" />
<line x1="74.34" y1="345.68" x2="74.34" y2="346.57" stroke="#333" stroke-width="0.55" />
<line x1="74.34" y1="345.68" x2="77.91" y2="345.68" stroke="#333" stroke-width="0.55" />
<line x1="77.91" y1="345.68" x2="82" y2="345.68" stroke="#333" stroke-width="0.5" />
<line x1="74.34" y1="346.57" x2="78.37" y2="346.57" stroke="#333" stroke-width="0.55" />
<line x1="78.37" y1="346.57" x2="82" y2="346.57" stroke="#333" stroke-width="0.5" />
<line x1="59" y1="347.99" x2="59" y2="349.31" stroke="#333" stroke-width="0.55" />
<line x1="59" y1="347.99" x2="62.3" y2="347.99" stroke="#333" stroke-width="0.55" />
<line x1="62.3" y1="347.56" x2="62.3" y2="348.4" stroke="#333" stroke-width="0.55" />
<line x1="62.3" y1="347.56" x2="66.07" y2="347.56" stroke="#333" stroke-width="0.55" />
<line x1="66.07" y1="347.56" x2="82" y2="347.56" stroke="#333" stroke-width="0.5" />
<line x1="62.3" y1="348.4" x2="64.04" y2="348.4" stroke="#333" stroke-width="0.55" />
<line x1="64.04" y1="348.4" x2="82" y2="348.4" stroke="#333" stroke-width="0.5" />
<line x1="59" y1="349.31" x2="60.35" y2="349.31" stroke="#333" stroke-width="0.55" />
<line x1="60.35" y1="349.31" x2="82" y2="349.31" stroke="#333" stroke-width="0.5" />
<defs><linearGradient id="bk" x1="0" x2="1" y1="0" y2="0"><stop offset="0" stop-color="#000" stop-opacity="0"/><stop offset="0.55" stop-color="#000" stop-opacity="0.55"/><stop offset="1" stop-color="#000" stop-opacity="1"/></linearGradient></defs>
<rect x="81.5" y="93" width="8.6" height="33.5" fill="#000" />
<rect x="77" y="93" width="4.6" height="33.5" fill="url(#bk)" />
<rect x="81.5" y="129.1" width="8.6" height="29.3" fill="#000" />
<rect x="77" y="129.1" width="4.6" height="29.3" fill="url(#bk)" />
<rect x="81.5" y="160.9" width="8.6" height="15.9" fill="#000" />
<rect x="77" y="160.9" width="4.6" height="15.9" fill="url(#bk)" />
<rect x="81.5" y="178.2" width="8.6" height="40.6" fill="#000" />
<rect x="77" y="178.2" width="4.6" height="40.6" fill="url(#bk)" />
<rect x="81.5" y="221" width="8.6" height="38.8" fill="#000" />
<rect x="77" y="221" width="4.6" height="38.8" fill="url(#bk)" />
<rect x="81.5" y="262.6" width="8.6" height="27.4" fill="#000" />
<rect x="77" y="262.6" width="4.6" height="27.4" fill="url(#bk)" />
<rect x="81.5" y="292.6" width="8.6" height="57.2" fill="#000" />
<rect x="77" y="292.6" width="4.6" height="57.2" fill="url(#bk)" />
<rect x="70" y="116.85" width="20.2" height="0.7" fill="#fff" opacity="0.7"/>
<rect x="70" y="149.95" width="20.2" height="0.7" fill="#fff" opacity="0.7"/>
<rect x="70" y="206.55" width="20.2" height="0.7" fill="#fff" opacity="0.7"/>
<rect x="70" y="283.55" width="20.2" height="0.7" fill="#fff" opacity="0.7"/>
<rect x="70" y="335.05" width="20.2" height="0.7" fill="#fff" opacity="0.7"/>
<rect x="92" y="283.5" width="7.2" height="0.8" fill="#fff" opacity="0.9"/>
<rect x="92" y="335" width="7.2" height="0.8" fill="#fff" opacity="0.9"/>
<text x="455" y="46.8" font-size="8.8" text-anchor="middle" textLength="40.7" lengthAdjust="spacingAndGlyphs" transform="rotate(-90 455 46.8)" >References</text>
<text x="464.2" y="46.8" font-size="8.8" text-anchor="middle" textLength="21.6" lengthAdjust="spacingAndGlyphs" transform="rotate(-90 464.2 46.8)" >(cells)</text>
<text x="454.4" y="221.7" font-size="8.6" text-anchor="middle" textLength="71.4" lengthAdjust="spacingAndGlyphs" transform="rotate(-90 454.4 221.7)" >Observations (cells)</text>
<rect x="466.9" y="166.1" width="5.2" height="5.2" fill="#7dcdb8" />
<text x="475.2" y="170.9" font-size="6.3" fill="#222" >rLN010</text>
<rect x="466.9" y="176.01" width="5.2" height="5.2" fill="#f0df6a" />
<text x="475.2" y="180.81" font-size="6.3" fill="#222" >rLN073</text>
<rect x="466.9" y="185.92" width="5.2" height="5.2" fill="#f3eeb3" />
<text x="475.2" y="190.72" font-size="6.3" fill="#222" >PCNSL_01</text>
<rect x="466.9" y="195.83" width="5.2" height="5.2" fill="#ef6f5e" />
<text x="475.2" y="200.63" font-size="6.3" fill="#222" >PCNSL_02</text>
<rect x="466.9" y="205.74" width="5.2" height="5.2" fill="#6fa1d2" />
<text x="475.2" y="210.54" font-size="6.3" fill="#222" >PCNSL_03</text>
<rect x="466.9" y="215.65" width="5.2" height="5.2" fill="#f4a35e" />
<text x="475.2" y="220.45" font-size="6.3" fill="#222" >PCNSL_04</text>
<rect x="466.9" y="225.56" width="5.2" height="5.2" fill="#f5c6d8" />
<text x="475.2" y="230.36" font-size="6.3" fill="#222" >PCNSL_05</text>
<rect x="466.9" y="235.47" width="5.2" height="5.2" fill="#d8d3d8" />
<text x="475.2" y="240.27" font-size="6.3" fill="#222" >PCNSL_09</text>
<rect x="466.9" y="245.38" width="5.2" height="5.2" fill="#a8d068" />
<text x="475.2" y="250.18" font-size="6.3" fill="#222" >PCNSL_10</text>
<rect x="466.9" y="255.29" width="5.2" height="5.2" fill="#7dc9b5" />
<text x="475.2" y="260.09" font-size="6.3" fill="#222" >B_tumor</text>
<rect x="466.9" y="265.2" width="5.2" height="5.2" fill="#a678b8" />
<text x="475.2" y="270" font-size="6.3" fill="#222" >B_tumor_PBL</text>
<text x="115" y="351.8" font-size="6.5" text-anchor="end" fill="#222" transform="rotate(-90 115 351.8)" >chr1</text>
<text x="147" y="351.8" font-size="6.5" text-anchor="end" fill="#222" transform="rotate(-90 147 351.8)" >chr2</text>
<text x="172.3" y="351.8" font-size="6.5" text-anchor="end" fill="#222" transform="rotate(-90 172.3 351.8)" >chr3</text>
<text x="193.3" y="351.8" font-size="6.5" text-anchor="end" fill="#222" transform="rotate(-90 193.3 351.8)" >chr4</text>
<text x="205.6" y="351.8" font-size="6.5" text-anchor="end" fill="#222" transform="rotate(-90 205.6 351.8)" >chr5</text>
<text x="221.1" y="351.8" font-size="6.5" text-anchor="end" fill="#222" transform="rotate(-90 221.1 351.8)" >chr6</text>
<text x="238.7" y="351.8" font-size="6.5" text-anchor="end" fill="#222" transform="rotate(-90 238.7 351.8)" >chr7</text>
<text x="255.7" y="351.8" font-size="6.5" text-anchor="end" fill="#222" transform="rotate(-90 255.7 351.8)" >chr8</text>
<text x="267.3" y="351.8" font-size="6.5" text-anchor="end" fill="#222" transform="rotate(-90 267.3 351.8)" >chr9</text>
<text x="281.3" y="351.8" font-size="6.5" text-anchor="end" fill="#222" transform="rotate(-90 281.3 351.8)" >chr10</text>
<text x="293.8" y="351.8" font-size="6.5" text-anchor="end" fill="#222" transform="rotate(-90 293.8 351.8)" >chr11</text>
<text x="311.1" y="351.8" font-size="6.5" text-anchor="end" fill="#222" transform="rotate(-90 311.1 351.8)" >chr12</text>
<text x="331.9" y="351.8" font-size="6.5" text-anchor="end" fill="#222" transform="rotate(-90 331.9 351.8)" >chr13</text>
<text x="337.3" y="351.8" font-size="6.5" text-anchor="end" fill="#222" transform="rotate(-90 337.3 351.8)" >chr14</text>
<text x="350.9" y="351.8" font-size="6.5" text-anchor="end" fill="#222" transform="rotate(-90 350.9 351.8)" >chr15</text>
<text x="362" y="351.8" font-size="6.5" text-anchor="end" fill="#222" transform="rotate(-90 362 351.8)" >chr16</text>
<text x="377.2" y="351.8" font-size="6.5" text-anchor="end" fill="#222" transform="rotate(-90 377.2 351.8)" >chr17</text>
<text x="397" y="351.8" font-size="6.5" text-anchor="end" fill="#222" transform="rotate(-90 397 351.8)" >chr18</text>
<text x="402.5" y="351.8" font-size="6.5" text-anchor="end" fill="#222" transform="rotate(-90 402.5 351.8)" >chr19</text>
<text x="425.3" y="351.8" font-size="6.5" text-anchor="end" fill="#222" transform="rotate(-90 425.3 351.8)" >chr20</text>
<text x="431.4" y="351.8" font-size="6.5" text-anchor="end" fill="#222" transform="rotate(-90 431.4 351.8)" >chr21</text>
<text x="437.1" y="351.8" font-size="6.5" text-anchor="end" fill="#222" transform="rotate(-90 437.1 351.8)" >chr22</text>
<text x="277.4" y="377.6" font-size="6.8" text-anchor="middle" textLength="39.4" lengthAdjust="spacingAndGlyphs" >Genomic region</text>
<text x="7" y="401.7" font-size="10.6" font-weight="bold" >B</text>
<text x="64" y="397.6" font-size="6" text-anchor="middle" fill="#222" textLength="33.7" lengthAdjust="spacingAndGlyphs" >VDJC genes</text>
<text x="131.2" y="397.6" font-size="6" text-anchor="middle" fill="#222" textLength="45" lengthAdjust="spacingAndGlyphs" >CDR3 sequence</text>
<rect x="49.1" y="415.3" width="9.65" height="105.5" fill="#eeea22" stroke="#2a2a2a" stroke-width="0.95"/>
<rect x="49.1" y="410.5" width="9.65" height="4.8" fill="#f89540" stroke="#2a2a2a" stroke-width="0.95"/>
<rect x="49.1" y="407.3" width="9.65" height="3.2" fill="#cc4778" stroke="#2a2a2a" stroke-width="0.95"/>
<rect x="59.2" y="411.5" width="9.2" height="109.3" fill="#eeea22" stroke="#2a2a2a" stroke-width="0.95"/>
<rect x="59.2" y="407.3" width="9.2" height="4.2" fill="#cc4778" stroke="#2a2a2a" stroke-width="0.95"/>
<rect x="68.8" y="410.02" width="8.7" height="110.78" fill="#eeea22" stroke="#2a2a2a" stroke-width="0.95"/>
<rect x="68.8" y="407.3" width="8.7" height="2.72" fill="#221060" stroke="#2a2a2a" stroke-width="0.95"/>
<rect x="117.3" y="414.79" width="9" height="106.01" fill="#eeea22" stroke="#2a2a2a" stroke-width="0.95"/>
<rect x="117.3" y="410.48" width="9" height="4.31" fill="#f89540" stroke="#2a2a2a" stroke-width="0.95"/>
<rect x="117.3" y="407.3" width="9" height="3.18" fill="#cc4778" stroke="#2a2a2a" stroke-width="0.95"/>
<rect x="126.6" y="411.39" width="8.9" height="109.41" fill="#eeea22" stroke="#2a2a2a" stroke-width="0.95"/>
<rect x="126.6" y="407.3" width="8.9" height="4.09" fill="#cc4778" stroke="#2a2a2a" stroke-width="0.95"/>
<rect x="135.8" y="453.83" width="8.9" height="66.97" fill="#eeea22" stroke="#2a2a2a" stroke-width="0.95"/>
<rect x="135.8" y="422.28" width="8.9" height="31.55" fill="#f89540" stroke="#2a2a2a" stroke-width="0.95"/>
<rect x="135.8" y="414.79" width="8.9" height="7.49" fill="#cc4778" stroke="#2a2a2a" stroke-width="0.95"/>
<rect x="135.8" y="407.3" width="8.9" height="7.49" fill="#5a1690" stroke="#2a2a2a" stroke-width="0.95"/>
<line x1="48.6" y1="402.3" x2="48.6" y2="526.2" stroke="#222" stroke-width="0.8" />
<line x1="48.2" y1="525.8" x2="79.2" y2="525.8" stroke="#222" stroke-width="0.8" />
<line x1="146.5" y1="402.7" x2="146.5" y2="526.2" stroke="#222" stroke-width="0.8" />
<line x1="116" y1="525.8" x2="146.9" y2="525.8" stroke="#222" stroke-width="0.8" />
<line x1="45.8" y1="407.3" x2="48.6" y2="407.3" stroke="#222" stroke-width="0.8" />
<line x1="146.5" y1="407.3" x2="149.3" y2="407.3" stroke="#222" stroke-width="0.8" />
<text x="43.3" y="409.5" font-size="6.3" text-anchor="end" fill="#333" textLength="13.2" lengthAdjust="spacingAndGlyphs" >1.00</text>
<text x="151.9" y="409.5" font-size="6.3" fill="#333" textLength="13" lengthAdjust="spacingAndGlyphs" >1.00</text>
<line x1="45.8" y1="435.67" x2="48.6" y2="435.67" stroke="#222" stroke-width="0.8" />
<line x1="146.5" y1="435.67" x2="149.3" y2="435.67" stroke="#222" stroke-width="0.8" />
<text x="43.3" y="437.87" font-size="6.3" text-anchor="end" fill="#333" textLength="13.2" lengthAdjust="spacingAndGlyphs" >0.75</text>
<text x="151.9" y="437.87" font-size="6.3" fill="#333" textLength="13" lengthAdjust="spacingAndGlyphs" >0.75</text>
<line x1="45.8" y1="464.05" x2="48.6" y2="464.05" stroke="#222" stroke-width="0.8" />
<line x1="146.5" y1="464.05" x2="149.3" y2="464.05" stroke="#222" stroke-width="0.8" />
<text x="43.3" y="466.25" font-size="6.3" text-anchor="end" fill="#333" textLength="13.2" lengthAdjust="spacingAndGlyphs" >0.50</text>
<text x="151.9" y="466.25" font-size="6.3" fill="#333" textLength="13" lengthAdjust="spacingAndGlyphs" >0.50</text>
<line x1="45.8" y1="492.42" x2="48.6" y2="492.42" stroke="#222" stroke-width="0.8" />
<line x1="146.5" y1="492.42" x2="149.3" y2="492.42" stroke="#222" stroke-width="0.8" />
<text x="43.3" y="494.62" font-size="6.3" text-anchor="end" fill="#333" textLength="13.2" lengthAdjust="spacingAndGlyphs" >0.25</text>
<text x="151.9" y="494.62" font-size="6.3" fill="#333" textLength="13" lengthAdjust="spacingAndGlyphs" >0.25</text>
<line x1="45.8" y1="520.8" x2="48.6" y2="520.8" stroke="#222" stroke-width="0.8" />
<line x1="146.5" y1="520.8" x2="149.3" y2="520.8" stroke="#222" stroke-width="0.8" />
<text x="43.3" y="523" font-size="6.3" text-anchor="end" fill="#333" textLength="13.2" lengthAdjust="spacingAndGlyphs" >0.00</text>
<text x="151.9" y="523" font-size="6.3" fill="#333" textLength="13" lengthAdjust="spacingAndGlyphs" >0.00</text>
<line x1="54.1" y1="525.8" x2="54.1" y2="528.6" stroke="#222" stroke-width="0.8" />
<line x1="63.7" y1="525.8" x2="63.7" y2="528.6" stroke="#222" stroke-width="0.8" />
<line x1="73.4" y1="525.8" x2="73.4" y2="528.6" stroke="#222" stroke-width="0.8" />
<line x1="121.7" y1="525.8" x2="121.7" y2="528.6" stroke="#222" stroke-width="0.8" />
<line x1="131.2" y1="525.8" x2="131.2" y2="528.6" stroke="#222" stroke-width="0.8" />
<line x1="140.9" y1="525.8" x2="140.9" y2="528.6" stroke="#222" stroke-width="0.8" />
<text x="25.1" y="464.1" font-size="6.6" text-anchor="middle" fill="#222" textLength="49.4" lengthAdjust="spacingAndGlyphs" transform="rotate(-90 25.1 464.1)" >Relative abundance</text>
<text x="55.7" y="537.3" font-size="6" text-anchor="end" fill="#222" textLength="29.6" lengthAdjust="spacingAndGlyphs" transform="rotate(-45 55.7 537.3)" >PCNSL_05</text>
<text x="65.3" y="537.3" font-size="6" text-anchor="end" fill="#222" textLength="29.6" lengthAdjust="spacingAndGlyphs" transform="rotate(-45 65.3 537.3)" >PCNSL_09</text>
<text x="75" y="537.3" font-size="6" text-anchor="end" fill="#e8393a" textLength="29.6" lengthAdjust="spacingAndGlyphs" transform="rotate(-45 75 537.3)" >PCNSL_10</text>
<text x="123.3" y="537.3" font-size="6" text-anchor="end" fill="#222" textLength="29.6" lengthAdjust="spacingAndGlyphs" transform="rotate(-45 123.3 537.3)" >PCNSL_05</text>
<text x="132.8" y="537.3" font-size="6" text-anchor="end" fill="#222" textLength="29.6" lengthAdjust="spacingAndGlyphs" transform="rotate(-45 132.8 537.3)" >PCNSL_09</text>
<text x="142.5" y="537.3" font-size="6" text-anchor="end" fill="#e8393a" textLength="29.6" lengthAdjust="spacingAndGlyphs" transform="rotate(-45 142.5 537.3)" >PCNSL_10</text>
<line x1="79.2" y1="520.8" x2="117.3" y2="520.8" stroke="#888" stroke-width="0.7" stroke-dasharray="1 1"/>
<line x1="77.5" y1="410" x2="135.8" y2="453.8" stroke="#333" stroke-width="0.45" />
<text x="51.5" y="568.6" font-size="6" fill="#222" textLength="47.3" lengthAdjust="spacingAndGlyphs" >Clonotype Group</text>
<rect x="51.9" y="574.4" width="4.3" height="4.3" fill="#0d0887" stroke="#333" stroke-width="0.7"/>
<text x="59.6" y="578.7" font-size="6" fill="#222" textLength="62.3" lengthAdjust="spacingAndGlyphs" >Rare (0 &lt; x &lt;= 1e−04)</text>
<rect x="51.9" y="584.45" width="4.3" height="4.3" fill="#6a1b9a" stroke="#333" stroke-width="0.7"/>
<text x="59.6" y="588.75" font-size="6" fill="#222" textLength="77.3" lengthAdjust="spacingAndGlyphs" >Small (1e−04 &lt; x &lt;= 0.001)</text>
<rect x="51.9" y="594.5" width="4.3" height="4.3" fill="#cc4778" stroke="#333" stroke-width="0.7"/>
<text x="59.6" y="598.8" font-size="6" fill="#222" textLength="77.3" lengthAdjust="spacingAndGlyphs" >Medium (0.001 &lt; x &lt;= 0.01)</text>
<rect x="51.9" y="604.55" width="4.3" height="4.3" fill="#f89540" stroke="#333" stroke-width="0.7"/>
<text x="59.6" y="608.85" font-size="6" fill="#222" textLength="63.4" lengthAdjust="spacingAndGlyphs" >Large (0.01 &lt; x &lt;= 0.1)</text>
<rect x="51.9" y="614.6" width="4.3" height="4.3" fill="#eeea22" stroke="#333" stroke-width="0.7"/>
<text x="59.6" y="618.9" font-size="6" fill="#222" textLength="81.9" lengthAdjust="spacingAndGlyphs" >Hyperexpanded (0.1 &lt; x &lt;= 1)</text>
<text x="180" y="401.9" font-size="10.6" font-weight="bold" >C</text>
<line x1="215.4" y1="392" x2="215.4" y2="567.9" stroke="#1a1a1a" stroke-width="1.1" />
<line x1="214.9" y1="567.4" x2="465.3" y2="567.4" stroke="#1a1a1a" stroke-width="1.1" />
<line x1="212.1" y1="559.4" x2="215.4" y2="559.4" stroke="#1a1a1a" stroke-width="0.9" />
<text x="209.1" y="561.3" font-size="5.4" text-anchor="end" fill="#333" textLength="3.6" lengthAdjust="spacingAndGlyphs" >0</text>
<line x1="212.1" y1="519.8" x2="215.4" y2="519.8" stroke="#1a1a1a" stroke-width="0.9" />
<text x="209.1" y="521.7" font-size="5.4" text-anchor="end" fill="#333" textLength="14.4" lengthAdjust="spacingAndGlyphs" >1000</text>
<line x1="212.1" y1="480.2" x2="215.4" y2="480.2" stroke="#1a1a1a" stroke-width="0.9" />
<text x="209.1" y="482.1" font-size="5.4" text-anchor="end" fill="#333" textLength="14.4" lengthAdjust="spacingAndGlyphs" >2000</text>
<line x1="212.1" y1="440.6" x2="215.4" y2="440.6" stroke="#1a1a1a" stroke-width="0.9" />
<text x="209.1" y="442.5" font-size="5.4" text-anchor="end" fill="#333" textLength="14.4" lengthAdjust="spacingAndGlyphs" >3000</text>
<line x1="212.1" y1="401" x2="215.4" y2="401" stroke="#1a1a1a" stroke-width="0.9" />
<text x="209.1" y="402.9" font-size="5.4" text-anchor="end" fill="#333" textLength="14.4" lengthAdjust="spacingAndGlyphs" >4000</text>
<rect x="275.2" y="399.6" width="52.3" height="52.9" fill="#F8766D" fill-opacity="0.72"/>
<rect x="275.2" y="452.5" width="52.3" height="45" fill="#D89000" fill-opacity="0.72"/>
<rect x="275.2" y="497.5" width="52.3" height="20.5" fill="#A3A500" fill-opacity="0.72"/>
<rect x="275.2" y="518" width="52.3" height="14.5" fill="#39B600" fill-opacity="0.72"/>
<rect x="275.2" y="532.5" width="52.3" height="5.9" fill="#00BF7D" fill-opacity="0.72"/>
<rect x="275.2" y="538.4" width="52.3" height="4.6" fill="#00BFC4" fill-opacity="0.72"/>
<rect x="275.2" y="543" width="52.3" height="5" fill="#00B0F6" fill-opacity="0.72"/>
<rect x="275.2" y="548" width="52.3" height="4.2" fill="#9590FF" fill-opacity="0.72"/>
<rect x="275.2" y="552.2" width="52.3" height="4.2" fill="#E76BF3" fill-opacity="0.72"/>
<rect x="275.2" y="556.4" width="52.3" height="3" fill="#FF62BC" fill-opacity="0.72"/>
<path d="M353.7 399.6 C379.7 399.6 379.7 399.6 405.7 399.6 L405.7 420.5 C379.7 420.5 379.7 420.5 353.7 420.5 Z" fill="#F8766D" fill-opacity="0.78"/>
<path d="M353.7 420.5 C379.7 420.5 379.7 467 405.7 467 L405.7 471.5 C379.7 471.5 379.7 425 353.7 425 Z" fill="#F8766D" fill-opacity="0.78"/>
<path d="M353.7 425 C379.7 425 379.7 477.4 405.7 477.4 L405.7 483.9 C379.7 483.9 379.7 431.5 353.7 431.5 Z" fill="#F8766D" fill-opacity="0.78"/>
<path d="M353.7 431.5 C379.7 431.5 379.7 496.8 405.7 496.8 L405.7 497.8 C379.7 497.8 379.7 432.5 353.7 432.5 Z" fill="#F8766D" fill-opacity="0.78"/>
<path d="M353.7 432.5 C379.7 432.5 379.7 500.3 405.7 500.3 L405.7 520.3 C379.7 520.3 379.7 452.5 353.7 452.5 Z" fill="#F8766D" fill-opacity="0.78"/>
<path d="M353.7 452.5 C379.7 452.5 379.7 420.5 405.7 420.5 L405.7 439.7 C379.7 439.7 379.7 471.7 353.7 471.7 Z" fill="#D89000" fill-opacity="0.78"/>
<path d="M353.7 471.7 C379.7 471.7 379.7 471.5 405.7 471.5 L405.7 474.5 C379.7 474.5 379.7 474.7 353.7 474.7 Z" fill="#D89000" fill-opacity="0.78"/>
<path d="M353.7 474.7 C379.7 474.7 379.7 483.9 405.7 483.9 L405.7 490.2 C379.7 490.2 379.7 481 353.7 481 Z" fill="#D89000" fill-opacity="0.78"/>
<path d="M353.7 481 C379.7 481 379.7 497.8 405.7 497.8 L405.7 498.8 C379.7 498.8 379.7 482 353.7 482 Z" fill="#D89000" fill-opacity="0.78"/>
<path d="M353.7 482 C379.7 482 379.7 520.3 405.7 520.3 L405.7 535.8 C379.7 535.8 379.7 497.5 353.7 497.5 Z" fill="#D89000" fill-opacity="0.78"/>
<path d="M353.7 497.5 C379.7 497.5 379.7 439.7 405.7 439.7 L405.7 448.6 C379.7 448.6 379.7 506.4 353.7 506.4 Z" fill="#A3A500" fill-opacity="0.78"/>
<path d="M353.7 506.4 C379.7 506.4 379.7 474.5 405.7 474.5 L405.7 475.5 C379.7 475.5 379.7 507.4 353.7 507.4 Z" fill="#A3A500" fill-opacity="0.78"/>
<path d="M353.7 507.4 C379.7 507.4 379.7 490.2 405.7 490.2 L405.7 492.8 C379.7 492.8 379.7 510 353.7 510 Z" fill="#A3A500" fill-opacity="0.78"/>
<path d="M353.7 510 C379.7 510 379.7 498.8 405.7 498.8 L405.7 499.3 C379.7 499.3 379.7 510.5 353.7 510.5 Z" fill="#A3A500" fill-opacity="0.78"/>
<path d="M353.7 510.5 C379.7 510.5 379.7 535.8 405.7 535.8 L405.7 543.3 C379.7 543.3 379.7 518 353.7 518 Z" fill="#A3A500" fill-opacity="0.78"/>
<path d="M353.7 518 C379.7 518 379.7 448.6 405.7 448.6 L405.7 456 C379.7 456 379.7 525.4 353.7 525.4 Z" fill="#39B600" fill-opacity="0.78"/>
<path d="M353.7 525.4 C379.7 525.4 379.7 475.5 405.7 475.5 L405.7 476.1 C379.7 476.1 379.7 526 353.7 526 Z" fill="#39B600" fill-opacity="0.78"/>
<path d="M353.7 526 C379.7 526 379.7 492.8 405.7 492.8 L405.7 494.7 C379.7 494.7 379.7 527.9 353.7 527.9 Z" fill="#39B600" fill-opacity="0.78"/>
<path d="M353.7 527.9 C379.7 527.9 379.7 499.3 405.7 499.3 L405.7 499.6 C379.7 499.6 379.7 528.2 353.7 528.2 Z" fill="#39B600" fill-opacity="0.78"/>
<path d="M353.7 528.2 C379.7 528.2 379.7 543.3 405.7 543.3 L405.7 547.6 C379.7 547.6 379.7 532.5 353.7 532.5 Z" fill="#39B600" fill-opacity="0.78"/>
<path d="M353.7 532.5 C379.7 532.5 379.7 456 405.7 456 L405.7 458.6 C379.7 458.6 379.7 535.1 353.7 535.1 Z" fill="#00BF7D" fill-opacity="0.78"/>
<path d="M353.7 535.1 C379.7 535.1 379.7 476.1 405.7 476.1 L405.7 476.3 C379.7 476.3 379.7 535.3 353.7 535.3 Z" fill="#00BF7D" fill-opacity="0.78"/>
<path d="M353.7 535.3 C379.7 535.3 379.7 494.7 405.7 494.7 L405.7 495.2 C379.7 495.2 379.7 535.8 353.7 535.8 Z" fill="#00BF7D" fill-opacity="0.78"/>
<path d="M353.7 535.8 C379.7 535.8 379.7 499.6 405.7 499.6 L405.7 499.7 C379.7 499.7 379.7 535.9 353.7 535.9 Z" fill="#00BF7D" fill-opacity="0.78"/>
<path d="M353.7 535.9 C379.7 535.9 379.7 547.6 405.7 547.6 L405.7 550.1 C379.7 550.1 379.7 538.4 353.7 538.4 Z" fill="#00BF7D" fill-opacity="0.78"/>
<path d="M353.7 538.4 C379.7 538.4 379.7 458.6 405.7 458.6 L405.7 459.9 C379.7 459.9 379.7 539.7 353.7 539.7 Z" fill="#00BFC4" fill-opacity="0.78"/>
<path d="M353.7 539.7 C379.7 539.7 379.7 476.3 405.7 476.3 L405.7 476.4 C379.7 476.4 379.7 539.8 353.7 539.8 Z" fill="#00BFC4" fill-opacity="0.78"/>
<path d="M353.7 539.8 C379.7 539.8 379.7 495.2 405.7 495.2 L405.7 495.4 C379.7 495.4 379.7 540 353.7 540 Z" fill="#00BFC4" fill-opacity="0.78"/>
<path d="M353.7 540 C379.7 540 379.7 499.7 405.7 499.7 L405.7 499.8 C379.7 499.8 379.7 540.1 353.7 540.1 Z" fill="#00BFC4" fill-opacity="0.78"/>
<path d="M353.7 540.1 C379.7 540.1 379.7 550.1 405.7 550.1 L405.7 553 C379.7 553 379.7 543 353.7 543 Z" fill="#00BFC4" fill-opacity="0.78"/>
<path d="M353.7 543 C379.7 543 379.7 459.9 405.7 459.9 L405.7 462.2 C379.7 462.2 379.7 545.3 353.7 545.3 Z" fill="#00B0F6" fill-opacity="0.78"/>
<path d="M353.7 545.3 C379.7 545.3 379.7 476.4 405.7 476.4 L405.7 476.6 C379.7 476.6 379.7 545.5 353.7 545.5 Z" fill="#00B0F6" fill-opacity="0.78"/>
<path d="M353.7 545.5 C379.7 545.5 379.7 495.4 405.7 495.4 L405.7 495.8 C379.7 495.8 379.7 545.9 353.7 545.9 Z" fill="#00B0F6" fill-opacity="0.78"/>
<path d="M353.7 545.9 C379.7 545.9 379.7 499.8 405.7 499.8 L405.7 499.9 C379.7 499.9 379.7 546 353.7 546 Z" fill="#00B0F6" fill-opacity="0.78"/>
<path d="M353.7 546 C379.7 546 379.7 553 405.7 553 L405.7 555 C379.7 555 379.7 548 353.7 548 Z" fill="#00B0F6" fill-opacity="0.78"/>
<path d="M353.7 548 C379.7 548 379.7 462.2 405.7 462.2 L405.7 464.2 C379.7 464.2 379.7 550 353.7 550 Z" fill="#9590FF" fill-opacity="0.78"/>
<path d="M353.7 550 C379.7 550 379.7 476.6 405.7 476.6 L405.7 476.8 C379.7 476.8 379.7 550.2 353.7 550.2 Z" fill="#9590FF" fill-opacity="0.78"/>
<path d="M353.7 550.2 C379.7 550.2 379.7 495.8 405.7 495.8 L405.7 496.1 C379.7 496.1 379.7 550.5 353.7 550.5 Z" fill="#9590FF" fill-opacity="0.78"/>
<path d="M353.7 550.5 C379.7 550.5 379.7 499.9 405.7 499.9 L405.7 500 C379.7 500 379.7 550.6 353.7 550.6 Z" fill="#9590FF" fill-opacity="0.78"/>
<path d="M353.7 550.6 C379.7 550.6 379.7 555 405.7 555 L405.7 556.6 C379.7 556.6 379.7 552.2 353.7 552.2 Z" fill="#9590FF" fill-opacity="0.78"/>
<path d="M353.7 552.2 C379.7 552.2 379.7 464.2 405.7 464.2 L405.7 466.4 C379.7 466.4 379.7 554.4 353.7 554.4 Z" fill="#E76BF3" fill-opacity="0.78"/>
<path d="M353.7 554.4 C379.7 554.4 379.7 476.8 405.7 476.8 L405.7 477 C379.7 477 379.7 554.6 353.7 554.6 Z" fill="#E76BF3" fill-opacity="0.78"/>
<path d="M353.7 554.6 C379.7 554.6 379.7 496.1 405.7 496.1 L405.7 496.3 C379.7 496.3 379.7 554.8 353.7 554.8 Z" fill="#E76BF3" fill-opacity="0.78"/>
<path d="M353.7 554.8 C379.7 554.8 379.7 500 405.7 500 L405.7 500.1 C379.7 500.1 379.7 554.9 353.7 554.9 Z" fill="#E76BF3" fill-opacity="0.78"/>
<path d="M353.7 554.9 C379.7 554.9 379.7 556.6 405.7 556.6 L405.7 558.1 C379.7 558.1 379.7 556.4 353.7 556.4 Z" fill="#E76BF3" fill-opacity="0.78"/>
<path d="M353.7 556.4 C379.7 556.4 379.7 466.4 405.7 466.4 L405.7 467.6 C379.7 467.6 379.7 557.6 353.7 557.6 Z" fill="#FF62BC" fill-opacity="0.78"/>
<path d="M353.7 557.6 C379.7 557.6 379.7 477 405.7 477 L405.7 477.2 C379.7 477.2 379.7 557.8 353.7 557.8 Z" fill="#FF62BC" fill-opacity="0.78"/>
<path d="M353.7 557.8 C379.7 557.8 379.7 496.3 405.7 496.3 L405.7 496.5 C379.7 496.5 379.7 558 353.7 558 Z" fill="#FF62BC" fill-opacity="0.78"/>
<path d="M353.7 558 C379.7 558 379.7 500.1 405.7 500.1 L405.7 500.15 C379.7 500.15 379.7 558.05 353.7 558.05 Z" fill="#FF62BC" fill-opacity="0.78"/>
<path d="M353.7 558.05 C379.7 558.05 379.7 558.1 405.7 558.1 L405.7 559.4 C379.7 559.4 379.7 559.35 353.7 559.35 Z" fill="#FF62BC" fill-opacity="0.78"/>
<path d="M353.7 559.35 C379.7 559.35 379.7 559.2 405.7 559.2 L405.7 559.25 C379.7 559.25 379.7 559.4 353.7 559.4 Z" fill="#FF62BC" fill-opacity="0.78"/>
<rect x="249.4" y="399.6" width="25.8" height="159.8" fill="#fff" stroke="#888" stroke-width="0.8"/>
<rect x="327.5" y="399.6" width="26.2" height="52.9" fill="#fff" stroke="#444" stroke-width="0.8"/>
<rect x="327.5" y="452.5" width="26.2" height="45" fill="#fff" stroke="#444" stroke-width="0.8"/>
<rect x="327.5" y="497.5" width="26.2" height="20.5" fill="#fff" stroke="#444" stroke-width="0.8"/>
<rect x="327.5" y="518" width="26.2" height="14.5" fill="#fff" stroke="#444" stroke-width="0.8"/>
<rect x="327.5" y="532.5" width="26.2" height="5.9" fill="#fff" stroke="#444" stroke-width="0.8"/>
<rect x="327.5" y="538.4" width="26.2" height="4.6" fill="#fff" stroke="#444" stroke-width="0.8"/>
<rect x="327.5" y="543" width="26.2" height="5" fill="#fff" stroke="#444" stroke-width="0.8"/>
<rect x="327.5" y="548" width="26.2" height="4.2" fill="#fff" stroke="#444" stroke-width="0.8"/>
<rect x="327.5" y="552.2" width="26.2" height="4.2" fill="#fff" stroke="#444" stroke-width="0.8"/>
<rect x="327.5" y="556.4" width="26.2" height="3" fill="#fff" stroke="#444" stroke-width="0.8"/>
<rect x="405.7" y="399.6" width="26.1" height="67.4" fill="#fff" stroke="#444" stroke-width="0.8"/>
<rect x="405.7" y="467" width="26.1" height="10.4" fill="#fff" stroke="#444" stroke-width="0.8"/>
<rect x="405.7" y="477.4" width="26.1" height="19.4" fill="#fff" stroke="#444" stroke-width="0.8"/>
<rect x="405.7" y="496.8" width="26.1" height="3.5" fill="#fff" stroke="#444" stroke-width="0.8"/>
<rect x="405.7" y="500.3" width="26.1" height="58.9" fill="#fff" stroke="#444" stroke-width="0.8"/>
<rect x="405.7" y="559.2" width="26.1" height="0.3" fill="#fff" stroke="#444" stroke-width="0.8"/>
<text x="340.6" y="427.15" font-size="3.9" text-anchor="middle" fill="#333" >clonotypeA</text>
<text x="340.6" y="476.1" font-size="3.9" text-anchor="middle" fill="#333" >clonotypeB</text>
<text x="340.6" y="508.85" font-size="3.9" text-anchor="middle" fill="#333" >clonotypeC</text>
<text x="340.6" y="526.35" font-size="3.9" text-anchor="middle" fill="#333" >clonotypeD</text>
<text x="340.6" y="536.55" font-size="2.9" text-anchor="middle" fill="#333" >clonotypeE</text>
<text x="340.6" y="541.8" font-size="2.9" text-anchor="middle" fill="#333" >clonotypeF</text>
<text x="340.6" y="546.6" font-size="2.9" text-anchor="middle" fill="#333" >clonotypeG</text>
<text x="340.6" y="551.2" font-size="2.9" text-anchor="middle" fill="#333" >clonotypeH</text>
<text x="340.6" y="555.4" font-size="2.9" text-anchor="middle" fill="#333" >clonotypeI</text>
<text x="340.6" y="559" font-size="2.9" text-anchor="middle" fill="#333" >clonotypeJ</text>
<text x="418.75" y="434.6" font-size="3.9" text-anchor="middle" fill="#333" >DZa/DZc</text>
<text x="418.75" y="473.5" font-size="3.9" text-anchor="middle" fill="#333" >DZc/INTc</text>
<text x="418.75" y="488.4" font-size="3.9" text-anchor="middle" fill="#333" >INTa/INTc</text>
<text x="418.75" y="531.05" font-size="3.9" text-anchor="middle" fill="#333" >PBLa/PBLb</text>
<text x="233.4" y="478.1" font-size="6.28" fill="#222" textLength="77.7" lengthAdjust="spacingAndGlyphs" >IGHV3−33.NA.IGHJ5.IGHM</text>
<text x="233.4" y="485.8" font-size="6.28" fill="#222" textLength="65.4" lengthAdjust="spacingAndGlyphs" >_IGKV4−1.IGKJ3.IGKC</text>
<line x1="433.6" y1="498.8" x2="438.6" y2="498.8" stroke="#222" stroke-width="0.7" />
<path d="M432.6 498.8 L434.6 497.8 L434.6 499.8 Z" fill="#222"/>
<text x="439.8" y="501" font-size="6.3" fill="#222" textLength="25.5" lengthAdjust="spacingAndGlyphs" >LZa/INTc</text>
<line x1="433.6" y1="559" x2="439.8" y2="559" stroke="#222" stroke-width="0.7" />
<path d="M432.6 559.0 L434.6 558.0 L434.6 560.0 Z" fill="#222"/>
<text x="443" y="561.2" font-size="6.3" fill="#222" textLength="29.5" lengthAdjust="spacingAndGlyphs" >PreM/INTd</text>
<text x="258.8" y="576.4" font-size="6" text-anchor="middle" fill="#222" >VDJC gene</text>
<text x="340.6" y="576.4" font-size="6" text-anchor="middle" fill="#222" >CDR3 sequence</text>
<text x="416.3" y="576.4" font-size="6" text-anchor="middle" fill="#222" >GC cluster</text>
<text x="471.4" y="431.8" font-size="6.2" fill="#222" textLength="31.2" lengthAdjust="spacingAndGlyphs" >PCNSL_10</text>
<rect x="471.3" y="437.8" width="4.6" height="4.6" fill="#eab8bf" />
<text x="478.7" y="442.2" font-size="6.2" fill="#333" >clonotypeA</text>
<rect x="471.3" y="447.79" width="4.6" height="4.6" fill="#dcc184" />
<text x="478.7" y="452.19" font-size="6.2" fill="#333" >clonotypeB</text>
<rect x="471.3" y="457.78" width="4.6" height="4.6" fill="#cdc892" />
<text x="478.7" y="462.18" font-size="6.2" fill="#333" >clonotypeC</text>
<rect x="471.3" y="467.77" width="4.6" height="4.6" fill="#acd0a2" />
<text x="478.7" y="472.17" font-size="6.2" fill="#333" >clonotypeD</text>
<rect x="471.3" y="477.76" width="4.6" height="4.6" fill="#a2d2bc" />
<text x="478.7" y="482.16" font-size="6.2" fill="#333" >clonotypeE</text>
<rect x="471.3" y="487.75" width="4.6" height="4.6" fill="#a6d4d6" />
<text x="478.7" y="492.15" font-size="6.2" fill="#333" >clonotypeF</text>
<rect x="471.3" y="497.74" width="4.6" height="4.6" fill="#a9c6e2" />
<text x="478.7" y="502.14" font-size="6.2" fill="#333" >clonotypeG</text>
<rect x="471.3" y="507.73" width="4.6" height="4.6" fill="#b9b7e2" />
<text x="478.7" y="512.13" font-size="6.2" fill="#333" >clonotypeH</text>
<rect x="471.3" y="517.72" width="4.6" height="4.6" fill="#d2b0d8" />
<text x="478.7" y="522.12" font-size="6.2" fill="#333" >clonotypeI</text>
<rect x="471.3" y="527.71" width="4.6" height="4.6" fill="#e4b0cc" />
<text x="478.7" y="532.11" font-size="6.2" fill="#333" >clonotypeJ</text>
<rect x="0" y="0" width="520" height="1" fill="#555" />
<rect x="0" y="0" width="1" height="627" fill="#5a5a5a" />
<rect x="519" y="0" width="1" height="627" fill="#4a4a4a" />
<rect x="0" y="625.5" width="520" height="1.5" fill="#444" /></svg></div>
</body></html>
